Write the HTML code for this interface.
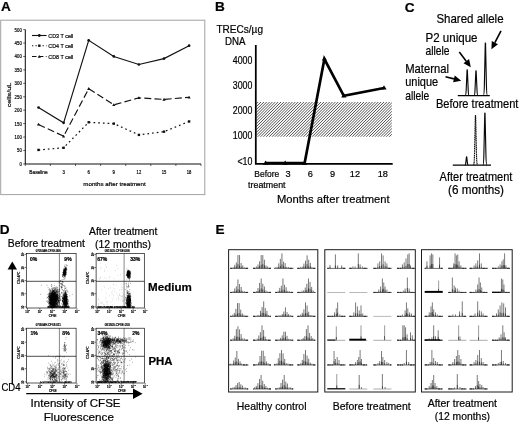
<!DOCTYPE html>
<html><head><meta charset="utf-8"><title>Figure</title>
<style>
html,body{margin:0;padding:0;background:#fff;}
body{width:520px;height:423px;overflow:hidden;font-family:"Liberation Sans",sans-serif;}
svg{display:block;filter:blur(0.3px);}
svg text{font-family:"Liberation Sans",sans-serif;fill:#000;stroke:#000;stroke-width:0.2px;}
</style></head><body>
<svg width="520" height="423" viewBox="0 0 520 423">
<rect width="520" height="423" fill="#fff"/>
<text x="1.0" y="11.4" font-size="13.6" text-anchor="start" font-weight="bold">A</text>
<text x="214.9" y="11.4" font-size="13.6" text-anchor="start" font-weight="bold">B</text>
<text x="404.8" y="11.8" font-size="13.6" text-anchor="start" font-weight="bold">C</text>
<text x="-0.3" y="233.9" font-size="13.6" text-anchor="start" font-weight="bold">D</text>
<text x="215.4" y="233.7" font-size="13.6" text-anchor="start" font-weight="bold">E</text>
<rect x="0.7" y="20.2" width="204.1" height="174.4" fill="#fff" stroke="#a2a2a2" stroke-width="1"/>
<path d="M25.3 29.6V163.9H201" fill="none" stroke="#111" stroke-width="1.05"/>
<path d="M23.2 163.90H25.3" stroke="#222" stroke-width="0.7"/>
<text x="21.8" y="165.8" font-size="5.3" text-anchor="end" font-weight="normal" textLength="2.4" lengthAdjust="spacingAndGlyphs" fill="#222" stroke-width="0.1">0</text>
<path d="M23.2 150.47H25.3" stroke="#222" stroke-width="0.7"/>
<text x="21.8" y="152.37" font-size="5.3" text-anchor="end" font-weight="normal" textLength="4.8" lengthAdjust="spacingAndGlyphs" fill="#222" stroke-width="0.1">50</text>
<path d="M23.2 137.04H25.3" stroke="#222" stroke-width="0.7"/>
<text x="21.8" y="138.94000000000003" font-size="5.3" text-anchor="end" font-weight="normal" textLength="7.2" lengthAdjust="spacingAndGlyphs" fill="#222" stroke-width="0.1">100</text>
<path d="M23.2 123.61H25.3" stroke="#222" stroke-width="0.7"/>
<text x="21.8" y="125.51000000000002" font-size="5.3" text-anchor="end" font-weight="normal" textLength="7.2" lengthAdjust="spacingAndGlyphs" fill="#222" stroke-width="0.1">150</text>
<path d="M23.2 110.18H25.3" stroke="#222" stroke-width="0.7"/>
<text x="21.8" y="112.08000000000001" font-size="5.3" text-anchor="end" font-weight="normal" textLength="7.2" lengthAdjust="spacingAndGlyphs" fill="#222" stroke-width="0.1">200</text>
<path d="M23.2 96.75H25.3" stroke="#222" stroke-width="0.7"/>
<text x="21.8" y="98.65" font-size="5.3" text-anchor="end" font-weight="normal" textLength="7.2" lengthAdjust="spacingAndGlyphs" fill="#222" stroke-width="0.1">250</text>
<path d="M23.2 83.32H25.3" stroke="#222" stroke-width="0.7"/>
<text x="21.8" y="85.22000000000001" font-size="5.3" text-anchor="end" font-weight="normal" textLength="7.2" lengthAdjust="spacingAndGlyphs" fill="#222" stroke-width="0.1">300</text>
<path d="M23.2 69.89H25.3" stroke="#222" stroke-width="0.7"/>
<text x="21.8" y="71.79" font-size="5.3" text-anchor="end" font-weight="normal" textLength="7.2" lengthAdjust="spacingAndGlyphs" fill="#222" stroke-width="0.1">350</text>
<path d="M23.2 56.46H25.3" stroke="#222" stroke-width="0.7"/>
<text x="21.8" y="58.36000000000001" font-size="5.3" text-anchor="end" font-weight="normal" textLength="7.2" lengthAdjust="spacingAndGlyphs" fill="#222" stroke-width="0.1">400</text>
<path d="M23.2 43.03H25.3" stroke="#222" stroke-width="0.7"/>
<text x="21.8" y="44.93" font-size="5.3" text-anchor="end" font-weight="normal" textLength="7.2" lengthAdjust="spacingAndGlyphs" fill="#222" stroke-width="0.1">450</text>
<path d="M23.2 29.60H25.3" stroke="#222" stroke-width="0.7"/>
<text x="21.8" y="31.499999999999993" font-size="5.3" text-anchor="end" font-weight="normal" textLength="7.2" lengthAdjust="spacingAndGlyphs" fill="#222" stroke-width="0.1">500</text>
<path d="M25.30 163.9V166" stroke="#222" stroke-width="0.7"/>
<path d="M50.40 163.9V166" stroke="#222" stroke-width="0.7"/>
<path d="M75.50 163.9V166" stroke="#222" stroke-width="0.7"/>
<path d="M100.60 163.9V166" stroke="#222" stroke-width="0.7"/>
<path d="M125.70 163.9V166" stroke="#222" stroke-width="0.7"/>
<path d="M150.80 163.9V166" stroke="#222" stroke-width="0.7"/>
<path d="M175.90 163.9V166" stroke="#222" stroke-width="0.7"/>
<path d="M201.00 163.9V166" stroke="#222" stroke-width="0.7"/>
<text x="38.5" y="174.2" font-size="5.3" text-anchor="middle" font-weight="normal" textLength="18.4" lengthAdjust="spacingAndGlyphs" fill="#222" stroke-width="0.1">Baseline</text>
<text x="63.6" y="174.2" font-size="5.3" text-anchor="middle" font-weight="normal" textLength="2.4" lengthAdjust="spacingAndGlyphs" fill="#222" stroke-width="0.1">3</text>
<text x="88.7" y="174.2" font-size="5.3" text-anchor="middle" font-weight="normal" textLength="2.4" lengthAdjust="spacingAndGlyphs" fill="#222" stroke-width="0.1">6</text>
<text x="113.80000000000001" y="174.2" font-size="5.3" text-anchor="middle" font-weight="normal" textLength="2.4" lengthAdjust="spacingAndGlyphs" fill="#222" stroke-width="0.1">9</text>
<text x="138.9" y="174.2" font-size="5.3" text-anchor="middle" font-weight="normal" textLength="4.6" lengthAdjust="spacingAndGlyphs" fill="#222" stroke-width="0.1">12</text>
<text x="164.0" y="174.2" font-size="5.3" text-anchor="middle" font-weight="normal" textLength="4.6" lengthAdjust="spacingAndGlyphs" fill="#222" stroke-width="0.1">15</text>
<text x="189.10000000000002" y="174.2" font-size="5.3" text-anchor="middle" font-weight="normal" textLength="4.6" lengthAdjust="spacingAndGlyphs" fill="#222" stroke-width="0.1">18</text>
<text x="114.5" y="185.6" font-size="6.2" text-anchor="middle" font-weight="normal" textLength="62.4" lengthAdjust="spacingAndGlyphs" fill="#222" stroke-width="0.1">months after treatment</text>
<text transform="translate(11.4 95) rotate(-90)" font-size="6" stroke-width="0.1" text-anchor="middle" textLength="24.6" lengthAdjust="spacingAndGlyphs" fill="#222">cells/uL</text>
<polyline points="38.50,107.49 63.60,122.80 88.70,40.34 113.80,56.46 138.90,64.52 164.00,58.61 189.10,45.72" fill="none" stroke="#111" stroke-width="1.15"/>
<polyline points="38.50,149.93 63.60,147.78 88.70,122.27 113.80,123.61 138.90,134.89 164.00,131.67 189.10,121.46" fill="none" stroke="#111" stroke-width="1.2" stroke-dasharray="1.7 3"/>
<polyline points="38.50,124.42 63.60,136.23 88.70,88.69 113.80,104.81 138.90,97.82 164.00,99.44 189.10,97.29" fill="none" stroke="#111" stroke-width="1.15" stroke-dasharray="7 3.2"/>
<circle cx="38.50" cy="107.49" r="1.35" fill="#111"/>
<rect x="37.30" y="148.73" width="2.4" height="2.4" fill="#111"/>
<path d="M36.90 125.62L40.10 125.62L38.50 122.82Z" fill="#111"/>
<circle cx="63.60" cy="122.80" r="1.35" fill="#111"/>
<rect x="62.40" y="146.58" width="2.4" height="2.4" fill="#111"/>
<path d="M62.00 137.43L65.20 137.43L63.60 134.63Z" fill="#111"/>
<circle cx="88.70" cy="40.34" r="1.35" fill="#111"/>
<rect x="87.50" y="121.07" width="2.4" height="2.4" fill="#111"/>
<path d="M87.10 89.89L90.30 89.89L88.70 87.09Z" fill="#111"/>
<circle cx="113.80" cy="56.46" r="1.35" fill="#111"/>
<rect x="112.60" y="122.41" width="2.4" height="2.4" fill="#111"/>
<path d="M112.20 106.01L115.40 106.01L113.80 103.21Z" fill="#111"/>
<circle cx="138.90" cy="64.52" r="1.35" fill="#111"/>
<rect x="137.70" y="133.69" width="2.4" height="2.4" fill="#111"/>
<path d="M137.30 99.02L140.50 99.02L138.90 96.22Z" fill="#111"/>
<circle cx="164.00" cy="58.61" r="1.35" fill="#111"/>
<rect x="162.80" y="130.47" width="2.4" height="2.4" fill="#111"/>
<path d="M162.40 100.64L165.60 100.64L164.00 97.84Z" fill="#111"/>
<circle cx="189.10" cy="45.72" r="1.35" fill="#111"/>
<rect x="187.90" y="120.26" width="2.4" height="2.4" fill="#111"/>
<path d="M187.50 98.49L190.70 98.49L189.10 95.69Z" fill="#111"/>
<path d="M32 35.5H46.6" stroke="#111" stroke-width="1.1"/>
<circle cx="39.3" cy="35.5" r="1.4" fill="#111"/>
<text x="48.3" y="37.6" font-size="6" text-anchor="start" font-weight="normal" textLength="25" lengthAdjust="spacingAndGlyphs" fill="#222" stroke-width="0.1">CD3 T cell</text>
<path d="M32 45.7H46.6" stroke="#111" stroke-width="1.1" stroke-dasharray="1.3 2.2"/>
<rect x="38.1" y="44.5" width="2.4" height="2.4" fill="#111"/>
<text x="48.3" y="47.800000000000004" font-size="6" text-anchor="start" font-weight="normal" textLength="25" lengthAdjust="spacingAndGlyphs" fill="#222" stroke-width="0.1">CD4 T cell</text>
<path d="M32 56.5H46.6" stroke="#111" stroke-width="1.1" stroke-dasharray="4.5 2.4"/>
<path d="M37.7 57.7L40.9 57.7L39.3 54.9Z" fill="#111"/>
<text x="48.3" y="58.6" font-size="6" text-anchor="start" font-weight="normal" textLength="25" lengthAdjust="spacingAndGlyphs" fill="#222" stroke-width="0.1">CD8 T cell</text>
<text x="216.4" y="33.1" font-size="10.2" text-anchor="start" font-weight="normal" textLength="46.6" lengthAdjust="spacingAndGlyphs">TRECs/&#181;g</text>
<text x="225" y="45" font-size="10.2" text-anchor="start" font-weight="normal" textLength="20.5" lengthAdjust="spacingAndGlyphs">DNA</text>
<defs><pattern id="h" width="2.02" height="6" patternUnits="userSpaceOnUse" patternTransform="rotate(45)"><rect x="0" y="0" width="1.0" height="6" fill="#262626"/></pattern></defs>
<clipPath id="hc"><rect x="256.4" y="101.9" width="135.40000000000003" height="34.79999999999998"/></clipPath>
<path d="M219.60 137.70l36.80 -36.80M222.46 137.70l36.80 -36.80M225.32 137.70l36.80 -36.80M228.18 137.70l36.80 -36.80M231.04 137.70l36.80 -36.80M233.90 137.70l36.80 -36.80M236.76 137.70l36.80 -36.80M239.62 137.70l36.80 -36.80M242.48 137.70l36.80 -36.80M245.34 137.70l36.80 -36.80M248.20 137.70l36.80 -36.80M251.06 137.70l36.80 -36.80M253.92 137.70l36.80 -36.80M256.78 137.70l36.80 -36.80M259.64 137.70l36.80 -36.80M262.50 137.70l36.80 -36.80M265.36 137.70l36.80 -36.80M268.22 137.70l36.80 -36.80M271.08 137.70l36.80 -36.80M273.94 137.70l36.80 -36.80M276.80 137.70l36.80 -36.80M279.66 137.70l36.80 -36.80M282.52 137.70l36.80 -36.80M285.38 137.70l36.80 -36.80M288.24 137.70l36.80 -36.80M291.10 137.70l36.80 -36.80M293.96 137.70l36.80 -36.80M296.82 137.70l36.80 -36.80M299.68 137.70l36.80 -36.80M302.54 137.70l36.80 -36.80M305.40 137.70l36.80 -36.80M308.26 137.70l36.80 -36.80M311.12 137.70l36.80 -36.80M313.98 137.70l36.80 -36.80M316.84 137.70l36.80 -36.80M319.70 137.70l36.80 -36.80M322.56 137.70l36.80 -36.80M325.42 137.70l36.80 -36.80M328.28 137.70l36.80 -36.80M331.14 137.70l36.80 -36.80M334.00 137.70l36.80 -36.80M336.86 137.70l36.80 -36.80M339.72 137.70l36.80 -36.80M342.58 137.70l36.80 -36.80M345.44 137.70l36.80 -36.80M348.30 137.70l36.80 -36.80M351.16 137.70l36.80 -36.80M354.02 137.70l36.80 -36.80M356.88 137.70l36.80 -36.80M359.74 137.70l36.80 -36.80M362.60 137.70l36.80 -36.80M365.46 137.70l36.80 -36.80M368.32 137.70l36.80 -36.80M371.18 137.70l36.80 -36.80M374.04 137.70l36.80 -36.80M376.90 137.70l36.80 -36.80M379.76 137.70l36.80 -36.80M382.62 137.70l36.80 -36.80M385.48 137.70l36.80 -36.80M388.34 137.70l36.80 -36.80M391.20 137.70l36.80 -36.80" stroke="#3a3a3a" stroke-width="0.88" fill="none" clip-path="url(#hc)"/>
<path d="M255.8 45V163.8H392.7" fill="none" stroke="#000" stroke-width="1.75"/>
<text x="252.4" y="63.6" font-size="10" text-anchor="end" font-weight="normal" textLength="19.6" lengthAdjust="spacingAndGlyphs">4000</text>
<text x="252.4" y="88.6" font-size="10" text-anchor="end" font-weight="normal" textLength="19.6" lengthAdjust="spacingAndGlyphs">3000</text>
<text x="252.4" y="114.39999999999999" font-size="10" text-anchor="end" font-weight="normal" textLength="19.6" lengthAdjust="spacingAndGlyphs">2000</text>
<text x="252.4" y="139.0" font-size="10" text-anchor="end" font-weight="normal" textLength="19.6" lengthAdjust="spacingAndGlyphs">1000</text>
<text x="252.4" y="165.0" font-size="10" text-anchor="end" font-weight="normal" textLength="15" lengthAdjust="spacingAndGlyphs">&lt;10</text>
<polyline points="265.6,163.2 285.2,163.2 304.6,163.2 324.4,59 343.8,95.8 384,88" fill="none" stroke="#000" stroke-width="2.7" stroke-linejoin="miter"/>
<path d="M263.0 164.79999999999998L268.20000000000005 164.79999999999998L265.6 160.39999999999998Z" fill="#000"/>
<path d="M282.59999999999997 164.79999999999998L287.8 164.79999999999998L285.2 160.39999999999998Z" fill="#000"/>
<path d="M302.0 164.79999999999998L307.20000000000005 164.79999999999998L304.6 160.39999999999998Z" fill="#000"/>
<path d="M321.79999999999995 60.6L327.0 60.6L324.4 56.2Z" fill="#000"/>
<path d="M341.2 97.39999999999999L346.40000000000003 97.39999999999999L343.8 93.0Z" fill="#000"/>
<path d="M381.4 89.6L386.6 89.6L384 85.2Z" fill="#000"/>
<text x="266.8" y="177.3" font-size="8.6" text-anchor="middle" font-weight="normal" textLength="25" lengthAdjust="spacingAndGlyphs">Before</text>
<text x="266.8" y="188.3" font-size="8.6" text-anchor="middle" font-weight="normal" textLength="37.5" lengthAdjust="spacingAndGlyphs">treatment</text>
<text x="288" y="176.7" font-size="9.2" text-anchor="middle" font-weight="normal">3</text>
<text x="310.3" y="176.7" font-size="9.2" text-anchor="middle" font-weight="normal">6</text>
<text x="332.6" y="176.7" font-size="9.2" text-anchor="middle" font-weight="normal">9</text>
<text x="354.9" y="176.7" font-size="9.2" text-anchor="middle" font-weight="normal">12</text>
<text x="382.8" y="176.7" font-size="9.2" text-anchor="middle" font-weight="normal">18</text>
<text x="333.3" y="203" font-size="11.2" text-anchor="middle" font-weight="normal" textLength="112.7" lengthAdjust="spacingAndGlyphs">Months after treatment</text>
<text x="436.4" y="22.9" font-size="11.9" text-anchor="start" font-weight="normal" textLength="67.2" lengthAdjust="spacingAndGlyphs">Shared allele</text>
<text x="425.5" y="41.6" font-size="11.9" text-anchor="start" font-weight="normal" textLength="52" lengthAdjust="spacingAndGlyphs">P2 unique</text>
<text x="425.5" y="54.7" font-size="11.9" text-anchor="start" font-weight="normal" textLength="24" lengthAdjust="spacingAndGlyphs">allele</text>
<text x="405.2" y="73.4" font-size="11.9" text-anchor="start" font-weight="normal" textLength="43.8" lengthAdjust="spacingAndGlyphs">Maternal</text>
<text x="405.2" y="86.3" font-size="11.9" text-anchor="start" font-weight="normal" textLength="33" lengthAdjust="spacingAndGlyphs">unique</text>
<text x="405.2" y="100.2" font-size="11.9" text-anchor="start" font-weight="normal" textLength="24" lengthAdjust="spacingAndGlyphs">allele</text>
<text x="435.9" y="108.2" font-size="11.9" text-anchor="start" font-weight="normal" textLength="82.5" lengthAdjust="spacingAndGlyphs">Before treatment</text>
<text x="439.6" y="180.7" font-size="11.9" text-anchor="start" font-weight="normal" textLength="72.8" lengthAdjust="spacingAndGlyphs">After treatment</text>
<text x="448" y="194" font-size="11.9" text-anchor="start" font-weight="normal" textLength="56" lengthAdjust="spacingAndGlyphs">(6 months)</text>
<path d="M457.8 95.6H489.8" stroke="#000" stroke-width="1.25"/>
<path d="M465.20 95.5Q465.96 95.5 466.20 89.85L467.08 69.8L467.32 69.8L468.20 89.85Q468.44 95.5 469.20 95.5" fill="none" stroke="#0a0a0a" stroke-width="1.15" stroke-linejoin="round"/>
<path d="M474.00 95.5Q474.76 95.5 475.00 90.07L475.88 70.8L476.12 70.8L477.00 90.07Q477.24 95.5 478.00 95.5" fill="none" stroke="#0a0a0a" stroke-width="1.15" stroke-linejoin="round"/>
<path d="M483.40 95.5Q484.16 95.5 484.40 83.95L485.28 43L485.52 43L486.40 83.95Q486.64 95.5 487.40 95.5" fill="none" stroke="#0a0a0a" stroke-width="1.15" stroke-linejoin="round"/>
<path d="M452.8 165.1H491" stroke="#000" stroke-width="1.25"/>
<path d="M464.90 165Q465.55 165 465.75 163.17L466.48 156.7L466.72 156.7L467.45 163.17Q467.65 165 468.30 165" fill="none" stroke="#0a0a0a" stroke-width="1.15" stroke-linejoin="round"/>
<path d="M473.50 165Q474.26 165 474.50 154.13L475.38 115.6L475.62 115.6L476.50 154.13Q476.74 165 477.50 165" fill="none" stroke="#0a0a0a" stroke-width="1.15" stroke-linejoin="round" stroke-dasharray="1.3 0.5"/>
<path d="M482.90 165Q483.66 165 483.90 153.56L484.78 113L485.02 113L485.90 153.56Q486.14 165 486.90 165" fill="none" stroke="#0a0a0a" stroke-width="1.15" stroke-linejoin="round"/>
<path d="M501.00 30.80L494.87 42.55" stroke="#000" stroke-width="1.6"/>
<path d="M491.40 49.20L491.77 40.93L497.97 44.17Z" fill="#000"/>
<path d="M459.30 52.00L466.27 61.22" stroke="#000" stroke-width="1.6"/>
<path d="M470.80 67.20L463.48 63.33L469.07 59.11Z" fill="#000"/>
<path d="M445.50 76.80L453.92 78.89" stroke="#000" stroke-width="1.6"/>
<path d="M461.20 80.70L453.08 82.29L454.76 75.50Z" fill="#000"/>
<text x="7.8" y="246.8" font-size="10.9" text-anchor="start" font-weight="normal" textLength="77" lengthAdjust="spacingAndGlyphs">Before treatment</text>
<text x="89.1" y="234.7" font-size="10.9" text-anchor="start" font-weight="normal" textLength="68.4" lengthAdjust="spacingAndGlyphs">After treatment</text>
<text x="95" y="247.5" font-size="10.9" text-anchor="start" font-weight="normal" textLength="56" lengthAdjust="spacingAndGlyphs">(12 months)</text>
<text x="148.1" y="290.8" font-size="11.2" text-anchor="start" font-weight="bold" textLength="43.7" lengthAdjust="spacingAndGlyphs">Medium</text>
<text x="148.4" y="365.4" font-size="11.2" text-anchor="start" font-weight="bold" textLength="24.1" lengthAdjust="spacingAndGlyphs">PHA</text>
<text x="1.5" y="391.2" font-size="10.6" text-anchor="start" font-weight="normal" textLength="19" lengthAdjust="spacingAndGlyphs">CD4</text>
<text x="30.6" y="406.9" font-size="11.2" text-anchor="start" font-weight="normal" textLength="90" lengthAdjust="spacingAndGlyphs">Intensity of CFSE</text>
<text x="43.7" y="421" font-size="11.2" text-anchor="start" font-weight="normal" textLength="70.3" lengthAdjust="spacingAndGlyphs">Fluorescence</text>
<path d="M12.3 268V384.4" stroke="#000" stroke-width="1.3"/>
<path d="M12.3 261.6L7.6 269.6L17 269.6Z" fill="#000"/>
<path d="M26.2 393.7H134" stroke="#000" stroke-width="1.3"/>
<path d="M142.6 393.7L133 388.6L133 398.9Z" fill="#000"/>
<rect x="26.3" y="253.6" width="49.8" height="54.400000000000006" fill="none" stroke="#000" stroke-width="0.65"/>
<path d="M26.3 281.3H76.1" stroke="#000" stroke-width="0.7" fill="none"/>
<path d="M59.4 253.6V308" stroke="#111" stroke-width="0.5" fill="none"/>
<text x="30.1" y="260.5" font-size="5.0" text-anchor="start" font-weight="bold" fill="#000" font-family="Liberation Serif" stroke-width="0.18">0%</text>
<text x="71.6" y="260.5" font-size="5.0" text-anchor="end" font-weight="bold" fill="#000" font-family="Liberation Serif" stroke-width="0.18">9%</text>
<text x="48.199999999999996" y="251.6" font-size="2.9" text-anchor="middle" font-weight="normal" textLength="25" lengthAdjust="spacingAndGlyphs" fill="#555" stroke="none">070504H.CFSE.006</text>
<path d="M27.50 308v1.8" stroke="#222" stroke-width="0.6"/>
<text x="26.9" y="313.0" font-size="2.8" text-anchor="middle" font-weight="normal" fill="#444" stroke="none">10</text>
<text x="29.3" y="311.4" font-size="2.0" text-anchor="middle" font-weight="normal" fill="#444" stroke="none">0</text>
<path d="M26.3 306.80h-1.8" stroke="#222" stroke-width="0.6"/>
<text transform="translate(23.90 307.20) rotate(-90)" font-size="2.8" stroke="none" text-anchor="middle" fill="#444">10</text>
<path d="M39.85 308v1.8" stroke="#222" stroke-width="0.6"/>
<text x="39.25" y="313.0" font-size="2.8" text-anchor="middle" font-weight="normal" fill="#444" stroke="none">10</text>
<text x="41.65" y="311.4" font-size="2.0" text-anchor="middle" font-weight="normal" fill="#444" stroke="none">1</text>
<path d="M26.3 293.70h-1.8" stroke="#222" stroke-width="0.6"/>
<text transform="translate(23.90 294.10) rotate(-90)" font-size="2.8" stroke="none" text-anchor="middle" fill="#444">10</text>
<path d="M52.20 308v1.8" stroke="#222" stroke-width="0.6"/>
<text x="51.6" y="313.0" font-size="2.8" text-anchor="middle" font-weight="normal" fill="#444" stroke="none">10</text>
<text x="54.0" y="311.4" font-size="2.0" text-anchor="middle" font-weight="normal" fill="#444" stroke="none">2</text>
<path d="M26.3 280.60h-1.8" stroke="#222" stroke-width="0.6"/>
<text transform="translate(23.90 281.00) rotate(-90)" font-size="2.8" stroke="none" text-anchor="middle" fill="#444">10</text>
<path d="M64.55 308v1.8" stroke="#222" stroke-width="0.6"/>
<text x="63.949999999999996" y="313.0" font-size="2.8" text-anchor="middle" font-weight="normal" fill="#444" stroke="none">10</text>
<text x="66.35" y="311.4" font-size="2.0" text-anchor="middle" font-weight="normal" fill="#444" stroke="none">3</text>
<path d="M26.3 267.50h-1.8" stroke="#222" stroke-width="0.6"/>
<text transform="translate(23.90 267.90) rotate(-90)" font-size="2.8" stroke="none" text-anchor="middle" fill="#444">10</text>
<path d="M76.90 308v1.8" stroke="#222" stroke-width="0.6"/>
<text x="76.30000000000001" y="313.0" font-size="2.8" text-anchor="middle" font-weight="normal" fill="#444" stroke="none">10</text>
<text x="78.7" y="311.4" font-size="2.0" text-anchor="middle" font-weight="normal" fill="#444" stroke="none">4</text>
<path d="M26.3 254.40h-1.8" stroke="#222" stroke-width="0.6"/>
<text transform="translate(23.90 254.80) rotate(-90)" font-size="2.8" stroke="none" text-anchor="middle" fill="#444">10</text>
<text x="52.699999999999996" y="317.2" font-size="2.9" text-anchor="middle" font-weight="normal" fill="#555" stroke="none">CFSE</text>
<text transform="translate(19.50 277.80) rotate(-90)" font-size="2.9" stroke="none" text-anchor="middle" fill="#555">CD4 APC</text>
<rect x="22.1" y="252.4" width="1" height="1" fill="#222"/>
<path d="M65.7 273.3h0.55M64.2 271.7h0.55M65.3 268.3h0.55M64.7 272.9h0.55M63.4 274.4h0.55M64.6 271.8h0.55M64.5 272.0h0.55M62.4 275.3h0.55M65.9 269.3h0.55M65.7 268.6h0.55M64.3 270.5h0.55M65.0 269.2h0.55M64.2 275.6h0.55M64.1 272.9h0.55M64.7 270.0h0.55M63.7 270.5h0.55M63.5 279.3h0.55M64.9 270.7h0.55M65.1 270.4h0.55M63.2 272.7h0.55M65.5 274.0h0.55M64.5 272.8h0.55M64.6 269.9h0.55M66.7 269.7h0.55M64.2 273.7h0.55M63.4 271.8h0.55M65.0 268.1h0.55M62.1 274.7h0.55M64.9 274.3h0.55M64.3 271.5h0.55M64.0 271.4h0.55M65.2 272.9h0.55M63.5 270.3h0.55M65.6 269.0h0.55M62.7 272.7h0.55M64.7 268.6h0.55M63.4 273.0h0.55M66.4 268.9h0.55M65.9 272.2h0.55M64.3 271.8h0.55M64.3 276.7h0.55M64.9 269.6h0.55M65.6 268.8h0.55M64.2 270.5h0.55M63.7 269.2h0.55M63.4 270.5h0.55M64.6 273.3h0.55M65.9 274.4h0.55M63.9 276.3h0.55M64.5 270.3h0.55M64.7 279.0h0.55M63.7 277.1h0.55M64.7 271.7h0.55M65.8 266.6h0.55M64.4 272.0h0.55M64.2 272.3h0.55M64.5 266.3h0.55M64.9 272.5h0.55M64.5 271.7h0.55M65.8 270.5h0.55M63.9 273.7h0.55M62.5 274.4h0.55M64.7 271.0h0.55M65.7 273.0h0.55M64.5 270.5h0.55M64.2 270.1h0.55M63.5 272.2h0.55M63.4 273.3h0.55M64.5 270.8h0.55M64.7 266.6h0.55M65.4 273.9h0.55M65.1 268.2h0.55M64.5 272.5h0.55M64.7 276.8h0.55M65.7 272.4h0.55M64.9 269.3h0.55M65.5 268.7h0.55M64.5 275.2h0.55M64.4 272.1h0.55M62.8 273.2h0.55M64.6 274.6h0.55M65.2 272.2h0.55M65.0 271.5h0.55M64.2 269.7h0.55M65.9 264.6h0.55M64.8 268.4h0.55M64.3 272.0h0.55M65.6 272.0h0.55M65.5 273.4h0.55M65.1 272.0h0.55M64.9 272.7h0.55M64.6 274.2h0.55M64.9 270.0h0.55M64.6 271.5h0.55M64.8 268.2h0.55M64.0 274.6h0.55M66.3 272.7h0.55M64.9 273.5h0.55M63.5 275.9h0.55M63.6 274.8h0.55M63.9 271.9h0.55M64.4 274.2h0.55M65.5 268.8h0.55M63.2 273.0h0.55M64.8 272.6h0.55M64.9 268.1h0.55M65.0 275.7h0.55M65.0 270.5h0.55M65.5 274.1h0.55M64.3 271.1h0.55M63.8 274.6h0.55M64.1 275.5h0.55M65.7 270.3h0.55M65.7 268.5h0.55M63.6 271.7h0.55M64.2 274.3h0.55M64.7 271.3h0.55M64.5 270.6h0.55M63.7 273.3h0.55M67.2 265.7h0.55M64.5 270.5h0.55M64.5 268.7h0.55M64.9 273.0h0.55M65.0 270.4h0.55M65.0 269.5h0.55M65.3 271.5h0.55M65.6 268.7h0.55M64.8 272.2h0.55M65.6 270.7h0.55M64.9 271.3h0.55M64.4 270.3h0.55M63.8 274.4h0.55M64.1 271.9h0.55M64.4 273.5h0.55M63.4 273.2h0.55M63.5 269.9h0.55M64.3 273.6h0.55M63.3 272.8h0.55M62.8 272.7h0.55M65.0 271.3h0.55M64.2 271.0h0.55M64.5 274.2h0.55M63.0 277.5h0.55M64.0 270.0h0.55M63.3 273.3h0.55M64.3 271.2h0.55M63.9 274.1h0.55M63.6 273.1h0.55M63.8 274.8h0.55M64.7 265.1h0.55M64.8 270.7h0.55M63.6 269.5h0.55M64.4 271.9h0.55M65.4 270.5h0.55M65.7 270.8h0.55M65.5 274.1h0.55M62.3 276.6h0.55M66.5 265.4h0.55M65.6 271.6h0.55M65.1 273.1h0.55M63.8 272.1h0.55M65.0 271.4h0.55M66.6 269.2h0.55M63.8 269.7h0.55M64.5 274.1h0.55M64.8 275.0h0.55M63.9 272.3h0.55M65.4 270.2h0.55M63.6 272.3h0.55M64.0 271.5h0.55M63.6 273.4h0.55M64.6 272.5h0.55M64.7 270.7h0.55M65.2 272.8h0.55M64.3 269.2h0.55M64.0 274.2h0.55M64.7 275.2h0.55M65.5 269.4h0.55M63.3 273.0h0.55M65.5 269.9h0.55M63.6 274.7h0.55M64.4 274.5h0.55M64.9 271.7h0.55M65.0 274.8h0.55M64.8 271.2h0.55M63.4 270.3h0.55M63.7 270.6h0.55M65.1 272.0h0.55M64.5 271.4h0.55M65.3 272.8h0.55M65.0 270.7h0.55M63.5 274.0h0.55M64.8 274.9h0.55M64.1 270.9h0.55M63.6 268.4h0.55M65.8 274.3h0.55M62.4 274.7h0.55M65.1 271.9h0.55M65.9 269.2h0.55M64.5 272.9h0.55M62.4 275.7h0.55M66.2 267.8h0.55M63.1 273.1h0.55M63.6 271.2h0.55M64.6 270.0h0.55M64.9 273.5h0.55M65.4 269.1h0.55M65.0 273.1h0.55M63.5 275.3h0.55M64.3 272.6h0.55M64.0 269.9h0.55M65.1 267.8h0.55M65.6 269.2h0.55M65.2 267.6h0.55M64.1 276.2h0.55M64.2 271.5h0.55M64.6 269.5h0.55M65.2 269.0h0.55M64.9 269.6h0.55M65.1 271.5h0.55M65.3 269.1h0.55M65.0 276.6h0.55M64.7 270.3h0.55M64.7 270.2h0.55M63.5 272.8h0.55M63.8 275.8h0.55M64.4 275.6h0.55M64.2 270.9h0.55M64.3 272.8h0.55M65.0 272.7h0.55M64.1 273.5h0.55M64.0 272.7h0.55M65.7 270.0h0.55M65.2 269.1h0.55M64.7 272.7h0.55M66.0 269.5h0.55M64.7 275.7h0.55M64.2 272.2h0.55M64.6 269.6h0.55M64.9 271.5h0.55M64.6 270.9h0.55M63.1 271.6h0.55M65.0 274.7h0.55M65.2 268.7h0.55M66.0 267.7h0.55M63.4 272.8h0.55M65.6 272.0h0.55M64.0 272.5h0.55M64.2 273.3h0.55M63.5 271.5h0.55M64.0 274.1h0.55M64.8 270.0h0.55M64.3 272.3h0.55M65.3 270.2h0.55M65.1 269.4h0.55M65.0 273.9h0.55M63.9 273.5h0.55M64.7 267.3h0.55M65.0 269.4h0.55M64.8 273.0h0.55M64.9 275.0h0.55M65.5 270.7h0.55M63.2 271.5h0.55M65.5 268.8h0.55M64.4 278.6h0.55M64.3 273.4h0.55M63.7 274.3h0.55M64.4 273.9h0.55M63.6 274.4h0.55M64.7 273.8h0.55M64.7 271.4h0.55M65.2 274.2h0.55M64.9 272.5h0.55M63.3 275.3h0.55M65.3 270.5h0.55M65.5 271.0h0.55M63.7 273.7h0.55M63.5 275.3h0.55M62.6 272.2h0.55M65.6 270.6h0.55M64.1 271.8h0.55M63.1 270.6h0.55M62.2 276.6h0.55M63.9 274.4h0.55M64.5 275.4h0.55M64.3 272.9h0.55M65.1 270.9h0.55M63.1 274.9h0.55M62.6 276.0h0.55M64.9 273.8h0.55M64.9 272.2h0.55M63.9 274.8h0.55M65.7 271.5h0.55M63.4 273.9h0.55M64.5 270.4h0.55M65.8 270.0h0.55M65.7 273.9h0.55M64.3 273.0h0.55M64.9 277.1h0.55M64.2 271.4h0.55M52.6 305.0h0.55M50.4 299.0h0.55M49.0 300.7h0.55M49.2 302.4h0.55M53.5 302.4h0.55M50.4 303.2h0.55M54.7 305.3h0.55M55.3 301.9h0.55M52.1 297.7h0.55M53.0 299.5h0.55M54.7 301.3h0.55M52.2 296.3h0.55M54.4 290.0h0.55M50.8 296.2h0.55M53.8 299.9h0.55M51.7 302.0h0.55M52.4 299.8h0.55M53.8 303.1h0.55M52.9 304.0h0.55M52.5 304.0h0.55M54.0 299.7h0.55M54.1 300.0h0.55M50.0 298.7h0.55M53.7 295.8h0.55M53.9 305.9h0.55M51.2 294.2h0.55M53.3 299.4h0.55M50.1 300.7h0.55M55.3 290.3h0.55M52.1 302.9h0.55M52.5 298.1h0.55M54.9 300.7h0.55M52.3 298.2h0.55M53.7 292.9h0.55M50.6 300.5h0.55M51.5 300.1h0.55M50.0 304.1h0.55M52.2 301.8h0.55M54.6 292.3h0.55M53.0 304.5h0.55M54.3 303.2h0.55M50.7 303.1h0.55M50.9 301.8h0.55M51.7 296.6h0.55M53.7 302.0h0.55M53.3 298.1h0.55M53.8 298.6h0.55M52.3 294.8h0.55M52.6 298.2h0.55M55.1 306.0h0.55M51.5 297.2h0.55M52.9 288.9h0.55M55.7 306.2h0.55M52.8 301.1h0.55M53.9 297.5h0.55M51.4 302.8h0.55M56.3 295.6h0.55M48.3 294.5h0.55M50.4 303.9h0.55M50.6 297.4h0.55M55.7 302.0h0.55M53.3 299.7h0.55M52.1 303.4h0.55M50.2 300.2h0.55M53.3 290.7h0.55M52.8 302.7h0.55M51.3 297.6h0.55M49.8 303.6h0.55M50.5 300.2h0.55M53.0 306.0h0.55M53.2 298.3h0.55M52.7 290.6h0.55M52.3 298.3h0.55M49.2 302.0h0.55M52.7 298.2h0.55M50.6 297.6h0.55M52.7 306.2h0.55M53.5 299.0h0.55M51.3 304.3h0.55M50.7 300.3h0.55M54.5 293.3h0.55M53.3 295.5h0.55M51.4 298.3h0.55M46.9 301.0h0.55M52.5 296.1h0.55M53.8 293.5h0.55M54.7 295.2h0.55M51.3 297.4h0.55M51.4 295.8h0.55M51.8 297.1h0.55M50.4 300.9h0.55M52.4 296.1h0.55M50.8 299.6h0.55M53.1 306.6h0.55M49.6 302.5h0.55M53.3 299.2h0.55M51.7 293.7h0.55M52.2 292.2h0.55M53.6 298.2h0.55M54.8 299.2h0.55M49.4 292.5h0.55M54.5 293.8h0.55M53.7 299.5h0.55M52.0 289.9h0.55M55.3 292.1h0.55M53.0 299.4h0.55M55.1 302.1h0.55M51.5 301.1h0.55M51.0 304.0h0.55M54.9 306.6h0.55M56.7 303.6h0.55M53.8 298.5h0.55M51.7 307.1h0.55M50.1 303.8h0.55M52.2 296.1h0.55M55.5 301.4h0.55M49.1 290.5h0.55M51.7 298.2h0.55M49.0 288.7h0.55M52.8 297.8h0.55M54.3 304.2h0.55M50.2 299.8h0.55M51.8 306.8h0.55M55.1 299.7h0.55M52.4 300.2h0.55M50.2 298.4h0.55M50.1 302.1h0.55M48.8 299.6h0.55M54.1 305.0h0.55M51.2 306.8h0.55M54.6 301.4h0.55M54.2 294.8h0.55M51.3 302.2h0.55M51.6 305.7h0.55M54.1 302.6h0.55M52.9 301.0h0.55M53.1 303.9h0.55M49.5 305.6h0.55M54.3 288.3h0.55M50.9 306.4h0.55M48.3 303.2h0.55M51.4 301.9h0.55M53.4 297.3h0.55M56.6 300.8h0.55M51.9 302.4h0.55M50.1 293.2h0.55M56.6 303.1h0.55M52.9 300.1h0.55M52.1 306.2h0.55M50.6 302.7h0.55M50.7 299.0h0.55M55.4 300.0h0.55M52.1 302.6h0.55M51.6 300.4h0.55M51.6 302.2h0.55M55.6 296.6h0.55M51.5 294.3h0.55M53.8 297.2h0.55M53.1 293.5h0.55M53.1 296.3h0.55M50.9 301.3h0.55M53.9 292.6h0.55M55.7 294.4h0.55M52.5 303.0h0.55M50.9 297.4h0.55M50.1 299.7h0.55M53.0 294.3h0.55M52.1 295.2h0.55M52.4 298.4h0.55M52.6 306.9h0.55M49.8 301.7h0.55M54.1 292.4h0.55M53.0 301.7h0.55M52.5 303.8h0.55M53.0 302.8h0.55M54.4 294.4h0.55M52.7 299.5h0.55M54.8 295.7h0.55M51.8 301.2h0.55M51.2 296.5h0.55M49.6 294.2h0.55M52.6 297.9h0.55M50.6 304.3h0.55M51.6 304.9h0.55M53.5 295.9h0.55M52.7 297.7h0.55M54.5 295.9h0.55M53.2 290.6h0.55M51.8 302.4h0.55M52.0 306.6h0.55M51.6 306.4h0.55M53.8 297.7h0.55M52.6 305.6h0.55M51.8 304.6h0.55M54.2 298.3h0.55M52.8 299.8h0.55M51.7 298.2h0.55M49.7 300.8h0.55M53.1 295.7h0.55M52.7 294.5h0.55M51.8 303.6h0.55M51.0 300.1h0.55M52.2 291.5h0.55M53.0 295.4h0.55M52.4 296.2h0.55M52.3 297.1h0.55M51.7 301.2h0.55M53.2 304.2h0.55M53.0 299.1h0.55M51.2 300.5h0.55M54.0 296.5h0.55M54.1 304.3h0.55M54.1 305.7h0.55M52.4 298.7h0.55M52.2 296.6h0.55M54.0 303.9h0.55M48.5 295.9h0.55M51.9 292.4h0.55M52.0 298.5h0.55M54.2 305.1h0.55M52.6 297.5h0.55M50.8 298.8h0.55M49.9 297.7h0.55M51.2 302.7h0.55M52.8 306.0h0.55M52.7 294.3h0.55M52.2 298.6h0.55M51.3 299.0h0.55M52.2 297.1h0.55M54.5 294.6h0.55M50.5 303.5h0.55M52.7 300.6h0.55M55.7 303.0h0.55M53.7 306.5h0.55M51.7 298.3h0.55M53.9 302.3h0.55M51.2 298.1h0.55M52.6 299.5h0.55M55.6 301.3h0.55M56.2 299.2h0.55M49.4 293.2h0.55M53.9 306.5h0.55M56.3 300.5h0.55M51.6 294.8h0.55M53.1 290.2h0.55M55.5 299.8h0.55M51.7 302.8h0.55M53.5 304.3h0.55M52.5 304.8h0.55M48.9 298.2h0.55M53.3 302.7h0.55M52.3 293.1h0.55M54.4 300.6h0.55M56.6 303.9h0.55M53.9 297.2h0.55M51.9 299.2h0.55M53.5 300.4h0.55M53.0 300.5h0.55M54.5 306.5h0.55M49.9 295.1h0.55M50.4 305.8h0.55M48.7 294.4h0.55M53.8 297.0h0.55M52.6 296.5h0.55M51.4 299.5h0.55M51.2 297.7h0.55M51.5 302.0h0.55M50.8 299.9h0.55M51.7 301.6h0.55M55.2 298.8h0.55M53.2 301.5h0.55M51.0 302.5h0.55M51.5 299.1h0.55M54.9 295.0h0.55M53.5 296.3h0.55M53.2 300.7h0.55M54.0 303.6h0.55M55.6 302.0h0.55M50.3 299.5h0.55M51.2 302.4h0.55M49.3 297.7h0.55M53.5 301.0h0.55M51.9 306.2h0.55M51.3 304.8h0.55M51.2 305.9h0.55M53.9 298.3h0.55M52.3 300.8h0.55M51.6 295.4h0.55M55.0 303.9h0.55M50.6 298.0h0.55M50.2 294.1h0.55M57.5 297.7h0.55M51.9 301.0h0.55M51.6 290.2h0.55M51.2 293.6h0.55M52.3 304.2h0.55M54.1 300.3h0.55M54.0 299.7h0.55M53.6 292.8h0.55M52.1 306.9h0.55M49.8 304.4h0.55M53.1 303.0h0.55M55.5 295.0h0.55M54.6 302.4h0.55M52.3 304.9h0.55M54.1 298.4h0.55M51.9 298.8h0.55M52.5 297.8h0.55M50.3 302.5h0.55M52.0 298.8h0.55M52.9 298.5h0.55M52.3 293.5h0.55M54.1 292.6h0.55M56.2 304.0h0.55M55.1 306.8h0.55M52.0 303.7h0.55M51.2 306.1h0.55M51.4 297.5h0.55M50.7 299.6h0.55M52.7 301.5h0.55M53.4 299.1h0.55M52.9 307.2h0.55M53.0 294.0h0.55M52.9 297.3h0.55M52.3 298.3h0.55M51.2 296.7h0.55M55.9 303.6h0.55M54.6 291.1h0.55M50.9 304.9h0.55M50.9 303.8h0.55M51.5 301.2h0.55M52.7 306.0h0.55M54.5 300.7h0.55M54.6 303.1h0.55M54.7 301.6h0.55M54.7 302.2h0.55M54.0 297.7h0.55M53.5 296.7h0.55M52.4 302.6h0.55M49.3 297.6h0.55M52.4 304.0h0.55M56.0 303.4h0.55M51.6 297.9h0.55M51.4 301.5h0.55M54.5 300.3h0.55M52.8 299.3h0.55M51.7 304.9h0.55M55.6 300.1h0.55M53.8 301.0h0.55M54.0 291.4h0.55M51.5 302.6h0.55M53.5 293.6h0.55M53.3 298.2h0.55M54.1 307.0h0.55M54.7 298.2h0.55M52.9 294.4h0.55M53.9 301.7h0.55M50.4 298.2h0.55M53.8 301.4h0.55M53.9 294.0h0.55M51.9 304.9h0.55M51.1 306.8h0.55M52.5 293.6h0.55M50.3 296.6h0.55M53.2 296.9h0.55M53.2 303.2h0.55M50.8 291.3h0.55M52.7 300.9h0.55M54.6 299.0h0.55M54.6 296.5h0.55M54.5 303.1h0.55M52.3 291.4h0.55M52.0 293.9h0.55M51.9 296.5h0.55M53.7 303.1h0.55M57.1 298.4h0.55M55.3 296.3h0.55M55.6 302.1h0.55M55.2 297.9h0.55M49.5 297.1h0.55M52.2 298.7h0.55M51.8 301.5h0.55M55.8 295.2h0.55M51.3 301.2h0.55M52.7 299.3h0.55M53.7 298.9h0.55M51.7 306.7h0.55M51.4 303.4h0.55M51.3 303.0h0.55M54.3 298.0h0.55M50.9 296.3h0.55M54.8 301.3h0.55M52.8 298.8h0.55M54.0 297.5h0.55M55.5 303.0h0.55M51.3 294.8h0.55M51.0 296.9h0.55M53.4 303.5h0.55M50.6 299.7h0.55M51.2 303.0h0.55M52.4 296.3h0.55M52.9 303.2h0.55M50.2 297.0h0.55M51.9 306.0h0.55M53.7 303.6h0.55M55.2 302.1h0.55M48.9 306.8h0.55M55.1 301.6h0.55M54.3 297.3h0.55M50.5 306.9h0.55M49.8 301.6h0.55M53.4 305.5h0.55M51.8 300.8h0.55M52.9 305.2h0.55M54.2 296.3h0.55M51.9 294.6h0.55M52.9 294.0h0.55M53.5 303.5h0.55M54.3 291.5h0.55M55.9 292.3h0.55M55.8 293.9h0.55M53.1 301.2h0.55M52.2 302.1h0.55M57.1 296.6h0.55M53.8 303.6h0.55M53.4 301.6h0.55M50.5 305.5h0.55M54.1 304.3h0.55M51.1 297.2h0.55M51.7 301.1h0.55M50.1 299.5h0.55M51.6 302.2h0.55M52.7 301.1h0.55M49.8 300.3h0.55M50.9 303.3h0.55M52.5 300.5h0.55M50.2 303.4h0.55M50.2 300.4h0.55M51.0 299.5h0.55M49.9 304.3h0.55M53.8 304.4h0.55M50.7 305.7h0.55M54.1 303.0h0.55M54.3 299.3h0.55M50.3 301.1h0.55M52.7 300.9h0.55M51.7 292.5h0.55M50.4 295.3h0.55M52.0 306.9h0.55M52.1 300.0h0.55M53.9 287.7h0.55M54.5 299.7h0.55M50.5 300.9h0.55M51.8 294.8h0.55M54.8 305.2h0.55M48.0 303.8h0.55M55.0 299.4h0.55M52.3 302.3h0.55M55.5 303.9h0.55M51.8 302.3h0.55M51.0 297.3h0.55M52.7 301.0h0.55M54.8 300.8h0.55M52.7 301.5h0.55M48.1 295.6h0.55M53.9 301.3h0.55M49.5 300.2h0.55M50.7 301.2h0.55M50.4 301.1h0.55M49.1 293.9h0.55M50.2 303.9h0.55M50.7 303.4h0.55M51.4 294.3h0.55M52.5 299.7h0.55M52.0 296.4h0.55M49.8 298.1h0.55M52.3 304.5h0.55M54.4 302.4h0.55M52.9 300.5h0.55M53.8 295.2h0.55M54.3 300.6h0.55M55.2 289.4h0.55M52.0 301.2h0.55M52.1 302.0h0.55M55.4 300.7h0.55M55.6 296.3h0.55M55.5 299.5h0.55M48.1 296.5h0.55M52.2 297.7h0.55M46.4 301.4h0.55M54.0 294.7h0.55M52.7 307.1h0.55M52.7 295.2h0.55M52.3 303.5h0.55M55.1 297.1h0.55M52.0 294.4h0.55M54.6 301.5h0.55M53.7 300.5h0.55M53.3 298.8h0.55M53.5 299.5h0.55M52.8 297.0h0.55M50.5 301.6h0.55M54.0 297.6h0.55M54.0 299.8h0.55M52.3 304.6h0.55M54.0 293.9h0.55M54.3 297.2h0.55M50.2 296.7h0.55M52.3 296.2h0.55M51.8 293.7h0.55M50.9 298.4h0.55M53.2 300.3h0.55M51.0 299.1h0.55M51.8 292.6h0.55M53.1 302.6h0.55M53.3 302.7h0.55M53.2 299.9h0.55M56.8 295.2h0.55M51.6 295.8h0.55M50.3 307.1h0.55M53.5 301.6h0.55M54.8 295.5h0.55M54.9 305.1h0.55M51.4 300.3h0.55M52.1 306.9h0.55M55.0 297.0h0.55M52.4 301.6h0.55M54.4 298.6h0.55M50.8 302.8h0.55M55.2 296.7h0.55M54.6 303.5h0.55M53.5 297.8h0.55M51.1 295.6h0.55M52.3 302.0h0.55M52.9 300.5h0.55M53.1 290.3h0.55M52.4 299.3h0.55M52.2 300.0h0.55M53.0 300.3h0.55M48.8 296.7h0.55M50.0 299.4h0.55M49.7 292.1h0.55M51.3 293.1h0.55M49.3 297.0h0.55M53.7 298.9h0.55M52.8 298.6h0.55M52.1 302.3h0.55M51.3 302.7h0.55M52.9 303.9h0.55M52.9 298.8h0.55M53.2 301.7h0.55M51.2 296.4h0.55M53.8 301.1h0.55M49.8 301.6h0.55M55.0 297.3h0.55M46.8 285.4h0.55M51.5 296.6h0.55M54.1 299.1h0.55M49.8 296.7h0.55M56.1 300.0h0.55M49.7 304.4h0.55M56.5 301.0h0.55M53.5 298.6h0.55M52.7 293.9h0.55M53.4 298.2h0.55M56.8 294.2h0.55M54.3 301.0h0.55M48.4 306.1h0.55M54.9 304.1h0.55M53.0 296.9h0.55M49.5 295.2h0.55M54.0 293.4h0.55M50.3 301.4h0.55M52.9 302.0h0.55M53.0 302.9h0.55M51.4 301.0h0.55M53.8 294.2h0.55M50.7 291.0h0.55M53.0 304.4h0.55M51.6 295.8h0.55M56.3 290.2h0.55M52.8 294.6h0.55M50.5 295.3h0.55M52.4 300.6h0.55M51.1 302.4h0.55M52.7 297.0h0.55M52.9 302.1h0.55M52.8 293.7h0.55M52.8 297.2h0.55M51.6 294.1h0.55M53.5 297.0h0.55M54.6 296.6h0.55M51.4 300.8h0.55M52.7 293.4h0.55M55.0 298.5h0.55M54.7 302.4h0.55M51.2 299.7h0.55M52.7 305.6h0.55M49.8 294.9h0.55M50.8 302.8h0.55M52.6 296.0h0.55M53.8 303.0h0.55M54.4 300.1h0.55M52.0 300.5h0.55M50.0 296.8h0.55M53.4 291.3h0.55M52.3 294.6h0.55M53.4 302.5h0.55M52.9 298.2h0.55M54.0 302.6h0.55M53.8 293.6h0.55M54.2 302.2h0.55M51.7 303.8h0.55M54.5 289.7h0.55M51.6 300.8h0.55M56.1 296.1h0.55M53.3 303.8h0.55M50.4 299.6h0.55M55.4 303.2h0.55M54.5 297.7h0.55M54.8 296.0h0.55M53.0 297.5h0.55M53.3 297.8h0.55M52.2 296.8h0.55M51.3 295.6h0.55M55.5 304.3h0.55M51.9 296.9h0.55M51.7 294.1h0.55M51.8 295.3h0.55M56.1 301.6h0.55M54.3 289.6h0.55M51.9 301.6h0.55M52.5 302.6h0.55M53.6 305.1h0.55M54.3 297.5h0.55M49.5 295.8h0.55M54.3 300.2h0.55M52.2 300.1h0.55M51.3 305.2h0.55M51.9 299.7h0.55M54.1 297.6h0.55M55.9 293.6h0.55M52.9 298.5h0.55M53.7 299.8h0.55M51.1 304.7h0.55M53.5 299.9h0.55M54.2 305.4h0.55M49.8 304.9h0.55M51.6 296.1h0.55M54.1 294.5h0.55M49.3 296.7h0.55M51.9 298.4h0.55M53.7 295.9h0.55M49.4 302.6h0.55M51.8 302.4h0.55M52.7 304.8h0.55M54.3 300.7h0.55M50.2 297.6h0.55M54.7 301.3h0.55M53.2 295.5h0.55M54.9 300.1h0.55M54.8 296.1h0.55M53.2 304.6h0.55M53.5 287.8h0.55M49.3 303.2h0.55M50.0 303.4h0.55M50.7 299.3h0.55M51.9 301.0h0.55M54.4 300.4h0.55M49.2 305.2h0.55M52.0 306.8h0.55M50.1 299.5h0.55M49.6 306.7h0.55M55.4 296.7h0.55M52.8 301.3h0.55M55.7 301.4h0.55M54.8 294.0h0.55M50.8 300.9h0.55M49.1 296.6h0.55M56.5 303.0h0.55M51.8 295.6h0.55M50.4 291.7h0.55M53.9 293.8h0.55M52.9 299.6h0.55M51.3 300.9h0.55M51.9 301.0h0.55M52.9 296.1h0.55M52.7 303.0h0.55M54.0 297.1h0.55M51.9 298.5h0.55M51.9 303.8h0.55M53.7 298.8h0.55M53.2 291.2h0.55M54.7 302.6h0.55M52.1 299.5h0.55M52.4 297.8h0.55M50.4 305.2h0.55M55.4 296.7h0.55M50.0 302.4h0.55M53.0 300.1h0.55M53.2 291.6h0.55M54.0 300.4h0.55M49.5 301.0h0.55M52.2 304.3h0.55M49.3 297.6h0.55M55.3 296.7h0.55M51.8 305.6h0.55M49.6 297.6h0.55M51.3 300.7h0.55M55.1 299.3h0.55M55.4 301.2h0.55M55.0 293.6h0.55M51.1 297.1h0.55M52.3 299.2h0.55M55.7 300.0h0.55M51.2 304.3h0.55M52.0 301.7h0.55M50.8 302.0h0.55M50.4 299.2h0.55M54.9 305.0h0.55M53.8 296.8h0.55M53.5 299.1h0.55M53.7 292.9h0.55M54.5 294.9h0.55M55.5 303.2h0.55M52.6 299.3h0.55M52.0 291.3h0.55M50.7 299.3h0.55M54.7 298.4h0.55M51.6 294.5h0.55M49.8 300.9h0.55M52.1 298.3h0.55M52.6 299.5h0.55M54.2 303.6h0.55M54.5 296.8h0.55M51.2 304.2h0.55M51.1 298.3h0.55M52.0 298.3h0.55M50.3 305.1h0.55M52.4 301.1h0.55M53.5 297.7h0.55M52.7 298.9h0.55M49.5 300.4h0.55M50.3 293.1h0.55M55.0 302.4h0.55M50.7 299.4h0.55M54.0 293.8h0.55M53.8 295.3h0.55M52.0 303.3h0.55M50.7 293.9h0.55M50.9 294.8h0.55M52.3 300.4h0.55M52.8 288.2h0.55M51.2 299.1h0.55M52.2 297.1h0.55M52.0 301.6h0.55M50.3 300.3h0.55M52.2 298.0h0.55M49.1 302.8h0.55M52.0 296.2h0.55M52.1 300.9h0.55M51.5 286.7h0.55M48.7 296.8h0.55M54.1 304.8h0.55M53.9 296.9h0.55M53.8 300.0h0.55M53.2 294.3h0.55M50.2 302.8h0.55M52.8 299.9h0.55M50.8 299.3h0.55M56.8 303.4h0.55M51.6 306.5h0.55M53.9 302.8h0.55M49.7 291.7h0.55M50.4 301.1h0.55M51.6 300.5h0.55M53.9 294.3h0.55M53.6 292.2h0.55M53.1 297.5h0.55M49.1 298.0h0.55M54.7 299.0h0.55M50.8 296.0h0.55M55.7 299.9h0.55M56.1 300.6h0.55M54.2 298.0h0.55M54.5 300.9h0.55M50.2 296.7h0.55M57.5 292.3h0.55M53.0 299.2h0.55M54.5 303.1h0.55M52.5 289.9h0.55M50.3 297.0h0.55M52.1 295.4h0.55M52.6 300.4h0.55M53.1 295.4h0.55M55.3 299.8h0.55M53.5 303.6h0.55M53.1 295.9h0.55M52.7 298.9h0.55M56.4 306.4h0.55M51.5 303.1h0.55M54.9 292.1h0.55M50.9 296.3h0.55M53.4 300.6h0.55M52.3 297.4h0.55M58.3 297.3h0.55M57.5 296.2h0.55M49.7 302.0h0.55M50.6 295.9h0.55M52.3 293.7h0.55M55.9 296.8h0.55M54.8 299.3h0.55M53.2 290.5h0.55M49.9 302.8h0.55M51.0 296.1h0.55M47.5 302.5h0.55M49.7 305.4h0.55M53.4 300.7h0.55M54.1 301.6h0.55M50.1 297.3h0.55M52.8 296.3h0.55M55.7 291.0h0.55M52.9 298.4h0.55M52.0 296.9h0.55M53.8 288.9h0.55M53.6 300.5h0.55M52.8 306.0h0.55M51.6 301.1h0.55M51.8 304.4h0.55M52.8 298.1h0.55M51.6 294.8h0.55M55.1 299.6h0.55M54.3 297.8h0.55M54.7 294.3h0.55M56.5 303.8h0.55M55.6 300.1h0.55M55.3 296.4h0.55M53.3 300.2h0.55M52.2 298.7h0.55M57.0 302.0h0.55M51.3 306.3h0.55M51.4 296.6h0.55M51.0 294.1h0.55M53.0 305.4h0.55M54.6 296.6h0.55M52.2 295.3h0.55M49.3 294.1h0.55M53.2 299.3h0.55M54.5 299.8h0.55M52.7 298.2h0.55M52.4 303.0h0.55M53.7 295.7h0.55M55.3 296.7h0.55M52.5 293.8h0.55M49.9 305.4h0.55M51.5 304.1h0.55M52.3 305.1h0.55M49.2 295.7h0.55M54.1 305.2h0.55M51.1 300.6h0.55M53.6 302.5h0.55M53.0 301.9h0.55M52.0 298.0h0.55M55.7 298.6h0.55M51.5 292.6h0.55M51.3 297.0h0.55M53.2 298.4h0.55M54.2 294.3h0.55M52.6 299.8h0.55M50.7 305.0h0.55M53.9 297.2h0.55M53.7 295.2h0.55M56.5 295.7h0.55M52.2 300.2h0.55M53.0 307.1h0.55M51.5 300.1h0.55M49.8 299.6h0.55M52.7 294.0h0.55M54.2 300.9h0.55M50.7 302.2h0.55M51.3 297.6h0.55M50.4 299.3h0.55M55.1 296.5h0.55M51.4 302.6h0.55M53.7 305.3h0.55M51.0 301.1h0.55M52.7 301.6h0.55M51.4 299.6h0.55M48.1 296.6h0.55M52.7 296.0h0.55M53.6 297.6h0.55M48.6 299.9h0.55M52.3 299.4h0.55M51.8 303.9h0.55M50.6 302.7h0.55M52.1 305.9h0.55M48.9 302.8h0.55M53.1 298.4h0.55M54.9 299.8h0.55M50.2 292.3h0.55M52.5 306.7h0.55M55.3 296.9h0.55M52.8 297.6h0.55M51.6 307.4h0.55M50.9 294.7h0.55M52.9 296.7h0.55M52.3 299.2h0.55M53.8 296.9h0.55M49.7 299.8h0.55M54.6 300.5h0.55M51.8 302.2h0.55M53.8 299.0h0.55M51.2 302.5h0.55M50.1 298.0h0.55M51.5 302.1h0.55M50.8 304.6h0.55M51.9 291.9h0.55M53.8 298.5h0.55M54.6 300.2h0.55M53.0 291.2h0.55M51.6 286.1h0.55M51.7 300.8h0.55M53.7 296.6h0.55M54.8 302.9h0.55M52.0 299.4h0.55M52.4 299.4h0.55M51.2 297.9h0.55M53.0 299.9h0.55M54.4 295.5h0.55M47.1 297.2h0.55M53.1 302.9h0.55M51.6 298.3h0.55M48.2 301.7h0.55M53.2 299.4h0.55M52.4 298.0h0.55M53.3 295.2h0.55M50.0 303.1h0.55M56.7 295.8h0.55M52.8 301.1h0.55M51.9 292.6h0.55M55.5 300.6h0.55M53.8 301.1h0.55M54.2 296.7h0.55M54.8 292.4h0.55M48.7 298.8h0.55M55.8 299.9h0.55M51.9 297.2h0.55M53.1 296.5h0.55M54.4 303.4h0.55M51.2 299.0h0.55M53.2 297.6h0.55M54.0 303.1h0.55M52.5 299.4h0.55M53.5 296.4h0.55M49.5 303.3h0.55M50.3 297.9h0.55M50.4 303.5h0.55M53.3 296.5h0.55M59.7 300.9h0.55M53.1 304.9h0.55M52.3 301.4h0.55M52.5 301.6h0.55M54.5 301.4h0.55M54.0 303.2h0.55M50.4 299.8h0.55M54.5 301.4h0.55M52.6 298.5h0.55M48.8 295.6h0.55M49.6 303.1h0.55M53.7 295.2h0.55M49.2 301.8h0.55M53.3 305.2h0.55M53.2 294.7h0.55M52.9 307.1h0.55M53.3 295.3h0.55M53.1 295.9h0.55M53.5 300.9h0.55M51.8 294.7h0.55M52.6 303.7h0.55M58.2 301.6h0.55M54.8 287.6h0.55M53.8 293.3h0.55M53.3 296.3h0.55M51.2 301.3h0.55M53.0 294.8h0.55M52.1 296.3h0.55M54.4 302.1h0.55M50.9 295.1h0.55M48.1 300.7h0.55M51.5 293.5h0.55M53.9 303.8h0.55M57.3 305.6h0.55M54.5 294.4h0.55M50.7 289.2h0.55M52.2 292.1h0.55M50.8 303.6h0.55M52.2 296.9h0.55M50.9 304.0h0.55M49.5 293.6h0.55M53.4 295.3h0.55M53.0 298.9h0.55M52.3 304.0h0.55M53.3 298.4h0.55M56.5 294.9h0.55M52.8 300.7h0.55M51.9 299.8h0.55M54.2 301.6h0.55M49.5 298.6h0.55M54.0 296.7h0.55M51.1 299.5h0.55M51.0 288.6h0.55M52.8 300.5h0.55M55.8 304.7h0.55M51.2 301.8h0.55M54.4 295.2h0.55M53.3 292.7h0.55M50.0 305.1h0.55M54.3 297.2h0.55M51.0 298.5h0.55M49.8 300.3h0.55M51.1 296.8h0.55M51.2 299.5h0.55M53.7 305.9h0.55M51.2 297.2h0.55M53.0 301.0h0.55M51.2 300.8h0.55M51.0 303.5h0.55M53.0 303.4h0.55M48.7 304.0h0.55M48.5 301.8h0.55M50.9 296.9h0.55M53.8 306.5h0.55M52.9 298.7h0.55M52.6 295.8h0.55M52.2 303.3h0.55M48.5 302.2h0.55M52.0 299.3h0.55M49.2 299.7h0.55M54.2 301.9h0.55M52.4 299.1h0.55M53.4 293.9h0.55M53.2 296.9h0.55M53.0 301.6h0.55M53.3 298.5h0.55M51.5 296.5h0.55M50.1 302.6h0.55M53.2 302.6h0.55M55.3 298.5h0.55M54.5 300.6h0.55M52.2 296.6h0.55M53.8 296.7h0.55M51.8 297.9h0.55M53.3 293.5h0.55M51.4 300.8h0.55M52.9 299.0h0.55M56.4 297.2h0.55M54.1 299.8h0.55M55.4 299.9h0.55M51.1 296.1h0.55M51.3 296.8h0.55M52.5 295.9h0.55M53.7 305.2h0.55M52.2 292.0h0.55M54.5 298.9h0.55M51.6 302.9h0.55M55.2 294.6h0.55M54.4 295.1h0.55M50.5 295.0h0.55M53.7 291.4h0.55M52.2 304.3h0.55M54.5 298.1h0.55M51.6 294.3h0.55M53.2 296.3h0.55M53.6 299.7h0.55M47.4 297.5h0.55M49.0 295.0h0.55M52.8 301.1h0.55M52.4 295.0h0.55M54.5 297.2h0.55M53.0 299.6h0.55M50.2 295.7h0.55M53.2 299.2h0.55M51.2 296.1h0.55M51.6 297.0h0.55M53.3 301.8h0.55M49.9 295.1h0.55M50.5 293.9h0.55M48.4 298.2h0.55M56.7 297.3h0.55M50.7 297.3h0.55M51.0 298.6h0.55M50.4 302.6h0.55M51.4 307.1h0.55M51.8 307.5h0.55M53.8 299.0h0.55M52.9 306.7h0.55M53.2 306.1h0.55M51.5 296.0h0.55M52.5 296.6h0.55M54.9 298.2h0.55M52.6 307.2h0.55M53.2 298.0h0.55M48.7 297.6h0.55M53.6 304.6h0.55M53.1 297.8h0.55M55.0 297.9h0.55M47.4 301.2h0.55M52.6 299.3h0.55M52.4 288.0h0.55M52.7 293.1h0.55M51.4 301.6h0.55M53.0 292.3h0.55M53.9 303.9h0.55M52.7 298.2h0.55M52.0 299.6h0.55M52.2 299.7h0.55M51.8 290.7h0.55M52.6 295.4h0.55M51.2 293.9h0.55M48.8 299.5h0.55M55.1 305.1h0.55M49.2 297.5h0.55M52.3 298.8h0.55M50.1 290.0h0.55M52.0 296.9h0.55M50.7 297.5h0.55M52.5 297.7h0.55M50.9 301.1h0.55M50.1 304.6h0.55M53.1 298.5h0.55M55.1 300.2h0.55M53.2 291.7h0.55M52.7 301.2h0.55M50.5 298.7h0.55M52.4 290.9h0.55M53.4 300.0h0.55M51.3 295.7h0.55M54.2 302.9h0.55M52.5 300.5h0.55M53.2 298.9h0.55M51.6 306.0h0.55M51.6 297.9h0.55M52.9 297.2h0.55M53.3 298.7h0.55M53.2 299.1h0.55M50.6 294.9h0.55M51.1 301.1h0.55M52.5 300.4h0.55M49.0 296.3h0.55M54.5 291.8h0.55M53.1 303.9h0.55M52.6 304.4h0.55M51.2 302.6h0.55M54.1 303.0h0.55M52.0 306.6h0.55M56.1 300.3h0.55M53.3 306.0h0.55M49.7 298.3h0.55M53.9 295.2h0.55M51.5 299.1h0.55M51.5 297.6h0.55M52.0 301.2h0.55M52.3 307.0h0.55M53.0 300.9h0.55M53.9 303.7h0.55M51.1 307.0h0.55M49.9 299.5h0.55M51.0 296.2h0.55M54.1 294.5h0.55M55.9 291.2h0.55M49.9 290.5h0.55M52.6 304.3h0.55M52.1 292.7h0.55M51.7 298.1h0.55M52.8 298.6h0.55M52.0 304.9h0.55M52.0 293.2h0.55M51.3 299.4h0.55M53.2 300.5h0.55M54.5 305.4h0.55M55.6 298.2h0.55M51.5 300.4h0.55M50.5 298.0h0.55M52.0 304.0h0.55M50.9 303.4h0.55M54.4 297.5h0.55M50.9 301.6h0.55M52.6 292.7h0.55M49.9 299.5h0.55M51.8 295.4h0.55M52.9 297.4h0.55M55.4 303.7h0.55M53.2 300.2h0.55M48.5 298.7h0.55M50.2 297.8h0.55M50.9 302.6h0.55M51.5 298.5h0.55M53.3 303.6h0.55M53.7 306.1h0.55M49.4 302.1h0.55M53.5 297.6h0.55M50.4 302.7h0.55M56.0 296.3h0.55M53.1 291.6h0.55M52.8 304.3h0.55M52.4 305.1h0.55M52.5 297.8h0.55M51.2 284.5h0.55M53.9 296.1h0.55M53.0 302.0h0.55M53.9 297.6h0.55M52.4 305.4h0.55M53.8 295.7h0.55M51.0 301.5h0.55M59.3 300.3h0.55M51.1 300.4h0.55M51.6 293.1h0.55M54.3 298.8h0.55M54.8 300.4h0.55M51.0 297.5h0.55M49.3 293.5h0.55M49.8 297.1h0.55M50.6 295.0h0.55M51.0 300.8h0.55M52.2 303.5h0.55M54.4 300.7h0.55M54.5 300.9h0.55M51.3 298.4h0.55M53.5 300.1h0.55M54.2 290.6h0.55M55.1 299.5h0.55M52.2 303.1h0.55M51.1 296.9h0.55M53.9 302.3h0.55M55.4 292.6h0.55M51.5 299.4h0.55M56.2 298.4h0.55M55.7 301.2h0.55M52.0 299.8h0.55M51.3 285.2h0.55M51.8 292.8h0.55M53.5 296.2h0.55M49.3 299.6h0.55M57.1 296.3h0.55M56.9 296.2h0.55M51.1 292.2h0.55M48.9 293.2h0.55M52.1 295.3h0.55M53.3 305.9h0.55M55.0 295.6h0.55M52.1 303.9h0.55M48.7 297.9h0.55M53.4 302.8h0.55M54.1 303.7h0.55M51.9 293.9h0.55M53.0 292.0h0.55M52.9 305.7h0.55M52.0 294.9h0.55M50.3 303.0h0.55M53.1 302.2h0.55M49.8 291.8h0.55M55.1 302.0h0.55M50.8 301.7h0.55M53.4 304.9h0.55M51.1 299.0h0.55M53.2 301.2h0.55M52.1 300.9h0.55M53.5 298.1h0.55M51.0 306.4h0.55M49.4 303.5h0.55M51.9 306.0h0.55M51.8 300.8h0.55M49.6 304.3h0.55M51.1 295.0h0.55M49.3 296.4h0.55M52.7 303.6h0.55M51.7 298.2h0.55M52.5 297.4h0.55M57.4 299.9h0.55M52.8 292.2h0.55M53.2 299.9h0.55M53.6 301.3h0.55M52.2 297.8h0.55M51.3 294.2h0.55M54.1 306.9h0.55M54.4 301.1h0.55M46.9 294.6h0.55M52.1 296.6h0.55M51.8 292.0h0.55M51.4 291.5h0.55M54.8 290.7h0.55M51.4 295.5h0.55M54.1 301.0h0.55M51.4 302.4h0.55M51.7 298.7h0.55M53.8 303.7h0.55M51.1 301.7h0.55M52.1 294.1h0.55M50.4 295.5h0.55M50.8 300.4h0.55M53.8 302.2h0.55M53.6 304.0h0.55M50.3 293.1h0.55M50.2 290.6h0.55M51.2 298.0h0.55M50.8 303.6h0.55M53.4 299.4h0.55M51.0 293.1h0.55M51.8 305.4h0.55M54.1 301.3h0.55M54.3 305.8h0.55M52.1 301.9h0.55M55.0 294.9h0.55M52.2 299.1h0.55M52.0 303.7h0.55M52.4 296.2h0.55M51.9 300.1h0.55M53.4 304.4h0.55M53.0 293.8h0.55M51.0 297.6h0.55M52.8 300.1h0.55M51.4 303.5h0.55M51.4 298.9h0.55M52.2 296.1h0.55M54.4 301.8h0.55M53.0 296.6h0.55M54.9 301.2h0.55M55.4 300.9h0.55M52.4 298.5h0.55M51.3 303.1h0.55M51.0 304.6h0.55M53.0 293.6h0.55M54.1 301.6h0.55M55.5 298.6h0.55M50.0 298.0h0.55M54.2 299.7h0.55M54.5 304.6h0.55M57.1 298.7h0.55M52.8 297.9h0.55M52.4 293.8h0.55M49.6 298.6h0.55M51.0 299.4h0.55M50.4 295.2h0.55M50.5 298.1h0.55M50.8 301.5h0.55M49.5 305.5h0.55M52.3 298.2h0.55M53.9 303.8h0.55M52.3 303.3h0.55M54.5 302.1h0.55M54.5 299.9h0.55M49.6 296.7h0.55M52.0 299.2h0.55M50.1 299.8h0.55M50.6 300.3h0.55M52.8 306.3h0.55M55.3 302.0h0.55M56.4 304.0h0.55M53.3 296.6h0.55M52.1 290.9h0.55M52.2 299.2h0.55M52.5 300.7h0.55M53.6 305.8h0.55M53.6 300.8h0.55M52.0 305.4h0.55M54.5 304.6h0.55M55.1 300.6h0.55M55.8 303.3h0.55M52.2 301.4h0.55M49.9 306.5h0.55M49.3 295.1h0.55M51.9 289.5h0.55M49.8 300.3h0.55M49.4 303.8h0.55M51.8 304.4h0.55M50.6 297.3h0.55M53.8 302.2h0.55M56.2 296.9h0.55M52.1 302.8h0.55M53.1 296.5h0.55M49.5 295.0h0.55M52.8 303.9h0.55M51.2 294.3h0.55M50.4 293.3h0.55M49.0 303.3h0.55M55.5 300.2h0.55M49.4 289.6h0.55M50.2 305.0h0.55M52.5 294.4h0.55M53.1 297.8h0.55M53.1 299.3h0.55M50.8 299.7h0.55M54.0 303.8h0.55M52.9 299.2h0.55M49.8 302.0h0.55M55.6 293.6h0.55M51.9 299.8h0.55M54.3 297.1h0.55M49.8 295.3h0.55M50.3 301.1h0.55M51.4 304.4h0.55M51.2 301.9h0.55M54.4 298.4h0.55M49.4 303.0h0.55M52.8 294.9h0.55M50.6 301.2h0.55M53.5 302.1h0.55M52.9 299.4h0.55M51.5 298.7h0.55M56.8 300.3h0.55M52.4 297.3h0.55M54.6 298.8h0.55M50.0 303.0h0.55M52.3 291.3h0.55M52.7 305.3h0.55M52.8 301.8h0.55M51.9 300.7h0.55M51.0 295.4h0.55M46.7 298.0h0.55M51.5 297.2h0.55M50.8 302.8h0.55M52.1 302.5h0.55M54.2 304.8h0.55M56.8 300.0h0.55M53.6 290.9h0.55M54.5 295.5h0.55M53.7 298.1h0.55M53.9 301.2h0.55M53.7 293.1h0.55M52.1 298.8h0.55M51.9 300.0h0.55M53.2 297.1h0.55M56.0 298.8h0.55M55.6 299.6h0.55M53.1 300.7h0.55M53.3 296.5h0.55M53.6 302.1h0.55M50.0 297.8h0.55M49.1 299.3h0.55M48.5 289.8h0.55M51.8 301.1h0.55M57.0 297.0h0.55M53.0 304.5h0.55M50.3 300.1h0.55M53.2 297.9h0.55M52.0 295.0h0.55M52.9 299.7h0.55M51.7 297.9h0.55M50.1 296.2h0.55M53.9 298.9h0.55M53.2 303.5h0.55M54.9 306.0h0.55M50.6 301.3h0.55M54.6 302.3h0.55M52.7 301.7h0.55M53.0 303.7h0.55M57.2 307.5h0.55M57.1 304.8h0.55M56.5 302.5h0.55M55.5 294.4h0.55M55.6 299.0h0.55M55.3 305.9h0.55M56.6 289.4h0.55M58.4 291.5h0.55M54.8 295.2h0.55M55.3 303.6h0.55M54.7 300.1h0.55M56.2 301.2h0.55M57.9 299.9h0.55M55.8 299.5h0.55M56.8 304.7h0.55M56.1 301.2h0.55M57.1 305.2h0.55M55.3 297.0h0.55M53.7 306.6h0.55M57.0 299.5h0.55M56.1 299.9h0.55M59.2 296.9h0.55M55.4 295.4h0.55M56.1 296.5h0.55M55.7 294.4h0.55M56.5 292.9h0.55M58.4 301.2h0.55M57.3 303.8h0.55M55.9 301.5h0.55M55.7 292.3h0.55M57.1 299.2h0.55M56.9 294.8h0.55M55.6 295.2h0.55M56.0 298.5h0.55M56.8 299.9h0.55M55.6 299.5h0.55M55.8 299.7h0.55M55.6 297.7h0.55M55.7 299.2h0.55M54.2 305.0h0.55M56.9 304.4h0.55M57.5 298.0h0.55M56.2 300.9h0.55M50.6 303.6h0.55M54.0 303.9h0.55M56.9 304.9h0.55M59.0 305.0h0.55M58.2 301.0h0.55M56.0 297.7h0.55M55.7 291.7h0.55M55.6 304.2h0.55M59.0 302.0h0.55M56.7 295.0h0.55M54.9 299.1h0.55M57.8 297.1h0.55M57.6 296.9h0.55M53.1 307.4h0.55M55.3 297.3h0.55M57.7 298.4h0.55M54.3 295.6h0.55M56.3 299.7h0.55M56.9 298.3h0.55M54.7 301.5h0.55M56.0 288.2h0.55M57.4 301.8h0.55M57.1 292.4h0.55M54.8 298.4h0.55M60.0 305.5h0.55M56.7 297.8h0.55M54.0 302.4h0.55M55.8 297.9h0.55M52.0 297.4h0.55M55.2 300.3h0.55M56.3 304.2h0.55M60.1 299.5h0.55M56.6 298.9h0.55M56.9 294.4h0.55M57.5 290.9h0.55M56.7 299.6h0.55M55.4 298.1h0.55M58.5 300.3h0.55M57.2 304.0h0.55M58.8 302.9h0.55M58.0 294.8h0.55M54.9 300.2h0.55M55.6 300.3h0.55M55.7 297.8h0.55M55.7 288.2h0.55M57.1 295.1h0.55M56.1 298.5h0.55M55.1 302.6h0.55M58.7 297.5h0.55M58.5 292.3h0.55M56.4 305.5h0.55M54.7 298.8h0.55M55.4 296.7h0.55M55.2 301.5h0.55M55.0 302.2h0.55M54.8 298.5h0.55M56.7 296.1h0.55M56.8 296.2h0.55M57.0 302.7h0.55M54.9 298.2h0.55M56.8 301.3h0.55M59.5 289.7h0.55M56.7 296.5h0.55M55.8 297.1h0.55M60.7 296.6h0.55M56.9 289.6h0.55M55.4 296.7h0.55M57.8 306.4h0.55M55.3 300.3h0.55M55.8 296.3h0.55M58.0 295.4h0.55M55.4 292.4h0.55M54.1 300.0h0.55M57.5 295.1h0.55M57.7 297.0h0.55M54.2 303.1h0.55M55.8 303.4h0.55M58.1 301.8h0.55M56.8 290.9h0.55M57.7 296.1h0.55M56.2 304.5h0.55M55.4 293.2h0.55M55.5 304.8h0.55M55.9 298.7h0.55M56.7 303.4h0.55M52.2 296.8h0.55M53.4 293.2h0.55M56.4 294.0h0.55M57.5 305.8h0.55M55.4 297.3h0.55M56.4 292.9h0.55M54.7 302.7h0.55M54.2 291.4h0.55M56.7 298.0h0.55M56.3 300.4h0.55M55.6 300.2h0.55M54.4 300.8h0.55M56.5 298.4h0.55M56.3 287.0h0.55M56.0 300.0h0.55M56.2 298.6h0.55M55.8 297.8h0.55M57.2 301.1h0.55M57.0 302.5h0.55M59.2 299.8h0.55M58.6 306.0h0.55M54.5 300.2h0.55M57.4 297.1h0.55M55.4 292.6h0.55M58.8 301.6h0.55M54.1 290.3h0.55M55.7 306.9h0.55M58.8 303.5h0.55M56.4 296.3h0.55M57.5 302.1h0.55M57.4 294.6h0.55M55.6 293.5h0.55M57.7 302.5h0.55M55.0 293.9h0.55M55.9 300.0h0.55M59.7 298.2h0.55M56.1 306.3h0.55M56.9 300.3h0.55M54.7 306.4h0.55M58.4 302.9h0.55M54.9 295.1h0.55M55.2 293.2h0.55M55.4 288.6h0.55M54.9 298.9h0.55M54.1 285.4h0.55M55.9 294.8h0.55M55.6 287.2h0.55M56.2 295.8h0.55M54.8 302.1h0.55M54.9 294.5h0.55M55.8 296.1h0.55M56.3 296.6h0.55M54.9 300.0h0.55M56.3 291.6h0.55M56.0 299.3h0.55M58.0 298.2h0.55M57.3 293.8h0.55M57.1 294.0h0.55M57.9 304.5h0.55M55.3 302.2h0.55M58.4 300.8h0.55M56.6 294.7h0.55M55.6 297.1h0.55M56.9 292.5h0.55M54.7 290.2h0.55M59.1 296.4h0.55M56.7 295.8h0.55M54.0 292.7h0.55M54.6 292.8h0.55M55.5 300.4h0.55M55.5 296.4h0.55M57.0 291.1h0.55M57.9 290.3h0.55M57.2 299.7h0.55M54.9 293.8h0.55M58.1 301.9h0.55M58.2 299.0h0.55M53.3 303.5h0.55M55.4 298.3h0.55M55.8 295.0h0.55M55.1 305.6h0.55M57.9 298.4h0.55M57.0 297.6h0.55M56.4 297.9h0.55M54.4 295.2h0.55M53.1 300.3h0.55M54.9 306.7h0.55M55.0 305.8h0.55M54.9 300.1h0.55M53.0 301.7h0.55M53.9 302.2h0.55M55.6 295.6h0.55M56.8 305.8h0.55M55.5 299.9h0.55M55.9 289.9h0.55M56.2 301.6h0.55M56.2 294.3h0.55M58.2 300.1h0.55M55.0 301.9h0.55M56.6 297.1h0.55M54.2 300.0h0.55M58.1 305.1h0.55M57.4 292.0h0.55M57.8 289.6h0.55M56.5 298.0h0.55M56.1 297.5h0.55M56.8 303.4h0.55M58.4 301.1h0.55M52.0 298.1h0.55M59.0 289.3h0.55M55.0 292.3h0.55M57.0 297.0h0.55M55.0 299.5h0.55M56.1 296.5h0.55M57.6 299.1h0.55M56.0 301.9h0.55M59.1 295.2h0.55M56.4 296.5h0.55M57.3 293.9h0.55M55.3 304.4h0.55M55.5 288.8h0.55M55.7 301.4h0.55M57.1 302.2h0.55M58.9 288.8h0.55M56.3 296.2h0.55M54.3 303.7h0.55M55.3 294.2h0.55M54.2 295.8h0.55M57.1 298.3h0.55M56.3 304.8h0.55M54.6 301.5h0.55M55.7 295.2h0.55M57.8 291.9h0.55M57.0 291.3h0.55M55.4 300.1h0.55M57.5 288.1h0.55M56.9 295.7h0.55M55.4 301.3h0.55M56.6 292.7h0.55M59.2 296.9h0.55M54.6 297.9h0.55M57.9 302.1h0.55M56.1 292.0h0.55M57.3 298.8h0.55M56.9 298.2h0.55M56.7 298.9h0.55M56.1 290.9h0.55M56.3 300.9h0.55M57.4 294.4h0.55M57.0 297.9h0.55M54.0 294.4h0.55M58.3 298.7h0.55M56.6 295.5h0.55M53.5 297.1h0.55M57.2 305.5h0.55M57.3 296.7h0.55M58.6 300.6h0.55M54.8 304.0h0.55M55.9 296.7h0.55M55.5 295.2h0.55M55.9 297.3h0.55M53.6 303.3h0.55M55.6 300.5h0.55M55.6 304.7h0.55M55.7 297.2h0.55M58.8 296.2h0.55M55.3 293.1h0.55M55.6 297.1h0.55M58.0 295.7h0.55M55.4 297.9h0.55M58.2 294.0h0.55M57.0 295.1h0.55M55.3 297.0h0.55M55.2 303.1h0.55M56.5 296.9h0.55M56.0 295.7h0.55M56.4 303.4h0.55M55.4 304.9h0.55M57.2 297.1h0.55M55.2 297.3h0.55M55.5 289.8h0.55M56.0 291.0h0.55M54.3 298.3h0.55M55.8 305.1h0.55M56.0 307.3h0.55M54.0 302.5h0.55M53.5 296.2h0.55M58.2 301.0h0.55M55.9 291.5h0.55M56.0 298.1h0.55M55.3 292.8h0.55M58.7 298.5h0.55M55.9 305.4h0.55M57.0 299.5h0.55M54.7 300.4h0.55M56.9 290.6h0.55M56.1 295.4h0.55M58.3 305.8h0.55M57.0 304.1h0.55M55.7 302.5h0.55M58.5 300.7h0.55M60.6 306.4h0.55M55.4 297.3h0.55M58.0 297.6h0.55M57.0 294.4h0.55M54.3 300.7h0.55M54.8 296.7h0.55M58.5 305.7h0.55M56.5 297.3h0.55M55.5 296.9h0.55M64.5 301.0h0.55M65.8 296.9h0.55M63.2 297.0h0.55M64.8 296.1h0.55M64.5 294.1h0.55M65.5 306.9h0.55M64.5 301.4h0.55M64.2 301.9h0.55M65.2 304.9h0.55M65.4 301.1h0.55M66.1 303.5h0.55M65.0 307.2h0.55M62.8 301.6h0.55M64.8 303.8h0.55M64.9 301.5h0.55M64.8 301.2h0.55M65.5 306.2h0.55M64.6 303.0h0.55M66.2 301.8h0.55M64.6 293.4h0.55M66.5 297.2h0.55M63.6 298.0h0.55M62.2 300.6h0.55M63.8 302.2h0.55M68.2 301.3h0.55M64.6 300.1h0.55M64.8 302.0h0.55M65.2 302.1h0.55M64.4 304.2h0.55M65.2 293.8h0.55M65.0 304.7h0.55M66.3 305.1h0.55M65.2 299.0h0.55M65.7 297.2h0.55M65.6 300.5h0.55M63.7 305.9h0.55M66.2 301.8h0.55M64.2 292.9h0.55M65.8 287.9h0.55M65.1 301.5h0.55M66.6 294.5h0.55M65.6 298.2h0.55M64.4 300.7h0.55M64.6 301.8h0.55M65.6 304.0h0.55M64.4 294.4h0.55M64.5 301.0h0.55M64.8 298.0h0.55M64.5 303.8h0.55M65.5 302.0h0.55M64.4 304.9h0.55M65.0 295.8h0.55M64.1 296.2h0.55M62.9 297.7h0.55M65.8 298.7h0.55M66.1 297.7h0.55M64.3 295.6h0.55M65.9 298.2h0.55M65.3 294.1h0.55M63.6 304.3h0.55M66.3 298.6h0.55M62.6 295.5h0.55M64.9 301.1h0.55M65.8 294.2h0.55M63.7 301.9h0.55M66.8 299.1h0.55M64.3 307.2h0.55M66.4 302.5h0.55M64.7 297.4h0.55M65.7 303.9h0.55M64.9 300.9h0.55M67.7 303.0h0.55M65.4 288.4h0.55M66.1 298.6h0.55M65.8 298.7h0.55M65.2 305.4h0.55M64.7 296.2h0.55M65.4 301.8h0.55M66.1 299.7h0.55M66.0 295.0h0.55M65.6 298.2h0.55M64.8 302.5h0.55M65.8 299.6h0.55M63.8 299.7h0.55M65.0 300.1h0.55M62.6 300.7h0.55M64.2 301.6h0.55M64.8 300.1h0.55M63.4 294.6h0.55M63.7 299.5h0.55M66.1 300.7h0.55M65.6 306.7h0.55M66.3 296.4h0.55M66.4 306.4h0.55M65.7 298.2h0.55M65.9 306.5h0.55M65.4 292.3h0.55M66.5 299.2h0.55M63.3 291.2h0.55M64.8 294.7h0.55M66.2 298.6h0.55M66.0 302.2h0.55M65.1 297.3h0.55M64.6 301.2h0.55M66.0 297.1h0.55M64.8 306.6h0.55M63.7 298.0h0.55M64.6 307.3h0.55M65.2 296.8h0.55M63.2 302.3h0.55M62.1 298.5h0.55M65.5 306.0h0.55M66.9 301.6h0.55M62.4 307.4h0.55M64.4 299.6h0.55M65.7 299.1h0.55M65.2 297.3h0.55M65.1 300.8h0.55M65.0 301.9h0.55M63.9 300.6h0.55M66.3 301.5h0.55M66.1 303.2h0.55M65.4 300.0h0.55M62.4 297.8h0.55M67.0 296.4h0.55M65.0 298.1h0.55M65.6 299.0h0.55M67.2 304.3h0.55M66.5 303.9h0.55M64.9 297.5h0.55M66.3 302.6h0.55M65.7 296.8h0.55M64.4 303.6h0.55M65.2 294.0h0.55M63.0 304.2h0.55M63.2 299.6h0.55M65.2 301.3h0.55M66.7 299.9h0.55M63.9 296.3h0.55M66.4 300.8h0.55M65.2 300.4h0.55M67.1 303.3h0.55M64.6 302.8h0.55M68.4 305.2h0.55M65.6 302.5h0.55M64.8 295.9h0.55M65.3 303.4h0.55M62.9 295.7h0.55M65.4 297.6h0.55M64.7 300.7h0.55M65.6 297.1h0.55M64.7 298.9h0.55M61.9 304.3h0.55M62.0 298.0h0.55M64.3 296.9h0.55M63.6 295.4h0.55M63.8 298.7h0.55M65.5 300.5h0.55M64.8 300.6h0.55M66.8 304.8h0.55M65.1 298.2h0.55M65.2 296.9h0.55M63.8 298.9h0.55M65.4 297.4h0.55M65.8 294.8h0.55M64.9 293.1h0.55M65.8 300.6h0.55M63.8 298.8h0.55M64.8 305.8h0.55M65.5 298.4h0.55M64.6 299.0h0.55M66.4 305.1h0.55M65.7 293.9h0.55M64.3 303.5h0.55M63.9 297.2h0.55M65.0 296.0h0.55M64.2 301.9h0.55M64.5 300.9h0.55M63.7 296.0h0.55M65.9 301.4h0.55M65.2 306.5h0.55M65.4 303.6h0.55M66.0 300.9h0.55M62.4 298.3h0.55M65.1 300.1h0.55M64.7 302.3h0.55M65.8 299.6h0.55M65.6 302.2h0.55M65.6 304.2h0.55M66.5 294.7h0.55M62.9 301.1h0.55M63.8 302.4h0.55M66.4 299.4h0.55M66.7 297.9h0.55M64.1 306.3h0.55M66.3 300.1h0.55M66.0 300.1h0.55M63.4 298.3h0.55M64.3 299.3h0.55M65.4 299.3h0.55M64.9 300.0h0.55M67.1 294.6h0.55M65.7 294.2h0.55M66.0 298.0h0.55M64.3 299.1h0.55M63.6 298.2h0.55M64.3 303.2h0.55M66.6 300.3h0.55M67.1 303.2h0.55M64.1 301.3h0.55M64.8 291.7h0.55M62.1 302.3h0.55M66.5 306.0h0.55M63.6 301.0h0.55M66.0 300.2h0.55M66.5 295.9h0.55M63.5 301.3h0.55M64.0 296.4h0.55M65.8 293.6h0.55M66.6 301.3h0.55M64.4 303.6h0.55M63.8 299.3h0.55M65.4 299.7h0.55M66.5 297.8h0.55M63.7 306.6h0.55M64.1 301.9h0.55M66.3 299.1h0.55M65.2 299.2h0.55M64.1 300.9h0.55M65.0 304.7h0.55M65.6 298.3h0.55M66.2 297.0h0.55M65.3 301.6h0.55M65.0 299.9h0.55M63.1 294.7h0.55M65.6 299.9h0.55M65.6 299.2h0.55M65.2 298.8h0.55M65.0 300.9h0.55M65.1 301.3h0.55M66.1 306.9h0.55M64.6 302.8h0.55M63.6 303.6h0.55M66.0 298.6h0.55M64.6 300.4h0.55M64.7 297.8h0.55M65.5 297.7h0.55M64.7 303.6h0.55M63.7 303.1h0.55M66.5 301.9h0.55M63.5 302.4h0.55M66.5 303.5h0.55M63.5 300.1h0.55M64.2 300.1h0.55M64.5 302.8h0.55M66.0 306.6h0.55M65.2 300.7h0.55M64.5 294.0h0.55M63.6 303.4h0.55M66.1 301.2h0.55M65.0 297.3h0.55M65.5 297.2h0.55M64.8 288.1h0.55M64.4 297.4h0.55M65.8 299.5h0.55M65.3 302.3h0.55M66.3 300.2h0.55M65.2 296.6h0.55M63.4 298.8h0.55M65.9 300.6h0.55M65.1 302.7h0.55M64.7 301.5h0.55M61.4 303.7h0.55M64.0 293.0h0.55M65.2 301.2h0.55M64.3 301.5h0.55M65.3 296.7h0.55M65.7 301.2h0.55M65.0 298.4h0.55M63.9 295.7h0.55M65.5 295.4h0.55M65.4 302.5h0.55M64.7 302.6h0.55M62.8 304.6h0.55M63.6 303.3h0.55M65.9 302.3h0.55M64.7 296.3h0.55M62.9 299.7h0.55M64.8 299.4h0.55M65.7 297.1h0.55M65.5 295.5h0.55M65.4 296.6h0.55M64.1 304.3h0.55M63.1 298.0h0.55M64.3 303.3h0.55M66.6 298.5h0.55M63.2 304.5h0.55M66.0 294.5h0.55M63.2 298.7h0.55M63.5 302.8h0.55M65.1 299.6h0.55M64.0 297.0h0.55M64.7 306.0h0.55M63.6 295.0h0.55M65.1 297.2h0.55M66.0 304.9h0.55M63.3 307.1h0.55M65.6 300.4h0.55M65.4 295.6h0.55M65.9 295.5h0.55M62.3 297.1h0.55M66.0 300.1h0.55M63.6 305.6h0.55M64.7 304.0h0.55M64.4 304.2h0.55M63.8 298.6h0.55M64.0 303.3h0.55M64.1 303.6h0.55M65.2 303.7h0.55M65.8 300.4h0.55M64.6 298.9h0.55M65.9 304.8h0.55M65.1 306.5h0.55M66.3 299.6h0.55M63.4 301.9h0.55M65.1 304.7h0.55M64.9 306.4h0.55M65.1 307.3h0.55M65.4 300.6h0.55M65.9 305.4h0.55M65.1 295.9h0.55M65.5 292.0h0.55M64.6 298.9h0.55M64.8 301.9h0.55M64.2 294.7h0.55M66.2 300.0h0.55M65.8 301.2h0.55M66.4 300.4h0.55M64.4 301.6h0.55M64.7 304.8h0.55M67.8 299.5h0.55M66.2 298.7h0.55M63.3 302.6h0.55M65.8 304.6h0.55M65.3 298.8h0.55M64.6 305.8h0.55M64.6 303.4h0.55M64.0 299.0h0.55M64.3 300.4h0.55M64.1 297.5h0.55M63.6 303.1h0.55M64.5 300.9h0.55M65.8 290.6h0.55M66.1 295.8h0.55M64.8 298.5h0.55M64.6 302.5h0.55M65.7 299.1h0.55M64.8 297.8h0.55M67.3 302.1h0.55M61.9 298.9h0.55M62.3 301.4h0.55M63.7 304.0h0.55M65.5 304.3h0.55M65.8 294.5h0.55M64.4 297.7h0.55M65.0 302.2h0.55M64.6 299.8h0.55M65.5 297.6h0.55M67.3 302.8h0.55M62.3 300.9h0.55M67.5 302.3h0.55M66.2 304.0h0.55M64.6 299.1h0.55M65.5 304.5h0.55M64.9 301.2h0.55M65.5 301.6h0.55M65.5 304.5h0.55M65.9 294.4h0.55M63.8 294.2h0.55M65.7 296.1h0.55M64.2 303.8h0.55M64.6 301.0h0.55M65.9 298.4h0.55M64.5 296.6h0.55M65.3 294.0h0.55M65.3 301.7h0.55M65.1 300.4h0.55M63.6 302.0h0.55M65.5 304.0h0.55M65.2 301.6h0.55M67.5 305.7h0.55M63.8 299.0h0.55M66.2 306.3h0.55M64.5 302.2h0.55M64.6 298.5h0.55M66.9 301.2h0.55M65.9 295.7h0.55M65.1 298.2h0.55M63.9 298.9h0.55M64.7 301.2h0.55M64.5 300.8h0.55M64.7 307.6h0.55M67.1 299.7h0.55M65.5 303.0h0.55M63.0 298.6h0.55M67.2 296.3h0.55M65.4 299.9h0.55M66.0 299.6h0.55M66.8 303.1h0.55M64.0 305.5h0.55M65.4 298.8h0.55M64.8 304.6h0.55M64.6 296.6h0.55M64.6 307.1h0.55M65.1 294.9h0.55M66.3 298.5h0.55M65.9 301.4h0.55M65.3 299.0h0.55M66.4 296.2h0.55M62.3 303.1h0.55M65.0 296.7h0.55M65.4 304.1h0.55M65.4 294.9h0.55M66.6 304.4h0.55M65.2 303.6h0.55M66.6 302.4h0.55M64.8 304.4h0.55M65.8 299.7h0.55M65.1 300.2h0.55M64.7 304.8h0.55M65.6 296.5h0.55M65.7 299.4h0.55M64.0 299.6h0.55M66.1 299.6h0.55M64.7 299.4h0.55M65.1 291.1h0.55M61.9 300.3h0.55M65.0 301.4h0.55M62.8 305.1h0.55M66.0 303.4h0.55M64.1 298.1h0.55M64.5 299.3h0.55M64.8 296.8h0.55M63.5 299.0h0.55M65.0 298.0h0.55M63.6 304.5h0.55M64.8 301.8h0.55M66.0 302.6h0.55M66.5 298.9h0.55M66.7 299.8h0.55M64.8 302.3h0.55M63.9 297.3h0.55M65.6 302.3h0.55M66.8 303.7h0.55M64.0 298.2h0.55M66.6 300.4h0.55M64.9 297.1h0.55M62.0 306.7h0.55M65.1 302.1h0.55M67.2 304.5h0.55M65.8 299.6h0.55M66.2 297.1h0.55M65.5 300.1h0.55M63.1 305.7h0.55M62.3 306.6h0.55M63.8 303.4h0.55M64.6 300.4h0.55M63.8 302.0h0.55M64.1 304.6h0.55M65.9 296.6h0.55M66.7 303.9h0.55M63.1 297.4h0.55M63.8 301.5h0.55M64.9 303.3h0.55M64.8 301.6h0.55M62.3 300.9h0.55M68.4 305.4h0.55M65.8 299.0h0.55M65.4 299.2h0.55M62.8 297.0h0.55M65.3 301.3h0.55M63.7 303.4h0.55M65.6 300.1h0.55M65.3 293.3h0.55M65.1 302.2h0.55M65.5 302.9h0.55M64.3 297.3h0.55M65.2 299.7h0.55M62.2 300.7h0.55M65.8 297.6h0.55M64.8 301.6h0.55M67.9 300.9h0.55M65.1 296.2h0.55M62.3 290.1h0.55M66.8 297.0h0.55M64.2 305.9h0.55M63.7 305.1h0.55M65.0 299.3h0.55M66.5 296.5h0.55M67.3 306.0h0.55M64.6 303.2h0.55M65.3 305.2h0.55M65.3 307.5h0.55M64.2 302.2h0.55M64.4 300.8h0.55M64.8 297.6h0.55M64.9 301.1h0.55M66.2 296.8h0.55M62.8 304.6h0.55M65.6 299.7h0.55M65.4 306.5h0.55M66.6 299.2h0.55M64.6 302.2h0.55M64.6 297.6h0.55M65.1 303.8h0.55M64.3 297.4h0.55M64.3 305.4h0.55M64.2 302.6h0.55M64.2 293.5h0.55M63.8 295.3h0.55M64.3 301.4h0.55M64.1 300.3h0.55M63.4 297.2h0.55M66.1 299.7h0.55M65.3 300.5h0.55M64.9 301.4h0.55M63.7 307.1h0.55M65.7 300.2h0.55M64.7 294.5h0.55M64.9 306.5h0.55M65.1 302.1h0.55M64.9 294.9h0.55M66.1 298.0h0.55M64.1 299.4h0.55M64.2 301.0h0.55M65.2 303.6h0.55M64.8 299.6h0.55M65.6 298.5h0.55M66.0 296.8h0.55M66.6 299.9h0.55M66.1 300.8h0.55M64.7 302.3h0.55M64.8 292.3h0.55M64.6 297.2h0.55M66.3 302.3h0.55M64.7 307.0h0.55M64.0 304.0h0.55M63.8 291.8h0.55M65.9 293.1h0.55M64.0 302.7h0.55M61.9 300.7h0.55M65.8 300.8h0.55M65.9 296.5h0.55M66.1 305.1h0.55M65.6 300.9h0.55M65.4 298.3h0.55M65.1 292.6h0.55M64.1 296.0h0.55M62.6 306.3h0.55M62.7 300.9h0.55M65.4 303.6h0.55M65.9 302.7h0.55M65.0 299.9h0.55M64.1 303.7h0.55M65.7 301.7h0.55M65.0 299.8h0.55M65.0 299.3h0.55M64.6 297.7h0.55M63.7 301.6h0.55M63.8 299.8h0.55M65.4 304.8h0.55M66.9 299.3h0.55M67.0 297.0h0.55M64.8 293.4h0.55M65.5 303.4h0.55M65.2 300.4h0.55M65.5 292.1h0.55M66.1 304.1h0.55M63.7 298.0h0.55M67.0 303.2h0.55M64.9 301.9h0.55M63.9 303.2h0.55M67.7 301.0h0.55M64.0 299.5h0.55M65.0 304.6h0.55M64.2 299.4h0.55M66.4 305.0h0.55M61.9 298.2h0.55M65.4 301.1h0.55M63.2 297.7h0.55M66.8 304.1h0.55M67.4 297.9h0.55M66.0 297.4h0.55M64.1 304.1h0.55M66.4 301.8h0.55M67.5 300.2h0.55M65.3 296.7h0.55M64.6 300.3h0.55M66.7 302.0h0.55M63.5 303.0h0.55M64.7 297.8h0.55M65.0 302.4h0.55M65.2 293.3h0.55M66.3 300.7h0.55M64.8 297.0h0.55M63.7 303.2h0.55M63.4 298.8h0.55M65.5 301.1h0.55M66.1 301.7h0.55M65.7 291.8h0.55M63.4 295.2h0.55M65.7 304.3h0.55M64.3 297.9h0.55M66.5 304.7h0.55M64.7 297.7h0.55M64.7 302.8h0.55M64.4 297.4h0.55M66.1 302.1h0.55M64.9 303.0h0.55M68.2 303.9h0.55M66.4 297.6h0.55M63.7 295.5h0.55M65.0 302.6h0.55M66.2 301.3h0.55M65.9 303.0h0.55M65.7 295.8h0.55M65.3 303.3h0.55M63.2 299.8h0.55M63.3 296.3h0.55M66.0 298.7h0.55M64.3 304.0h0.55M65.0 301.1h0.55M65.8 301.0h0.55M62.9 300.8h0.55M62.8 299.0h0.55M65.6 305.1h0.55M64.3 300.6h0.55M64.6 294.9h0.55M66.3 295.0h0.55M64.7 298.4h0.55M65.0 299.0h0.55M65.4 303.3h0.55M63.0 290.5h0.55M67.0 303.4h0.55M65.5 305.0h0.55M64.4 298.7h0.55M66.3 305.3h0.55M63.9 297.9h0.55M64.2 299.9h0.55M63.6 298.6h0.55M64.7 306.6h0.55M64.2 304.9h0.55M65.3 304.7h0.55M64.2 296.1h0.55M65.3 300.9h0.55M65.5 296.1h0.55M65.5 301.1h0.55M65.4 302.7h0.55M65.1 305.8h0.55M64.1 300.0h0.55M62.7 301.4h0.55M65.4 300.0h0.55M63.4 296.4h0.55M65.4 306.9h0.55M64.9 302.0h0.55M64.9 306.1h0.55M65.0 303.8h0.55M65.7 295.6h0.55M63.9 298.1h0.55M65.4 303.2h0.55M66.2 303.8h0.55M65.9 303.2h0.55M66.3 300.5h0.55M64.7 303.9h0.55M64.9 296.7h0.55M67.2 299.6h0.55M65.6 296.0h0.55M65.3 304.4h0.55M66.2 302.0h0.55M64.0 303.3h0.55M64.8 299.5h0.55M65.5 290.7h0.55M64.9 297.4h0.55M66.7 301.1h0.55M65.5 300.7h0.55M66.0 304.1h0.55M64.1 304.9h0.55M65.0 298.3h0.55M65.0 303.6h0.55M65.6 293.8h0.55M65.6 303.1h0.55M65.0 292.3h0.55M65.7 302.5h0.55M67.4 291.6h0.55M65.0 302.4h0.55M64.3 306.7h0.55M66.4 299.8h0.55M66.7 303.2h0.55M65.2 304.8h0.55M66.1 290.0h0.55M62.7 293.0h0.55M65.6 300.6h0.55M64.8 296.2h0.55M67.5 298.9h0.55M64.8 303.1h0.55M64.7 297.9h0.55M64.4 302.7h0.55M63.7 301.9h0.55M64.4 299.9h0.55M66.3 307.1h0.55M63.3 293.1h0.55M65.1 306.8h0.55M66.3 298.9h0.55M65.3 305.7h0.55M65.6 300.1h0.55M65.4 298.3h0.55M65.6 298.0h0.55M62.8 301.6h0.55M66.7 302.0h0.55M64.4 306.9h0.55M64.7 300.4h0.55M64.9 295.8h0.55M65.8 301.0h0.55M63.7 302.9h0.55M63.6 293.9h0.55M63.5 300.7h0.55M66.1 305.7h0.55M64.0 298.8h0.55M65.2 294.3h0.55M63.7 303.6h0.55M65.0 307.0h0.55M64.5 299.8h0.55M64.2 301.3h0.55M66.3 305.3h0.55M61.3 296.5h0.55M54.4 303.1h0.55M56.3 302.5h0.55M57.8 299.6h0.55M58.3 297.2h0.55M64.8 288.5h0.55M52.5 300.4h0.55M57.4 300.3h0.55M62.4 301.4h0.55M59.1 302.5h0.55M51.0 294.6h0.55M48.3 296.5h0.55M63.6 300.0h0.55M67.7 303.7h0.55M58.8 291.5h0.55M57.0 289.2h0.55M62.3 296.7h0.55M54.6 296.7h0.55M55.3 299.9h0.55M63.6 307.0h0.55M51.8 294.1h0.55M59.9 300.5h0.55M65.6 297.4h0.55M47.8 287.7h0.55M65.6 305.8h0.55M57.7 307.4h0.55M61.8 300.0h0.55M53.7 300.2h0.55M52.5 294.9h0.55M64.7 286.3h0.55M61.0 292.7h0.55M61.4 289.0h0.55M62.1 289.4h0.55M61.7 292.4h0.55M49.4 293.9h0.55M56.5 300.1h0.55M56.3 304.6h0.55M69.6 295.9h0.55M65.8 301.7h0.55M53.3 295.1h0.55M49.9 295.4h0.55M62.3 299.0h0.55M61.5 293.5h0.55M66.1 298.5h0.55M51.8 294.3h0.55M67.7 292.1h0.55M59.4 293.3h0.55M65.6 305.6h0.55M59.9 298.4h0.55M56.0 294.5h0.55M53.9 298.0h0.55M66.1 292.7h0.55M40.2 294.3h0.55M64.5 295.0h0.55M62.2 287.5h0.55M54.4 296.0h0.55M62.7 299.4h0.55M57.6 298.5h0.55M51.0 296.1h0.55M56.7 302.9h0.55M61.6 292.3h0.55M58.5 303.2h0.55M54.0 302.4h0.55M62.1 298.1h0.55M62.4 305.5h0.55M65.2 292.5h0.55M59.5 298.3h0.55M66.7 296.1h0.55M54.2 292.6h0.55M55.7 295.2h0.55M50.1 299.2h0.55M57.8 299.2h0.55M58.5 300.5h0.55M58.0 293.2h0.55M50.9 296.4h0.55M63.9 296.3h0.55M48.5 293.3h0.55M52.8 296.9h0.55M41.3 285.1h0.55M64.0 290.5h0.55M62.6 294.2h0.55M56.9 294.8h0.55M59.9 300.5h0.55M51.0 293.8h0.55M51.9 306.3h0.55M52.5 288.8h0.55M59.8 307.1h0.55M55.8 291.6h0.55M59.0 290.6h0.55M51.9 292.8h0.55M50.3 293.4h0.55M60.4 295.3h0.55M59.6 294.3h0.55M60.5 299.4h0.55M54.4 301.2h0.55M59.5 291.0h0.55M49.2 303.7h0.55M51.8 298.3h0.55M59.9 296.9h0.55M52.6 301.6h0.55M51.1 296.4h0.55M52.7 304.9h0.55M67.4 290.2h0.55M55.6 303.6h0.55M59.8 294.3h0.55M57.1 300.9h0.55M71.9 294.4h0.55M64.0 286.8h0.55M62.1 282.0h0.55M62.6 281.9h0.55M59.9 283.3h0.55M59.2 282.9h0.55M61.8 281.8h0.55M63.8 285.4h0.55M61.7 283.7h0.55M59.3 281.9h0.55M64.0 289.3h0.55M60.7 283.7h0.55M62.6 285.6h0.55M60.2 280.7h0.55M60.4 281.4h0.55M61.9 281.7h0.55M57.5 287.4h0.55M60.0 286.8h0.55M60.8 284.0h0.55M60.8 283.8h0.55M59.0 285.6h0.55M63.1 282.1h0.55M61.1 283.9h0.55M61.2 287.5h0.55M58.6 282.0h0.55M61.3 286.6h0.55M62.4 284.3h0.55M62.7 285.2h0.55M62.3 284.2h0.55M61.3 287.2h0.55M61.0 287.2h0.55M61.7 286.3h0.55M62.4 279.8h0.55M61.0 285.0h0.55M61.1 288.1h0.55M62.0 281.6h0.55M61.0 280.1h0.55M61.8 284.0h0.55M61.6 287.0h0.55M60.0 280.9h0.55M63.6 285.6h0.55M54.1 306.4h0.55M48.3 306.6h0.55M67.8 307.0h0.55M50.9 307.2h0.55M50.4 307.3h0.55M47.5 307.1h0.55M50.3 306.9h0.55M65.2 306.4h0.55M58.6 306.7h0.55M48.2 306.5h0.55M60.0 307.5h0.55M64.0 307.5h0.55M51.2 307.1h0.55M61.7 307.5h0.55M52.5 307.1h0.55M55.6 307.0h0.55M67.4 307.3h0.55M67.5 306.8h0.55M68.4 307.5h0.55M53.4 307.0h0.55M63.7 307.4h0.55M63.2 307.3h0.55M66.7 307.2h0.55M62.1 307.1h0.55M66.6 306.7h0.55M67.5 306.8h0.55M51.5 306.9h0.55M50.8 306.9h0.55M54.8 306.7h0.55M65.0 307.1h0.55M62.3 307.0h0.55M60.5 306.7h0.55M54.3 306.6h0.55M53.3 307.5h0.55M60.4 307.1h0.55M62.2 306.4h0.55M67.7 307.0h0.55M48.6 306.9h0.55M60.6 307.0h0.55M60.4 306.7h0.55M62.2 307.5h0.55M57.2 306.6h0.55M61.4 307.5h0.55M62.7 306.6h0.55M49.1 306.4h0.55M63.2 306.5h0.55M47.8 307.6h0.55M65.9 306.8h0.55M53.3 307.0h0.55M55.4 307.0h0.55M52.9 307.4h0.55M52.5 306.7h0.55M48.6 306.9h0.55M59.4 307.5h0.55M58.3 307.2h0.55M53.2 306.7h0.55M68.8 307.2h0.55M48.2 307.4h0.55M57.3 306.9h0.55M54.6 307.0h0.55M53.0 307.2h0.55M59.9 306.8h0.55M57.2 306.8h0.55M50.7 307.2h0.55M56.8 307.4h0.55M65.3 307.1h0.55M61.4 306.8h0.55M48.4 307.3h0.55M68.7 306.7h0.55M50.2 306.5h0.55M56.3 307.1h0.55M56.1 306.4h0.55M64.8 307.2h0.55M63.7 306.9h0.55M59.1 307.1h0.55M68.2 306.7h0.55M53.5 307.2h0.55M58.9 307.4h0.55M55.2 306.9h0.55M51.1 307.0h0.55M62.1 307.6h0.55M68.9 307.0h0.55M47.9 306.6h0.55M65.7 307.1h0.55M59.2 306.7h0.55M66.9 306.4h0.55M50.3 306.7h0.55M57.7 306.4h0.55M68.6 306.5h0.55M59.7 306.9h0.55M47.1 306.9h0.55M66.8 307.3h0.55M54.2 306.4h0.55M67.5 306.7h0.55M56.5 306.5h0.55M60.5 306.6h0.55M53.0 307.3h0.55M61.1 307.0h0.55M60.8 307.1h0.55M52.3 307.3h0.55M50.2 306.6h0.55M53.6 306.7h0.55M60.3 307.0h0.55M58.0 306.7h0.55M67.6 306.7h0.55M66.2 307.5h0.55M53.2 306.7h0.55M49.7 307.5h0.55M54.8 307.3h0.55M64.3 306.8h0.55M57.1 306.4h0.55M59.6 306.6h0.55M66.4 307.1h0.55M55.9 307.5h0.55M48.9 307.1h0.55M53.5 307.3h0.55M57.3 307.0h0.55M51.5 307.3h0.55M55.0 306.5h0.55M66.5 307.1h0.55M68.6 306.8h0.55M63.3 307.4h0.55M62.4 306.4h0.55M54.6 306.6h0.55M62.8 307.5h0.55M65.2 306.6h0.55M49.5 307.2h0.55M55.6 307.5h0.55M58.2 307.1h0.55M66.1 307.0h0.55M53.1 306.9h0.55M48.8 307.4h0.55M66.3 306.4h0.55M61.6 307.5h0.55M47.6 307.2h0.55M56.5 307.4h0.55M56.0 307.2h0.55M50.6 306.9h0.55M65.8 307.3h0.55M50.8 307.4h0.55M48.0 306.4h0.55M56.9 306.8h0.55M53.8 307.4h0.55M68.6 307.3h0.55M67.7 307.2h0.55M55.3 307.5h0.55M49.0 306.5h0.55M52.1 307.6h0.55M62.8 307.3h0.55M68.5 307.5h0.55M49.8 307.6h0.55M51.6 306.5h0.55M68.2 307.0h0.55M53.8 306.7h0.55M66.8 307.2h0.55M62.6 307.1h0.55M51.9 306.6h0.55M49.4 307.6h0.55M66.5 306.5h0.55M62.1 307.1h0.55M68.9 306.8h0.55M49.5 307.3h0.55M54.8 306.8h0.55M61.1 306.8h0.55M53.2 307.1h0.55M65.3 306.9h0.55M65.0 306.9h0.55M62.6 307.0h0.55M47.7 306.6h0.55M67.0 307.5h0.55M56.7 306.8h0.55M62.4 306.9h0.55M56.2 306.7h0.55M58.7 307.4h0.55M54.8 307.3h0.55M58.0 306.6h0.55M52.2 306.9h0.55M54.3 307.2h0.55M57.7 306.5h0.55M51.6 306.6h0.55M66.8 306.5h0.55M49.7 307.0h0.55M53.9 307.1h0.55M54.1 307.5h0.55M50.9 307.5h0.55M67.9 307.5h0.55M53.2 306.5h0.55M50.9 307.1h0.55M50.8 306.9h0.55M64.7 307.3h0.55M54.4 307.6h0.55M56.0 307.4h0.55M62.1 307.2h0.55M67.3 307.2h0.55M48.7 306.9h0.55M51.3 306.6h0.55M50.9 307.6h0.55M63.5 306.5h0.55M61.0 306.9h0.55M64.9 307.6h0.55" stroke="#000" stroke-width="0.55" fill="none" opacity="1"/>
<rect x="96.1" y="253.6" width="48.20000000000002" height="54.400000000000006" fill="none" stroke="#000" stroke-width="0.65"/>
<path d="M96.1 281.3H144.3" stroke="#000" stroke-width="0.7" fill="none"/>
<path d="M124.1 253.6V308" stroke="#111" stroke-width="0.5" fill="none"/>
<text x="97.2" y="260.5" font-size="5.0" text-anchor="start" font-weight="bold" fill="#000" font-family="Liberation Serif" stroke-width="0.18">67%</text>
<text x="140.3" y="260.5" font-size="5.0" text-anchor="end" font-weight="bold" fill="#000" font-family="Liberation Serif" stroke-width="0.18">33%</text>
<text x="117.2" y="251.6" font-size="2.9" text-anchor="middle" font-weight="normal" textLength="25" lengthAdjust="spacingAndGlyphs" fill="#555" stroke="none">061505.CFSE.006</text>
<path d="M97.30 308v1.8" stroke="#222" stroke-width="0.6"/>
<text x="96.7" y="313.0" font-size="2.8" text-anchor="middle" font-weight="normal" fill="#444" stroke="none">10</text>
<text x="99.1" y="311.4" font-size="2.0" text-anchor="middle" font-weight="normal" fill="#444" stroke="none">0</text>
<path d="M96.1 306.80h-1.8" stroke="#222" stroke-width="0.6"/>
<text transform="translate(93.70 307.20) rotate(-90)" font-size="2.8" stroke="none" text-anchor="middle" fill="#444">10</text>
<path d="M109.25 308v1.8" stroke="#222" stroke-width="0.6"/>
<text x="108.65" y="313.0" font-size="2.8" text-anchor="middle" font-weight="normal" fill="#444" stroke="none">10</text>
<text x="111.05" y="311.4" font-size="2.0" text-anchor="middle" font-weight="normal" fill="#444" stroke="none">1</text>
<path d="M96.1 293.70h-1.8" stroke="#222" stroke-width="0.6"/>
<text transform="translate(93.70 294.10) rotate(-90)" font-size="2.8" stroke="none" text-anchor="middle" fill="#444">10</text>
<path d="M121.20 308v1.8" stroke="#222" stroke-width="0.6"/>
<text x="120.60000000000001" y="313.0" font-size="2.8" text-anchor="middle" font-weight="normal" fill="#444" stroke="none">10</text>
<text x="123.0" y="311.4" font-size="2.0" text-anchor="middle" font-weight="normal" fill="#444" stroke="none">2</text>
<path d="M96.1 280.60h-1.8" stroke="#222" stroke-width="0.6"/>
<text transform="translate(93.70 281.00) rotate(-90)" font-size="2.8" stroke="none" text-anchor="middle" fill="#444">10</text>
<path d="M133.15 308v1.8" stroke="#222" stroke-width="0.6"/>
<text x="132.55" y="313.0" font-size="2.8" text-anchor="middle" font-weight="normal" fill="#444" stroke="none">10</text>
<text x="134.95000000000002" y="311.4" font-size="2.0" text-anchor="middle" font-weight="normal" fill="#444" stroke="none">3</text>
<path d="M96.1 267.50h-1.8" stroke="#222" stroke-width="0.6"/>
<text transform="translate(93.70 267.90) rotate(-90)" font-size="2.8" stroke="none" text-anchor="middle" fill="#444">10</text>
<path d="M145.10 308v1.8" stroke="#222" stroke-width="0.6"/>
<text x="144.50000000000003" y="313.0" font-size="2.8" text-anchor="middle" font-weight="normal" fill="#444" stroke="none">10</text>
<text x="146.90000000000003" y="311.4" font-size="2.0" text-anchor="middle" font-weight="normal" fill="#444" stroke="none">4</text>
<path d="M96.1 254.40h-1.8" stroke="#222" stroke-width="0.6"/>
<text transform="translate(93.70 254.80) rotate(-90)" font-size="2.8" stroke="none" text-anchor="middle" fill="#444">10</text>
<text x="121.7" y="317.2" font-size="2.9" text-anchor="middle" font-weight="normal" fill="#555" stroke="none">CFSE</text>
<text transform="translate(89.30 277.80) rotate(-90)" font-size="2.9" stroke="none" text-anchor="middle" fill="#555">CD4 APC</text>
<rect x="91.89999999999999" y="252.4" width="1" height="1" fill="#222"/>
<path d="M128.5 274.5h0.55M127.4 274.2h0.55M128.2 272.5h0.55M128.6 276.2h0.55M126.9 276.1h0.55M128.0 272.3h0.55M128.6 273.9h0.55M127.9 276.1h0.55M127.8 274.8h0.55M127.1 275.0h0.55M128.3 273.4h0.55M128.5 276.7h0.55M128.2 272.2h0.55M129.4 275.8h0.55M128.3 277.4h0.55M127.9 272.8h0.55M129.8 276.6h0.55M128.9 275.7h0.55M129.2 273.0h0.55M129.4 274.5h0.55M127.9 276.7h0.55M127.5 273.4h0.55M129.7 273.4h0.55M126.7 269.0h0.55M127.8 271.2h0.55M129.6 273.5h0.55M127.7 273.9h0.55M128.9 275.3h0.55M127.6 275.8h0.55M130.3 277.7h0.55M128.2 275.5h0.55M129.0 279.5h0.55M127.2 275.6h0.55M128.9 276.7h0.55M128.9 272.7h0.55M127.9 275.0h0.55M128.9 276.0h0.55M128.1 275.9h0.55M128.6 273.4h0.55M127.9 274.1h0.55M127.9 271.9h0.55M127.3 274.8h0.55M128.7 272.3h0.55M128.1 276.0h0.55M127.7 274.7h0.55M129.7 275.5h0.55M128.3 275.3h0.55M128.2 275.0h0.55M127.7 275.7h0.55M129.1 274.4h0.55M128.4 271.3h0.55M127.6 276.5h0.55M128.1 272.9h0.55M128.8 275.9h0.55M128.4 275.2h0.55M129.3 274.9h0.55M129.2 274.5h0.55M130.2 274.7h0.55M127.8 274.6h0.55M128.3 274.3h0.55M128.1 274.0h0.55M128.1 274.8h0.55M128.4 275.3h0.55M128.0 273.4h0.55M129.1 274.7h0.55M127.3 271.8h0.55M128.4 272.7h0.55M128.8 271.1h0.55M129.2 273.7h0.55M128.3 274.9h0.55M128.6 275.5h0.55M128.4 271.8h0.55M128.7 275.7h0.55M128.2 272.3h0.55M128.9 273.5h0.55M129.5 273.3h0.55M130.1 277.0h0.55M128.0 274.5h0.55M129.0 278.0h0.55M128.6 276.0h0.55M128.7 273.7h0.55M127.9 274.9h0.55M128.4 276.7h0.55M128.8 272.7h0.55M128.3 273.3h0.55M128.0 274.2h0.55M129.4 273.6h0.55M128.4 273.7h0.55M128.1 277.3h0.55M128.3 274.5h0.55M128.1 273.6h0.55M127.7 273.5h0.55M128.8 271.8h0.55M128.1 275.7h0.55M127.3 273.1h0.55M129.2 280.6h0.55M128.0 275.0h0.55M127.1 273.2h0.55M128.3 272.0h0.55M127.7 273.4h0.55M128.5 274.9h0.55M127.3 273.2h0.55M128.0 275.4h0.55M126.9 275.5h0.55M127.1 275.2h0.55M128.4 275.1h0.55M127.8 274.2h0.55M129.6 273.0h0.55M127.7 272.0h0.55M128.4 271.3h0.55M127.2 273.4h0.55M129.5 275.4h0.55M128.3 274.2h0.55M127.0 272.3h0.55M128.5 275.8h0.55M127.9 272.5h0.55M130.1 272.1h0.55M129.2 272.4h0.55M127.6 273.0h0.55M128.9 274.0h0.55M128.7 272.0h0.55M128.0 271.3h0.55M128.0 275.0h0.55M128.1 274.7h0.55M127.5 275.0h0.55M128.5 275.5h0.55M127.9 274.3h0.55M128.2 277.4h0.55M128.0 273.8h0.55M127.7 274.1h0.55M129.9 276.5h0.55M128.5 274.9h0.55M128.9 273.9h0.55M130.6 274.2h0.55M128.3 272.1h0.55M127.7 275.4h0.55M126.9 273.8h0.55M127.1 275.0h0.55M128.8 276.6h0.55M127.1 275.6h0.55M126.6 274.7h0.55M128.3 274.9h0.55M128.2 274.4h0.55M129.7 277.2h0.55M127.1 270.8h0.55M129.2 273.4h0.55M126.3 272.7h0.55M129.4 274.9h0.55M128.5 273.9h0.55M127.5 274.4h0.55M129.3 277.7h0.55M128.4 274.7h0.55M128.8 275.7h0.55M128.3 273.5h0.55M129.3 273.0h0.55M128.9 272.4h0.55M127.5 276.8h0.55M127.6 272.2h0.55M127.6 273.4h0.55M129.0 278.3h0.55M128.8 274.9h0.55M128.5 274.3h0.55M128.1 273.8h0.55M127.8 272.2h0.55M128.6 274.9h0.55M129.0 276.0h0.55M129.0 272.6h0.55M129.7 273.3h0.55M129.8 277.2h0.55M128.0 273.6h0.55M130.4 275.6h0.55M129.6 278.3h0.55M128.6 272.7h0.55M128.6 274.1h0.55M128.8 272.6h0.55M127.9 270.2h0.55M127.8 276.6h0.55M128.4 275.3h0.55M128.0 273.7h0.55M125.9 275.0h0.55M128.8 273.2h0.55M126.7 271.6h0.55M128.6 273.1h0.55M128.0 272.9h0.55M127.8 272.4h0.55M129.0 276.1h0.55M127.6 272.7h0.55M127.5 272.2h0.55M128.6 274.5h0.55M128.5 275.0h0.55M127.7 277.2h0.55M127.7 274.7h0.55M127.7 271.7h0.55M128.6 272.6h0.55M128.7 275.9h0.55M129.0 273.0h0.55M128.2 275.1h0.55M127.5 277.6h0.55M128.9 271.5h0.55M130.5 271.5h0.55M129.7 273.8h0.55M127.4 274.1h0.55M128.9 275.8h0.55M128.2 271.3h0.55M128.2 275.3h0.55M128.1 273.7h0.55M127.6 271.1h0.55M127.0 273.7h0.55M128.7 275.1h0.55M127.5 277.4h0.55M127.9 273.0h0.55M128.0 275.5h0.55M128.4 271.8h0.55M127.9 276.1h0.55M128.2 274.4h0.55M128.0 277.0h0.55M128.5 271.7h0.55M128.6 272.1h0.55M129.5 271.1h0.55M128.8 277.4h0.55M127.8 273.3h0.55M128.8 270.9h0.55M129.1 272.8h0.55M127.8 275.7h0.55M127.9 275.3h0.55M126.4 275.0h0.55M129.6 271.8h0.55M128.4 273.9h0.55M129.5 270.6h0.55M127.0 271.4h0.55M126.3 275.3h0.55M128.6 275.8h0.55M127.6 273.8h0.55M128.5 270.9h0.55M127.7 272.4h0.55M129.0 273.5h0.55M128.0 277.1h0.55M128.2 273.0h0.55M128.7 271.5h0.55M127.9 272.0h0.55M128.0 272.6h0.55M129.4 273.2h0.55M128.2 273.7h0.55M128.5 277.8h0.55M128.7 273.1h0.55M128.4 270.3h0.55M128.8 276.0h0.55M129.9 272.7h0.55M129.2 272.8h0.55M127.2 273.1h0.55M126.5 274.7h0.55M127.6 274.4h0.55M126.3 275.0h0.55M126.1 273.5h0.55M127.4 274.3h0.55M127.5 272.2h0.55M128.5 272.2h0.55M128.7 273.0h0.55M130.2 273.3h0.55M127.7 271.0h0.55M127.8 271.9h0.55M128.5 276.4h0.55M129.2 276.3h0.55M128.1 277.1h0.55M127.6 276.3h0.55M126.1 275.8h0.55M129.0 277.3h0.55M128.1 275.3h0.55M129.6 273.6h0.55M129.8 273.6h0.55M129.9 274.8h0.55M128.7 274.9h0.55M129.1 273.9h0.55M127.2 273.5h0.55M128.7 274.1h0.55M128.0 272.7h0.55M129.2 278.3h0.55M127.9 275.1h0.55M128.1 270.5h0.55M127.6 275.8h0.55M129.9 272.7h0.55M128.4 273.8h0.55M127.5 274.2h0.55M128.0 275.8h0.55M127.2 274.1h0.55M129.3 274.7h0.55M129.3 274.0h0.55M128.4 278.5h0.55M128.6 274.1h0.55M127.1 272.6h0.55M129.6 271.8h0.55M128.3 274.2h0.55M130.0 273.4h0.55M127.8 274.5h0.55M128.7 275.0h0.55M129.0 272.1h0.55M129.0 274.3h0.55M128.2 272.9h0.55M129.2 272.9h0.55M128.6 272.5h0.55M128.3 273.8h0.55M127.4 272.9h0.55M129.4 272.9h0.55M128.3 273.5h0.55M128.7 271.8h0.55M128.3 276.6h0.55M128.6 275.4h0.55M128.0 273.5h0.55M130.5 274.8h0.55M129.8 272.5h0.55M128.9 274.4h0.55M128.5 271.4h0.55M128.9 274.1h0.55M127.6 274.4h0.55M128.8 273.5h0.55M128.2 275.5h0.55M128.0 272.7h0.55M127.7 274.4h0.55M127.7 275.2h0.55M128.7 275.2h0.55M128.3 274.2h0.55M127.6 277.2h0.55M128.7 275.6h0.55M128.4 275.4h0.55M128.2 272.9h0.55M129.5 274.3h0.55M128.1 273.2h0.55M127.2 277.9h0.55M128.4 274.9h0.55M127.5 272.8h0.55M129.0 275.8h0.55M128.8 276.2h0.55M128.0 273.1h0.55M128.7 274.5h0.55M128.0 278.8h0.55M127.9 274.3h0.55M126.8 274.8h0.55M126.6 279.9h0.55M128.0 274.2h0.55M129.8 272.0h0.55M127.3 272.5h0.55M128.2 274.5h0.55M127.7 275.6h0.55M128.7 272.6h0.55M127.6 270.5h0.55M128.2 275.2h0.55M128.6 273.8h0.55M127.9 273.3h0.55M128.2 272.6h0.55M128.1 276.2h0.55M128.7 273.9h0.55M128.8 271.8h0.55M128.9 272.4h0.55M128.7 273.4h0.55M127.5 271.5h0.55M128.0 273.2h0.55M128.7 276.3h0.55M128.3 275.7h0.55M129.0 276.0h0.55M127.2 276.0h0.55M127.6 274.5h0.55M127.6 274.9h0.55M128.5 271.0h0.55M127.8 275.6h0.55M127.6 275.3h0.55M128.6 274.6h0.55M128.0 274.6h0.55M127.4 272.2h0.55M128.6 273.3h0.55M128.2 271.3h0.55M128.7 273.3h0.55M128.8 273.7h0.55M127.8 273.0h0.55M128.0 276.3h0.55M128.2 272.7h0.55M128.8 274.8h0.55M128.3 274.6h0.55M129.1 273.9h0.55M127.8 275.2h0.55M128.3 274.9h0.55M129.4 273.5h0.55M127.1 276.6h0.55M127.3 273.9h0.55M128.9 275.3h0.55M128.9 272.3h0.55M129.1 272.5h0.55M129.0 274.5h0.55M129.1 278.4h0.55M127.9 271.9h0.55M128.3 272.0h0.55M128.7 272.8h0.55M127.3 273.4h0.55M127.3 274.3h0.55M127.8 276.1h0.55M129.1 273.9h0.55M128.9 275.3h0.55M127.2 274.2h0.55M127.8 273.2h0.55M127.8 273.3h0.55M128.3 275.1h0.55M128.6 299.2h0.55M129.6 293.9h0.55M128.6 299.7h0.55M128.3 305.3h0.55M127.4 298.8h0.55M127.7 303.3h0.55M128.7 303.6h0.55M128.7 301.8h0.55M129.9 299.5h0.55M127.8 299.5h0.55M129.0 301.2h0.55M128.4 295.7h0.55M126.5 305.8h0.55M127.4 298.0h0.55M128.7 299.3h0.55M128.1 299.3h0.55M127.8 300.4h0.55M129.4 302.5h0.55M128.2 305.2h0.55M128.7 302.0h0.55M129.1 306.3h0.55M128.0 300.1h0.55M129.0 303.5h0.55M127.5 303.9h0.55M127.2 301.8h0.55M129.4 303.5h0.55M129.6 298.1h0.55M129.1 305.6h0.55M127.7 303.9h0.55M128.1 301.9h0.55M127.6 300.2h0.55M127.6 304.0h0.55M128.5 297.9h0.55M128.0 303.7h0.55M129.5 304.3h0.55M127.9 301.1h0.55M127.3 305.7h0.55M127.2 303.3h0.55M130.1 296.2h0.55M129.9 297.2h0.55M128.8 299.7h0.55M128.9 305.1h0.55M129.0 306.0h0.55M128.4 300.6h0.55M125.5 302.7h0.55M126.3 302.1h0.55M128.9 293.4h0.55M126.0 304.9h0.55M129.7 305.9h0.55M129.2 294.2h0.55M128.7 298.4h0.55M128.7 301.1h0.55M129.0 301.1h0.55M127.8 304.7h0.55M130.1 305.1h0.55M128.2 299.6h0.55M127.5 303.5h0.55M130.1 299.3h0.55M128.5 300.4h0.55M128.7 302.1h0.55M129.5 303.1h0.55M130.4 299.3h0.55M128.4 307.4h0.55M128.5 302.0h0.55M127.1 301.4h0.55M128.4 303.8h0.55M129.9 299.3h0.55M127.7 302.4h0.55M127.5 293.5h0.55M126.8 295.9h0.55M127.2 300.2h0.55M127.2 299.8h0.55M128.4 300.2h0.55M128.7 299.3h0.55M126.5 303.2h0.55M128.8 305.2h0.55M129.6 299.7h0.55M129.2 304.7h0.55M127.7 302.6h0.55M129.2 297.5h0.55M127.9 297.0h0.55M127.4 301.5h0.55M127.1 304.8h0.55M127.0 298.4h0.55M128.1 294.7h0.55M128.9 304.5h0.55M126.7 305.0h0.55M126.5 300.6h0.55M129.5 304.8h0.55M130.5 298.6h0.55M128.8 300.1h0.55M127.1 300.2h0.55M129.3 304.8h0.55M129.3 298.6h0.55M126.8 300.4h0.55M128.1 305.4h0.55M129.7 304.6h0.55M127.0 304.8h0.55M128.8 298.4h0.55M128.7 302.8h0.55M130.2 299.5h0.55M129.6 304.3h0.55M128.0 303.0h0.55M127.1 303.7h0.55M128.1 300.9h0.55M128.5 301.9h0.55M128.4 302.6h0.55M128.0 300.7h0.55M127.5 302.4h0.55M129.6 298.3h0.55M128.0 297.7h0.55M127.7 296.0h0.55M128.6 301.0h0.55M128.5 304.1h0.55M128.4 302.8h0.55M129.5 295.1h0.55M127.4 302.7h0.55M128.6 301.6h0.55M129.3 300.9h0.55M128.0 302.2h0.55M128.5 303.3h0.55M129.0 305.8h0.55M128.9 305.4h0.55M128.4 307.5h0.55M127.2 303.3h0.55M127.6 299.6h0.55M128.4 305.7h0.55M128.1 297.6h0.55M128.1 304.1h0.55M127.9 298.2h0.55M126.8 299.6h0.55M129.0 305.3h0.55M127.4 299.5h0.55M129.9 304.8h0.55M131.0 303.5h0.55M129.1 301.0h0.55M128.8 303.8h0.55M127.8 303.4h0.55M127.5 301.9h0.55M128.0 299.5h0.55M129.3 304.1h0.55M128.4 300.5h0.55M126.9 301.3h0.55M129.1 302.9h0.55M127.9 301.2h0.55M129.2 302.3h0.55M128.4 302.4h0.55M127.7 302.4h0.55M128.0 301.9h0.55M129.1 305.8h0.55M127.9 300.0h0.55M129.7 300.1h0.55M127.7 297.5h0.55M129.7 294.1h0.55M127.2 303.6h0.55M127.4 303.0h0.55M129.0 306.0h0.55M129.8 296.9h0.55M128.1 299.1h0.55M129.1 299.7h0.55M127.5 307.6h0.55M127.5 304.4h0.55M128.4 300.9h0.55M130.4 301.4h0.55M128.1 302.4h0.55M126.9 297.9h0.55M126.1 302.5h0.55M128.3 298.1h0.55M129.0 301.8h0.55M128.0 303.6h0.55M128.5 302.3h0.55M127.7 299.2h0.55M129.6 300.5h0.55M128.8 303.9h0.55M127.1 299.8h0.55M127.8 297.2h0.55M129.5 300.5h0.55M128.3 299.8h0.55M126.2 300.8h0.55M128.0 301.4h0.55M127.9 300.3h0.55M125.8 300.3h0.55M128.8 304.2h0.55M129.7 303.2h0.55M127.8 304.4h0.55M127.5 301.6h0.55M128.1 300.2h0.55M127.9 302.3h0.55M128.3 296.8h0.55M128.8 297.8h0.55M126.8 304.0h0.55M128.0 299.8h0.55M130.1 299.2h0.55M128.2 297.9h0.55M128.4 302.7h0.55M128.6 297.6h0.55M127.5 305.1h0.55M127.0 301.9h0.55M130.5 295.8h0.55M128.3 299.7h0.55M127.4 298.1h0.55M129.1 303.0h0.55M127.9 302.9h0.55M127.4 299.8h0.55M127.8 299.3h0.55M127.0 302.6h0.55M127.4 299.3h0.55M129.2 305.4h0.55M128.4 299.2h0.55M128.1 302.3h0.55M129.5 295.1h0.55M129.0 302.4h0.55M127.9 299.3h0.55M126.9 302.1h0.55M127.8 304.7h0.55M129.5 300.7h0.55M127.4 293.4h0.55M130.3 294.8h0.55M128.1 301.5h0.55M127.0 298.4h0.55M127.9 297.6h0.55M129.7 304.4h0.55M127.7 300.5h0.55M128.7 304.1h0.55M129.0 304.0h0.55M127.8 299.9h0.55M129.3 301.6h0.55M129.6 297.5h0.55M129.1 302.4h0.55M126.7 301.0h0.55M128.6 306.1h0.55M129.0 303.8h0.55M129.2 300.6h0.55M130.0 299.0h0.55M128.6 300.4h0.55M128.4 301.1h0.55M126.4 303.5h0.55M127.2 304.3h0.55M129.4 297.3h0.55M127.2 297.8h0.55M128.1 302.1h0.55M126.7 297.3h0.55M128.0 300.8h0.55M127.2 295.5h0.55M128.8 300.1h0.55M128.2 299.7h0.55M128.6 300.1h0.55M126.9 299.0h0.55M128.1 302.6h0.55M129.1 303.8h0.55M125.3 303.3h0.55M127.7 300.2h0.55M128.2 300.1h0.55M129.1 299.0h0.55M128.9 298.8h0.55M128.9 300.5h0.55M128.6 300.5h0.55M129.0 300.4h0.55M128.2 301.8h0.55M128.2 303.7h0.55M127.2 299.1h0.55M128.1 300.3h0.55M128.1 302.8h0.55M129.8 301.7h0.55M127.3 298.6h0.55M128.6 297.4h0.55M128.0 303.1h0.55M128.4 297.8h0.55M129.3 302.4h0.55M128.3 298.0h0.55M127.5 306.6h0.55M128.4 297.8h0.55M129.2 306.8h0.55M128.6 303.5h0.55M129.0 305.5h0.55M127.1 305.0h0.55M129.2 302.8h0.55M127.9 300.3h0.55M128.6 299.9h0.55M127.0 301.8h0.55M128.6 297.1h0.55M129.8 301.2h0.55M127.8 303.1h0.55M127.5 299.1h0.55M129.4 301.7h0.55M129.0 300.4h0.55M129.2 300.2h0.55M126.5 303.2h0.55M127.6 304.0h0.55M130.1 299.0h0.55M127.6 295.9h0.55M127.9 302.7h0.55M128.5 297.9h0.55M128.6 299.8h0.55M128.2 298.7h0.55M125.9 304.3h0.55M127.3 299.4h0.55M129.5 301.7h0.55M127.3 300.2h0.55M128.5 304.7h0.55M129.9 307.2h0.55M130.0 300.5h0.55M129.3 300.2h0.55M127.9 307.0h0.55M128.8 304.0h0.55M127.5 292.5h0.55M129.8 300.7h0.55M128.7 298.7h0.55M129.7 299.4h0.55M126.0 301.6h0.55M127.8 299.7h0.55M127.9 300.0h0.55M128.0 307.7h0.55M127.2 296.2h0.55M128.8 301.7h0.55M127.5 303.1h0.55M130.1 296.7h0.55M128.0 297.7h0.55M127.9 297.7h0.55M127.7 303.9h0.55M128.9 297.8h0.55M128.7 302.8h0.55M127.5 297.5h0.55M125.5 297.3h0.55M128.0 302.6h0.55M127.6 303.8h0.55M128.4 297.0h0.55M127.5 298.0h0.55M128.6 302.0h0.55M127.3 298.1h0.55M128.6 297.5h0.55M128.1 297.8h0.55M129.3 302.1h0.55M128.2 293.0h0.55M129.0 306.6h0.55M128.1 306.1h0.55M128.2 305.1h0.55M127.7 300.5h0.55M127.1 299.0h0.55M128.5 302.8h0.55M128.3 297.7h0.55M128.8 299.2h0.55M130.1 304.9h0.55M130.2 303.7h0.55M128.6 299.7h0.55M127.4 300.4h0.55M128.2 298.5h0.55M129.3 301.4h0.55M128.3 303.0h0.55M129.4 301.2h0.55M128.0 300.1h0.55M128.5 301.2h0.55M129.3 305.0h0.55M129.0 304.0h0.55M128.7 302.7h0.55M128.6 299.2h0.55M128.9 299.7h0.55M128.3 302.7h0.55M129.3 299.9h0.55M127.8 299.0h0.55M131.3 305.4h0.55M128.6 301.5h0.55M127.6 301.9h0.55M126.9 299.3h0.55M127.5 302.0h0.55M128.8 303.7h0.55M127.9 302.0h0.55M129.5 296.5h0.55M128.1 299.6h0.55M127.4 302.8h0.55M128.1 301.8h0.55M127.9 304.3h0.55M128.2 300.2h0.55M127.3 300.9h0.55M128.3 304.0h0.55M126.6 300.9h0.55M128.5 303.8h0.55M128.3 295.6h0.55M128.2 298.1h0.55M127.6 304.0h0.55M128.3 303.6h0.55M128.6 303.5h0.55M126.7 304.0h0.55M129.3 304.0h0.55M128.2 297.6h0.55M128.9 306.1h0.55M129.8 303.8h0.55M127.2 297.4h0.55M127.4 296.9h0.55M127.5 302.3h0.55M128.4 298.9h0.55M127.4 302.7h0.55M127.6 300.1h0.55M130.1 296.3h0.55M128.2 298.4h0.55M128.8 299.8h0.55M129.4 301.0h0.55M129.8 303.5h0.55M127.0 299.0h0.55M128.8 302.5h0.55M129.1 300.3h0.55M129.5 300.6h0.55M127.8 293.8h0.55M128.0 299.4h0.55M128.6 296.5h0.55M128.5 303.1h0.55M128.1 304.4h0.55M127.8 302.4h0.55M128.3 307.5h0.55M128.1 301.8h0.55M128.6 303.6h0.55M127.8 299.9h0.55M127.4 302.2h0.55M128.0 297.8h0.55M128.2 300.1h0.55M129.4 304.3h0.55M128.0 301.0h0.55M126.4 300.0h0.55M130.5 300.6h0.55M129.6 302.6h0.55M129.0 305.3h0.55M128.9 296.3h0.55M128.5 301.0h0.55M130.1 300.6h0.55M127.3 300.3h0.55M129.1 300.9h0.55M129.1 302.6h0.55M130.7 304.7h0.55M128.3 295.6h0.55M129.9 297.3h0.55M128.8 301.4h0.55M127.5 296.4h0.55M127.4 302.4h0.55M129.6 298.3h0.55M127.3 300.5h0.55M128.1 297.3h0.55M130.0 298.1h0.55M129.0 299.9h0.55M130.3 305.5h0.55M129.9 300.8h0.55M129.2 303.0h0.55M127.7 298.4h0.55M130.2 302.5h0.55M128.9 299.3h0.55M128.5 291.9h0.55M127.4 292.6h0.55M126.4 300.5h0.55M128.8 303.0h0.55M128.0 298.4h0.55M126.8 297.5h0.55M129.3 299.1h0.55M128.7 306.1h0.55M127.9 295.1h0.55M128.0 303.0h0.55M129.0 304.5h0.55M128.9 296.6h0.55M127.6 297.9h0.55M129.3 299.6h0.55M128.3 298.7h0.55M127.5 303.9h0.55M128.3 301.1h0.55M128.5 299.2h0.55M129.6 302.0h0.55M129.1 304.7h0.55M126.3 299.7h0.55M127.3 298.3h0.55M129.2 303.8h0.55M128.7 306.4h0.55M127.5 305.9h0.55M127.9 303.5h0.55M130.0 300.4h0.55M126.2 303.6h0.55M129.6 302.8h0.55M129.5 303.0h0.55M127.9 301.0h0.55M128.2 304.4h0.55M128.8 303.9h0.55M128.5 297.1h0.55M128.8 303.4h0.55M129.6 298.0h0.55M127.8 301.5h0.55M128.4 300.7h0.55M128.9 302.7h0.55M128.0 299.6h0.55M128.4 300.0h0.55M129.8 299.5h0.55M126.5 299.6h0.55M128.7 296.7h0.55M127.9 302.8h0.55M127.3 299.4h0.55M128.2 302.3h0.55M128.8 301.2h0.55M129.2 302.5h0.55M127.7 303.0h0.55M129.1 297.1h0.55M129.8 300.8h0.55M128.6 301.8h0.55M129.1 299.0h0.55M128.9 299.1h0.55M129.1 302.4h0.55M127.5 305.3h0.55M129.6 303.0h0.55M128.9 303.4h0.55M130.2 302.2h0.55M129.2 307.3h0.55M127.6 301.4h0.55M129.6 304.1h0.55M129.5 302.4h0.55M128.2 301.2h0.55M128.1 296.3h0.55M129.7 296.1h0.55M129.3 301.5h0.55M128.6 298.4h0.55M127.8 299.7h0.55M128.1 297.7h0.55M127.9 301.2h0.55M128.9 299.2h0.55M127.8 303.1h0.55M128.4 306.0h0.55M128.2 302.8h0.55M128.8 301.4h0.55M129.4 301.4h0.55M127.0 305.6h0.55M128.8 297.1h0.55M127.8 298.2h0.55M128.3 299.5h0.55M128.3 297.5h0.55M129.9 302.9h0.55M129.9 300.1h0.55M128.2 298.2h0.55M128.2 303.0h0.55M129.8 301.0h0.55M128.9 302.6h0.55M130.2 301.3h0.55M127.8 299.6h0.55M129.5 297.9h0.55M128.0 302.7h0.55M125.7 298.4h0.55M129.2 304.5h0.55M127.6 302.1h0.55M129.1 301.2h0.55M128.2 298.7h0.55M129.6 306.5h0.55M127.2 300.5h0.55M127.0 303.0h0.55M129.9 299.3h0.55M129.5 305.0h0.55M128.6 302.7h0.55M126.9 304.6h0.55M129.3 303.9h0.55M130.8 300.9h0.55M128.1 298.6h0.55M128.1 301.5h0.55M127.6 299.3h0.55M128.9 300.2h0.55M128.4 306.7h0.55M127.0 304.3h0.55M127.7 302.4h0.55M129.3 303.5h0.55M127.4 304.3h0.55M128.7 302.2h0.55M129.4 301.3h0.55M129.1 301.9h0.55M126.7 303.0h0.55M127.4 297.9h0.55M126.5 301.7h0.55M128.7 299.9h0.55M128.2 299.9h0.55M129.6 305.5h0.55M128.9 303.5h0.55M128.3 303.1h0.55M129.3 305.0h0.55M128.5 302.9h0.55M129.2 300.7h0.55M129.5 307.6h0.55M127.4 298.0h0.55M130.0 295.8h0.55M128.3 299.2h0.55M128.5 303.8h0.55M128.6 299.5h0.55M128.1 301.9h0.55M128.0 304.6h0.55M128.9 303.8h0.55M127.8 302.9h0.55M128.8 305.2h0.55M129.1 301.8h0.55M127.8 305.1h0.55M128.1 302.3h0.55M128.9 306.5h0.55M128.4 305.2h0.55M129.0 302.0h0.55M128.3 305.4h0.55M128.1 304.7h0.55M128.2 304.5h0.55M128.7 302.9h0.55M129.5 298.2h0.55M126.8 300.3h0.55M127.9 304.7h0.55M128.0 305.9h0.55M127.6 297.0h0.55M127.9 299.0h0.55M129.5 295.4h0.55M129.3 297.6h0.55M127.8 303.7h0.55M127.0 299.9h0.55M128.8 303.4h0.55M128.8 306.3h0.55M127.3 296.4h0.55M128.6 302.2h0.55M128.8 302.9h0.55M129.0 303.3h0.55M127.9 305.1h0.55M128.9 305.5h0.55M128.2 303.7h0.55M129.2 298.9h0.55M128.6 305.6h0.55M128.4 298.5h0.55M128.1 301.6h0.55M128.6 303.1h0.55M129.2 300.8h0.55M128.0 302.7h0.55M128.7 302.9h0.55M130.7 305.5h0.55M127.8 300.9h0.55M127.1 301.5h0.55M128.1 305.4h0.55M128.4 300.6h0.55M126.3 298.2h0.55M126.5 301.8h0.55M129.1 303.7h0.55M127.1 301.2h0.55M129.0 297.6h0.55M129.5 298.0h0.55M125.5 299.7h0.55M128.9 301.9h0.55M128.4 302.7h0.55M128.1 305.4h0.55M128.8 299.5h0.55M128.3 299.1h0.55M128.9 296.2h0.55M130.1 298.4h0.55M128.7 300.9h0.55M127.2 300.7h0.55M129.7 301.0h0.55M129.4 302.2h0.55M129.8 300.4h0.55M128.8 297.0h0.55M129.2 302.2h0.55M130.3 302.7h0.55M128.3 299.0h0.55M129.8 293.6h0.55M128.1 296.7h0.55M129.5 299.7h0.55M127.9 299.7h0.55M128.0 298.6h0.55M128.7 302.3h0.55M128.7 305.1h0.55M127.7 303.2h0.55M129.9 302.2h0.55M128.0 306.5h0.55M129.1 296.7h0.55M127.6 300.9h0.55M127.8 301.7h0.55M127.9 300.5h0.55M128.6 301.1h0.55M128.6 300.8h0.55M128.6 299.4h0.55M128.4 297.7h0.55M129.3 298.0h0.55M129.3 300.4h0.55M128.0 302.7h0.55M128.6 303.1h0.55M128.8 303.8h0.55M129.1 293.7h0.55M128.9 298.5h0.55M128.1 297.6h0.55M128.1 301.3h0.55M128.5 301.4h0.55M128.9 300.0h0.55M127.4 304.5h0.55M127.5 299.8h0.55M128.0 301.7h0.55M128.5 303.0h0.55M127.8 302.8h0.55M128.0 300.3h0.55M127.7 305.7h0.55M128.9 303.6h0.55M126.6 304.4h0.55M128.4 302.1h0.55M127.8 302.0h0.55M128.4 298.9h0.55M128.6 295.2h0.55M125.6 297.7h0.55M129.5 296.3h0.55M129.1 301.2h0.55M129.9 296.7h0.55M129.1 299.7h0.55M129.3 298.3h0.55M128.9 301.3h0.55M129.9 300.7h0.55M127.2 305.7h0.55M128.3 304.2h0.55M127.6 306.3h0.55M129.2 301.6h0.55M128.7 295.6h0.55M129.9 304.5h0.55M128.6 307.5h0.55M128.3 300.1h0.55M128.3 305.9h0.55M127.7 300.8h0.55M126.5 301.7h0.55M128.4 301.0h0.55M128.0 299.4h0.55M128.0 299.9h0.55M127.3 295.8h0.55M128.5 301.9h0.55M127.4 301.8h0.55M128.7 303.6h0.55M128.2 301.2h0.55M128.1 302.7h0.55M128.7 304.5h0.55M129.2 300.9h0.55M128.3 302.2h0.55M127.9 301.4h0.55M129.0 305.5h0.55M129.1 299.7h0.55M128.0 304.7h0.55M131.0 302.7h0.55M129.6 292.9h0.55M129.8 302.8h0.55M128.8 299.5h0.55M128.8 298.4h0.55M127.5 301.3h0.55M128.2 302.3h0.55M129.1 301.6h0.55M127.9 298.6h0.55M127.6 301.0h0.55M129.5 302.8h0.55M128.5 298.4h0.55M129.3 300.6h0.55M128.5 296.2h0.55M127.8 297.4h0.55M128.4 300.0h0.55M126.1 303.7h0.55M129.3 298.4h0.55M128.9 298.6h0.55M129.5 301.0h0.55M128.2 298.1h0.55M130.3 299.6h0.55M129.6 298.4h0.55M126.8 306.8h0.55M126.7 299.8h0.55M128.7 305.7h0.55M127.1 301.7h0.55M128.3 307.0h0.55M128.2 298.2h0.55M128.1 301.9h0.55M129.8 293.7h0.55M128.9 305.5h0.55M129.0 303.3h0.55M128.6 300.2h0.55M127.8 306.2h0.55M128.9 306.4h0.55M127.7 301.5h0.55M128.2 298.7h0.55M128.3 296.5h0.55M127.1 304.7h0.55M126.7 295.3h0.55M127.3 300.7h0.55M128.9 306.8h0.55M125.8 302.5h0.55M129.0 297.3h0.55M126.4 298.6h0.55M127.7 305.4h0.55M127.9 298.0h0.55M129.1 299.9h0.55M128.4 296.8h0.55M127.4 301.1h0.55M127.8 299.3h0.55M128.6 304.6h0.55M129.4 298.2h0.55M128.7 299.9h0.55M128.3 293.7h0.55M128.2 305.5h0.55M129.9 305.2h0.55M127.6 300.4h0.55M128.0 301.8h0.55M128.7 302.8h0.55M129.6 304.7h0.55M126.8 296.0h0.55M129.3 298.4h0.55M128.6 305.1h0.55M126.6 303.2h0.55M127.7 301.4h0.55M128.3 304.0h0.55M128.7 304.2h0.55M127.2 304.2h0.55M128.2 297.9h0.55M129.1 301.4h0.55M127.9 302.6h0.55M128.1 302.3h0.55M128.0 298.0h0.55M127.1 300.6h0.55M128.1 298.2h0.55M128.2 300.0h0.55M129.1 302.1h0.55M127.6 303.2h0.55M127.2 303.3h0.55M127.9 304.6h0.55M127.6 301.9h0.55M128.9 297.3h0.55M127.9 301.6h0.55M126.9 299.9h0.55M129.0 295.9h0.55M128.3 299.3h0.55M128.6 302.7h0.55M128.8 304.7h0.55M129.4 301.0h0.55M127.5 296.9h0.55M129.0 301.2h0.55M128.5 299.0h0.55M128.4 305.4h0.55M128.3 297.3h0.55M128.0 304.1h0.55M128.6 300.6h0.55M128.4 302.6h0.55M129.0 299.1h0.55M129.8 303.0h0.55M127.5 301.3h0.55M130.2 300.8h0.55M129.4 297.9h0.55M127.3 299.5h0.55M128.3 295.3h0.55M128.4 303.0h0.55M129.5 300.4h0.55M127.5 306.1h0.55M130.0 296.5h0.55M127.4 306.4h0.55M128.1 302.8h0.55M127.8 299.9h0.55M127.2 302.9h0.55M127.3 297.3h0.55M127.8 296.9h0.55M128.1 305.3h0.55M127.8 294.9h0.55M127.5 301.4h0.55M126.0 305.7h0.55M128.1 301.7h0.55M130.2 305.7h0.55M130.0 300.6h0.55M129.5 299.2h0.55M128.0 305.1h0.55M128.9 304.2h0.55M127.9 301.1h0.55M127.9 305.8h0.55M128.5 297.7h0.55M129.4 304.7h0.55M127.9 300.1h0.55M127.8 302.1h0.55M128.4 301.7h0.55M127.0 302.0h0.55M129.2 303.1h0.55M129.4 306.0h0.55M129.5 305.9h0.55M129.1 301.7h0.55M127.8 301.6h0.55M128.2 298.2h0.55M127.5 306.8h0.55M128.7 304.4h0.55M130.5 299.4h0.55M127.5 302.0h0.55M129.0 306.3h0.55M129.7 299.2h0.55M127.4 302.3h0.55M130.4 301.4h0.55M127.8 300.5h0.55M128.3 301.7h0.55M128.8 295.0h0.55M129.3 304.6h0.55M129.2 300.0h0.55M128.2 301.8h0.55M126.2 285.0h0.55M130.0 283.4h0.55M128.2 283.0h0.55M125.7 283.6h0.55M127.0 290.9h0.55M127.3 291.9h0.55M126.7 293.4h0.55M126.3 283.3h0.55M126.3 288.0h0.55M126.8 292.3h0.55M127.8 294.3h0.55M127.9 286.9h0.55M128.9 286.7h0.55M127.4 286.7h0.55M125.4 289.6h0.55M127.5 290.9h0.55M128.7 291.5h0.55M126.4 286.5h0.55M127.8 293.2h0.55M127.9 284.5h0.55M126.6 290.3h0.55M127.4 292.8h0.55M126.6 292.0h0.55M129.1 289.6h0.55M128.3 286.7h0.55M127.7 287.8h0.55M128.3 285.5h0.55M128.3 285.7h0.55" stroke="#000" stroke-width="0.55" fill="none" opacity="1"/>
<path d="M116.6 293.3h0.5M106.2 301.9h0.5M119.6 295.2h0.5M120.9 284.3h0.5M106.8 302.0h0.5M103.8 285.7h0.5M104.2 287.6h0.5M123.7 284.2h0.5M113.3 284.6h0.5M118.4 297.8h0.5M113.1 288.2h0.5M113.3 295.0h0.5M98.3 304.2h0.5M102.0 302.5h0.5M119.2 295.3h0.5M114.3 289.3h0.5M113.5 284.4h0.5M101.8 303.6h0.5M112.5 291.0h0.5M116.1 299.0h0.5M98.4 303.8h0.5M100.2 303.2h0.5M112.8 297.8h0.5M111.2 292.5h0.5M105.4 299.0h0.5M114.6 291.7h0.5M122.7 301.5h0.5M118.4 298.1h0.5M121.1 286.3h0.5M101.5 289.6h0.5M109.2 295.9h0.5M111.9 294.0h0.5M118.1 300.0h0.5M119.8 299.7h0.5M101.3 302.6h0.5M105.7 297.4h0.5M103.0 304.4h0.5M98.3 299.1h0.5M112.7 304.6h0.5M110.8 302.3h0.5M105.9 293.5h0.5M103.9 304.8h0.5M99.1 301.1h0.5M106.9 304.0h0.5M112.2 300.0h0.5M116.3 285.4h0.5M121.9 305.7h0.5M110.1 287.7h0.5M108.2 288.6h0.5M123.1 288.1h0.5M122.6 296.4h0.5M119.3 293.9h0.5M107.8 300.9h0.5M98.6 299.3h0.5M98.5 305.7h0.5M100.1 267.4h0.5M104.5 269.8h0.5M120.2 274.7h0.5M113.7 278.7h0.5M104.5 271.5h0.5M117.6 275.2h0.5M109.6 277.7h0.5M100.8 268.7h0.5M100.2 277.8h0.5M117.6 268.7h0.5M99.2 279.9h0.5M109.3 276.5h0.5M106.3 267.4h0.5M115.1 270.5h0.5M116.2 265.4h0.5M105.1 264.7h0.5M105.9 266.7h0.5M99.1 278.4h0.5M103.9 277.8h0.5M105.9 278.1h0.5M100.5 263.0h0.5M100.1 277.6h0.5M121.6 289.7h0.5M120.8 288.0h0.5M121.9 299.3h0.5M119.3 290.0h0.5M124.4 299.2h0.5M126.0 302.3h0.5M123.2 294.0h0.5M122.2 295.6h0.5M120.6 295.9h0.5M126.0 294.6h0.5M127.2 296.1h0.5M117.7 295.9h0.5M130.1 297.0h0.5M128.6 298.3h0.5M122.5 300.5h0.5M124.1 300.3h0.5M124.6 298.3h0.5M125.2 294.3h0.5M123.0 300.4h0.5M125.3 301.9h0.5M126.0 298.7h0.5M131.3 296.3h0.5M122.2 287.3h0.5M127.0 301.1h0.5M124.0 299.1h0.5M124.5 305.3h0.5M124.4 307.0h0.5M123.0 301.2h0.5M122.8 295.9h0.5M122.7 300.8h0.5M121.9 292.6h0.5M122.8 298.5h0.5M129.5 294.4h0.5M123.9 300.5h0.5M121.8 289.7h0.5M121.2 296.5h0.5M127.6 299.1h0.5M122.3 297.0h0.5M124.6 296.5h0.5" stroke="#888" stroke-width="0.5" fill="none" opacity="1"/>
<path d="M110.8 307.5h0.55M100.0 307.0h0.55M111.8 307.0h0.55M125.2 307.0h0.55M109.2 307.0h0.55M107.6 307.3h0.55M129.0 307.4h0.55M98.5 307.0h0.55M129.2 307.2h0.55M107.6 307.5h0.55M130.6 307.5h0.55M110.9 306.5h0.55M110.3 307.5h0.55M124.0 307.2h0.55M102.3 307.5h0.55M127.6 307.5h0.55M124.0 306.5h0.55M125.1 307.4h0.55M102.8 307.1h0.55M120.2 306.6h0.55M111.7 307.1h0.55M97.9 307.2h0.55M98.6 307.2h0.55M113.7 307.1h0.55M130.5 307.3h0.55M124.3 307.1h0.55M101.0 306.9h0.55M121.8 307.5h0.55M125.9 307.4h0.55M97.9 307.4h0.55M103.0 307.2h0.55M111.4 307.0h0.55M125.3 307.2h0.55M104.1 307.1h0.55M107.2 306.8h0.55M98.5 306.6h0.55M104.0 307.0h0.55M101.4 306.7h0.55M109.4 307.2h0.55M127.2 307.1h0.55M104.1 306.8h0.55M115.6 306.6h0.55M131.8 307.2h0.55M99.1 307.4h0.55M112.7 306.8h0.55M130.4 306.6h0.55M125.2 307.4h0.55M125.5 306.9h0.55M132.7 306.8h0.55M114.5 306.6h0.55M111.8 306.9h0.55M105.3 307.4h0.55M118.5 306.6h0.55M109.7 307.3h0.55M125.3 306.8h0.55M119.7 307.2h0.55M133.9 307.3h0.55M123.2 306.9h0.55M120.7 306.7h0.55M120.0 307.3h0.55M104.4 306.8h0.55M114.2 307.6h0.55M121.9 306.9h0.55M114.3 306.9h0.55M126.6 306.8h0.55M120.8 307.5h0.55M133.8 307.0h0.55M127.0 307.6h0.55M124.4 307.1h0.55M127.2 307.1h0.55M102.3 307.1h0.55M111.9 306.7h0.55M106.6 307.1h0.55M124.6 306.7h0.55M118.4 307.5h0.55M123.9 306.7h0.55M116.6 306.9h0.55M132.0 307.0h0.55M111.8 306.8h0.55M108.3 307.1h0.55M107.3 306.8h0.55M122.0 306.7h0.55M121.7 306.7h0.55M110.7 307.1h0.55M115.3 307.5h0.55M108.7 307.5h0.55M122.5 307.4h0.55M116.8 306.6h0.55M120.8 306.6h0.55M127.7 307.3h0.55M114.2 307.0h0.55M106.5 307.2h0.55M117.1 307.5h0.55M106.3 307.2h0.55M121.1 306.7h0.55M108.0 306.5h0.55M105.8 307.5h0.55M127.8 306.8h0.55M123.9 306.8h0.55M130.8 307.4h0.55M120.3 307.0h0.55M133.3 307.0h0.55M117.6 307.5h0.55M131.5 307.3h0.55M128.6 306.6h0.55M104.2 306.5h0.55M125.7 307.4h0.55M110.1 307.2h0.55M110.0 306.6h0.55M117.8 307.2h0.55M109.1 306.6h0.55M98.5 306.7h0.55M99.4 306.8h0.55M104.3 306.9h0.55M132.8 306.9h0.55M114.1 307.4h0.55M106.8 307.3h0.55M132.0 306.9h0.55M120.8 307.2h0.55M120.2 306.8h0.55M118.3 307.5h0.55M109.7 306.7h0.55M118.7 306.9h0.55M110.0 306.7h0.55M128.5 307.4h0.55M100.1 306.7h0.55M98.5 307.5h0.55M99.5 306.9h0.55M102.4 307.3h0.55M123.4 307.5h0.55M103.7 306.9h0.55M103.7 306.5h0.55M98.5 307.4h0.55M133.9 307.5h0.55M110.7 307.2h0.55M126.5 307.0h0.55M128.1 306.8h0.55M104.0 307.0h0.55M112.7 306.8h0.55M124.0 306.8h0.55M100.6 307.3h0.55M121.7 307.6h0.55M107.7 306.7h0.55M122.6 307.1h0.55M127.8 306.9h0.55M127.3 307.3h0.55M127.9 306.7h0.55M111.6 307.5h0.55M115.6 307.4h0.55M123.5 306.9h0.55M124.8 307.6h0.55M130.7 307.4h0.55M121.9 307.1h0.55M124.7 307.0h0.55M108.4 306.9h0.55M132.5 307.0h0.55M110.4 307.0h0.55M100.3 307.4h0.55M125.9 307.1h0.55M97.7 306.8h0.55M124.9 306.6h0.55M115.7 306.7h0.55M110.6 307.2h0.55M117.6 307.2h0.55M132.4 306.7h0.55M127.3 307.3h0.55M126.7 307.4h0.55M111.0 306.8h0.55M110.0 306.8h0.55M119.1 307.5h0.55M125.6 306.9h0.55M114.9 307.2h0.55M107.7 306.9h0.55M101.6 307.2h0.55M101.1 307.0h0.55M117.1 306.5h0.55M118.1 307.3h0.55M129.2 307.2h0.55M99.8 306.9h0.55M120.6 306.8h0.55M132.1 307.0h0.55M101.6 306.6h0.55M111.4 306.8h0.55M128.7 306.8h0.55M112.4 307.2h0.55M99.9 307.3h0.55M111.0 307.5h0.55M105.0 307.1h0.55M134.0 306.8h0.55M118.9 307.0h0.55M114.0 307.1h0.55M119.8 306.9h0.55M115.8 306.6h0.55M100.2 306.7h0.55M134.0 307.1h0.55M121.9 306.6h0.55M130.7 306.5h0.55M99.1 307.0h0.55M129.2 307.4h0.55M126.1 307.1h0.55M106.1 306.9h0.55M116.9 307.3h0.55M110.1 307.1h0.55M114.4 307.2h0.55M133.0 307.0h0.55M106.0 307.3h0.55M123.5 307.5h0.55M129.1 307.6h0.55M107.6 306.9h0.55M119.8 307.2h0.55M133.6 306.9h0.55M125.2 307.3h0.55M125.0 307.5h0.55M98.2 306.8h0.55M115.7 306.7h0.55M108.5 307.3h0.55M107.5 307.4h0.55M108.8 307.6h0.55M107.7 306.6h0.55M111.3 306.7h0.55M117.0 307.6h0.55M107.7 307.3h0.55M100.5 307.1h0.55M129.8 306.7h0.55M130.3 307.5h0.55M121.2 307.4h0.55M120.1 307.1h0.55M133.0 307.5h0.55M105.1 307.1h0.55M129.3 307.1h0.55M103.1 307.4h0.55M99.3 307.1h0.55M99.3 307.2h0.55M124.1 306.5h0.55M123.3 306.7h0.55M98.6 307.1h0.55M116.3 306.8h0.55M110.4 307.2h0.55M119.1 307.2h0.55M119.5 307.1h0.55M130.0 306.5h0.55M105.2 306.8h0.55M124.4 306.7h0.55M116.5 306.9h0.55M112.0 307.5h0.55M123.0 306.8h0.55M107.7 306.8h0.55M102.5 307.4h0.55M124.5 307.5h0.55M112.0 306.5h0.55M112.7 307.4h0.55M110.6 306.7h0.55M111.1 307.5h0.55M106.3 307.0h0.55M104.4 306.8h0.55M121.7 306.5h0.55M123.0 306.5h0.55M119.1 306.7h0.55M99.3 307.3h0.55M132.9 306.9h0.55M128.4 307.0h0.55M117.3 307.6h0.55M130.3 307.0h0.55M105.8 306.8h0.55M128.6 307.4h0.55M112.2 307.0h0.55M124.9 306.6h0.55M133.7 307.1h0.55M130.0 307.2h0.55M122.8 306.8h0.55M124.4 306.6h0.55M123.2 307.5h0.55M119.5 307.2h0.55M101.5 307.0h0.55M108.0 306.6h0.55M101.7 307.3h0.55M132.3 307.3h0.55M125.3 306.9h0.55M132.5 307.5h0.55M115.4 306.8h0.55M97.3 307.1h0.55M113.9 306.9h0.55M119.4 306.6h0.55M126.5 307.5h0.55M116.6 306.9h0.55M109.5 307.0h0.55M128.6 306.8h0.55M106.6 306.6h0.55M122.9 307.1h0.55M118.9 307.0h0.55M129.4 306.9h0.55M110.0 306.8h0.55M99.4 307.4h0.55M111.6 307.6h0.55M126.9 307.4h0.55M133.7 307.4h0.55M117.4 306.7h0.55M105.4 307.5h0.55M114.0 306.9h0.55M126.4 307.3h0.55M116.7 307.0h0.55M129.5 306.9h0.55M112.7 307.5h0.55M130.9 306.7h0.55M103.7 306.7h0.55M122.2 306.6h0.55M121.9 307.4h0.55M118.0 306.6h0.55M97.5 307.0h0.55M107.4 307.2h0.55M109.9 306.7h0.55M127.2 306.7h0.55M116.4 307.3h0.55M107.5 306.8h0.55M103.1 306.5h0.55M100.3 306.7h0.55M114.2 307.2h0.55M101.9 306.9h0.55M111.5 306.8h0.55M117.3 306.7h0.55M106.2 306.8h0.55M99.9 307.1h0.55M123.2 307.0h0.55M129.0 307.6h0.55M117.8 307.2h0.55M123.9 307.3h0.55M109.6 307.1h0.55M117.6 306.9h0.55M97.4 306.8h0.55M116.4 306.8h0.55" stroke="#000" stroke-width="0.55" fill="none" opacity="1"/>
<rect x="26.5" y="328.2" width="49.599999999999994" height="54.80000000000001" fill="none" stroke="#000" stroke-width="0.65"/>
<path d="M26.5 356.3H76.1" stroke="#000" stroke-width="0.7" fill="none"/>
<path d="M59.4 328.2V383" stroke="#111" stroke-width="0.5" fill="none"/>
<text x="30.6" y="335.09999999999997" font-size="5.0" text-anchor="start" font-weight="bold" fill="#000" font-family="Liberation Serif" stroke-width="0.18">1%</text>
<text x="69.6" y="335.09999999999997" font-size="5.0" text-anchor="end" font-weight="bold" fill="#000" font-family="Liberation Serif" stroke-width="0.18">8%</text>
<text x="48.3" y="326.2" font-size="2.9" text-anchor="middle" font-weight="normal" textLength="25" lengthAdjust="spacingAndGlyphs" fill="#555" stroke="none">070504H.CFSE.011</text>
<path d="M27.70 383v1.8" stroke="#222" stroke-width="0.6"/>
<text x="27.099999999999998" y="388.0" font-size="2.8" text-anchor="middle" font-weight="normal" fill="#444" stroke="none">10</text>
<text x="29.5" y="386.4" font-size="2.0" text-anchor="middle" font-weight="normal" fill="#444" stroke="none">0</text>
<path d="M26.5 381.80h-1.8" stroke="#222" stroke-width="0.6"/>
<text transform="translate(24.10 382.20) rotate(-90)" font-size="2.8" stroke="none" text-anchor="middle" fill="#444">10</text>
<path d="M40.00 383v1.8" stroke="#222" stroke-width="0.6"/>
<text x="39.4" y="388.0" font-size="2.8" text-anchor="middle" font-weight="normal" fill="#444" stroke="none">10</text>
<text x="41.8" y="386.4" font-size="2.0" text-anchor="middle" font-weight="normal" fill="#444" stroke="none">1</text>
<path d="M26.5 368.60h-1.8" stroke="#222" stroke-width="0.6"/>
<text transform="translate(24.10 369.00) rotate(-90)" font-size="2.8" stroke="none" text-anchor="middle" fill="#444">10</text>
<path d="M52.30 383v1.8" stroke="#222" stroke-width="0.6"/>
<text x="51.699999999999996" y="388.0" font-size="2.8" text-anchor="middle" font-weight="normal" fill="#444" stroke="none">10</text>
<text x="54.099999999999994" y="386.4" font-size="2.0" text-anchor="middle" font-weight="normal" fill="#444" stroke="none">2</text>
<path d="M26.5 355.40h-1.8" stroke="#222" stroke-width="0.6"/>
<text transform="translate(24.10 355.80) rotate(-90)" font-size="2.8" stroke="none" text-anchor="middle" fill="#444">10</text>
<path d="M64.60 383v1.8" stroke="#222" stroke-width="0.6"/>
<text x="63.99999999999999" y="388.0" font-size="2.8" text-anchor="middle" font-weight="normal" fill="#444" stroke="none">10</text>
<text x="66.39999999999999" y="386.4" font-size="2.0" text-anchor="middle" font-weight="normal" fill="#444" stroke="none">3</text>
<path d="M26.5 342.20h-1.8" stroke="#222" stroke-width="0.6"/>
<text transform="translate(24.10 342.60) rotate(-90)" font-size="2.8" stroke="none" text-anchor="middle" fill="#444">10</text>
<path d="M76.90 383v1.8" stroke="#222" stroke-width="0.6"/>
<text x="76.3" y="388.0" font-size="2.8" text-anchor="middle" font-weight="normal" fill="#444" stroke="none">10</text>
<text x="78.69999999999999" y="386.4" font-size="2.0" text-anchor="middle" font-weight="normal" fill="#444" stroke="none">4</text>
<path d="M26.5 329.00h-1.8" stroke="#222" stroke-width="0.6"/>
<text transform="translate(24.10 329.40) rotate(-90)" font-size="2.8" stroke="none" text-anchor="middle" fill="#444">10</text>
<text x="52.8" y="392.2" font-size="2.9" text-anchor="middle" font-weight="normal" fill="#555" stroke="none">CFSE</text>
<text transform="translate(19.70 352.60) rotate(-90)" font-size="2.9" stroke="none" text-anchor="middle" fill="#555">CD4 APC</text>
<rect x="22.3" y="327.0" width="1" height="1" fill="#222"/>
<path d="M50.4 378.1h0.5M59.3 373.3h0.5M51.7 376.0h0.5M53.1 372.8h0.5M55.8 380.3h0.5M58.7 376.6h0.5M51.8 363.0h0.5M53.5 370.4h0.5M53.8 369.0h0.5M53.3 373.3h0.5M52.4 377.5h0.5M49.5 374.8h0.5M51.4 366.9h0.5M50.5 365.2h0.5M49.9 374.5h0.5M51.3 373.2h0.5M52.8 378.1h0.5M50.9 376.9h0.5M51.8 375.6h0.5M55.8 380.6h0.5M55.3 376.0h0.5M50.0 377.6h0.5M47.4 372.5h0.5M60.8 376.2h0.5M52.4 381.9h0.5M58.5 369.6h0.5M52.8 369.0h0.5M58.5 372.4h0.5M54.4 379.4h0.5M52.8 374.7h0.5M51.3 371.3h0.5M52.5 377.1h0.5M50.2 374.2h0.5M53.9 374.4h0.5M52.9 368.7h0.5M54.7 366.4h0.5M54.7 376.4h0.5M49.6 372.1h0.5M54.0 377.6h0.5M56.3 378.2h0.5M58.1 369.2h0.5M51.8 375.7h0.5M46.5 371.9h0.5M52.9 375.9h0.5M52.8 378.4h0.5M49.9 373.1h0.5M54.3 377.0h0.5M52.3 375.2h0.5M55.0 376.7h0.5M49.1 378.2h0.5M53.8 374.3h0.5M52.4 379.5h0.5M52.3 380.2h0.5M56.0 370.7h0.5M51.1 373.9h0.5M51.7 374.4h0.5M55.3 366.1h0.5M48.3 370.6h0.5M55.1 380.1h0.5M50.7 377.1h0.5M45.9 374.9h0.5M57.3 375.5h0.5M58.0 378.8h0.5M53.2 369.4h0.5M49.8 381.1h0.5M47.4 372.1h0.5M53.9 372.9h0.5M57.6 370.0h0.5M48.2 375.9h0.5M52.7 370.8h0.5M57.7 374.1h0.5M55.3 370.6h0.5M52.3 379.5h0.5M59.2 380.2h0.5M48.9 371.2h0.5M54.5 368.6h0.5M56.1 368.8h0.5M48.7 377.9h0.5M51.3 368.7h0.5M51.6 370.6h0.5M61.4 374.0h0.5M52.7 380.9h0.5M52.5 374.7h0.5M51.1 373.2h0.5M60.8 377.4h0.5M59.1 367.0h0.5M50.2 369.7h0.5M50.6 378.7h0.5M54.7 379.2h0.5M53.5 376.9h0.5M54.1 376.2h0.5M50.7 373.2h0.5M47.3 373.4h0.5M53.4 382.2h0.5M50.0 370.1h0.5M61.0 380.0h0.5M53.5 374.3h0.5M53.8 367.7h0.5M54.3 376.9h0.5M51.1 371.0h0.5M53.6 376.2h0.5M49.6 376.1h0.5M54.5 371.9h0.5M53.1 365.9h0.5M44.4 376.3h0.5M54.8 377.3h0.5M50.6 373.4h0.5M56.0 371.3h0.5M53.3 376.7h0.5M52.9 377.5h0.5M54.5 372.7h0.5M51.0 378.2h0.5M53.2 374.8h0.5M51.9 374.2h0.5M54.7 369.3h0.5M55.8 371.6h0.5M50.5 377.4h0.5M51.7 380.0h0.5M50.5 379.5h0.5M58.6 374.1h0.5M50.6 373.8h0.5M52.8 370.8h0.5M52.3 371.1h0.5M50.2 372.9h0.5M54.7 378.7h0.5M52.2 379.7h0.5M56.3 376.1h0.5M50.2 377.0h0.5M54.1 370.4h0.5M59.9 373.7h0.5M55.8 377.6h0.5M53.0 374.8h0.5M55.9 377.0h0.5M49.3 368.8h0.5M54.6 381.1h0.5M54.2 373.1h0.5M54.7 371.8h0.5M54.7 375.0h0.5M55.3 358.3h0.5M51.2 373.0h0.5M49.9 372.0h0.5M54.6 378.6h0.5M47.5 367.2h0.5M52.7 368.3h0.5M50.5 367.5h0.5M53.6 380.5h0.5M59.9 366.2h0.5M51.4 375.7h0.5M56.3 370.9h0.5M57.3 377.3h0.5M49.6 369.8h0.5M52.5 371.5h0.5M53.8 376.1h0.5M50.5 366.9h0.5M51.7 365.6h0.5M53.5 374.8h0.5M51.4 376.7h0.5M56.5 374.5h0.5M54.7 376.1h0.5M52.8 374.5h0.5M53.9 376.3h0.5M47.8 369.1h0.5M48.5 363.1h0.5M48.9 371.6h0.5M53.6 381.3h0.5M57.5 371.7h0.5M51.5 366.5h0.5M49.5 381.2h0.5M50.2 379.1h0.5M53.6 371.9h0.5M49.1 377.8h0.5M50.3 376.9h0.5M55.0 369.0h0.5M56.7 379.9h0.5M53.3 377.4h0.5M52.9 376.5h0.5M52.0 379.4h0.5M54.7 366.1h0.5M44.2 374.1h0.5M53.6 381.4h0.5M53.6 380.2h0.5M52.0 368.1h0.5M51.9 377.4h0.5M54.2 371.7h0.5M51.5 376.3h0.5M54.9 371.2h0.5M50.6 380.6h0.5M55.7 379.3h0.5M49.9 379.5h0.5M56.0 375.6h0.5M54.2 374.0h0.5M53.8 381.4h0.5M56.9 378.6h0.5M54.3 376.2h0.5M50.3 372.1h0.5M54.9 370.0h0.5M56.4 378.7h0.5M51.9 378.7h0.5M52.2 374.9h0.5M52.2 375.3h0.5M51.6 368.6h0.5M50.6 371.7h0.5M55.3 370.6h0.5M56.3 377.3h0.5M49.1 374.0h0.5M52.6 374.9h0.5M52.1 371.6h0.5M55.2 375.2h0.5M56.2 367.6h0.5M54.3 382.5h0.5M56.5 375.0h0.5M55.8 377.0h0.5M55.0 376.8h0.5M54.6 371.2h0.5M56.3 380.9h0.5M51.5 375.6h0.5M49.7 374.2h0.5M55.6 379.4h0.5M55.9 370.9h0.5M58.0 377.8h0.5M52.8 382.7h0.5M49.6 372.8h0.5M54.2 376.9h0.5M57.4 369.1h0.5M51.3 376.0h0.5M52.7 376.2h0.5M51.4 367.8h0.5M48.5 382.1h0.5M51.8 366.7h0.5M57.9 376.8h0.5M51.8 373.1h0.5M47.8 373.8h0.5M50.3 376.7h0.5M50.1 375.2h0.5M50.9 374.0h0.5M52.3 376.2h0.5M51.9 373.2h0.5M57.9 375.9h0.5M46.3 371.9h0.5M50.0 378.8h0.5M55.2 375.0h0.5M53.3 373.6h0.5M52.9 380.8h0.5M54.6 366.2h0.5M52.4 374.1h0.5M52.1 369.9h0.5M54.1 372.4h0.5M48.7 370.2h0.5M53.0 373.6h0.5M50.6 380.2h0.5M53.8 371.1h0.5M52.4 373.9h0.5M56.7 379.8h0.5M54.6 377.1h0.5M53.9 378.0h0.5M50.6 374.2h0.5M54.6 372.5h0.5M46.6 372.8h0.5M55.6 373.1h0.5M55.5 369.0h0.5M53.6 364.4h0.5M55.0 372.4h0.5M48.8 375.7h0.5M51.5 372.2h0.5M50.3 379.5h0.5M54.7 379.8h0.5M54.7 375.0h0.5M57.7 373.2h0.5M49.9 376.6h0.5M50.3 372.4h0.5M54.3 373.7h0.5M51.2 371.0h0.5M51.0 371.8h0.5M54.8 377.2h0.5M53.0 372.8h0.5M51.3 376.8h0.5M56.2 374.7h0.5M52.7 375.0h0.5M48.8 376.1h0.5M52.4 365.0h0.5M53.0 372.8h0.5M50.9 376.0h0.5M56.0 381.0h0.5M53.8 377.0h0.5M55.6 380.4h0.5M52.2 375.3h0.5M52.4 369.1h0.5M53.4 373.4h0.5M52.0 373.8h0.5M57.3 375.1h0.5M50.5 376.4h0.5M49.1 368.9h0.5M54.8 376.9h0.5M52.5 373.5h0.5M48.9 371.8h0.5M55.3 369.1h0.5M55.4 375.6h0.5M50.6 372.4h0.5M49.7 364.8h0.5M55.5 374.9h0.5M55.3 373.8h0.5M55.5 367.4h0.5M52.3 377.4h0.5M55.7 373.4h0.5M58.1 376.3h0.5M55.4 369.2h0.5M55.3 372.2h0.5M56.6 376.2h0.5M54.7 377.5h0.5M53.3 371.5h0.5M54.4 363.0h0.5M56.2 375.5h0.5M54.2 373.6h0.5M55.3 380.6h0.5M52.2 370.1h0.5M53.0 376.6h0.5M49.0 368.1h0.5M55.9 375.8h0.5M54.3 373.0h0.5M50.3 375.5h0.5M54.6 374.2h0.5M51.0 373.8h0.5M54.8 381.4h0.5M59.0 379.7h0.5M53.7 374.6h0.5M51.1 370.5h0.5M51.9 370.9h0.5M54.0 379.2h0.5M52.0 374.7h0.5M55.2 371.4h0.5M47.7 371.6h0.5M57.3 380.5h0.5M52.8 375.1h0.5M53.1 370.7h0.5M57.0 381.2h0.5M56.0 376.2h0.5M47.9 368.4h0.5M49.1 369.0h0.5M55.7 375.9h0.5M52.0 371.3h0.5M50.4 372.6h0.5M55.4 382.5h0.5M54.3 382.5h0.5M50.6 376.7h0.5M51.7 375.8h0.5M52.5 369.6h0.5M53.8 369.4h0.5M56.0 375.1h0.5M48.3 375.3h0.5M50.7 378.8h0.5M50.8 378.2h0.5M53.3 376.7h0.5M50.8 377.4h0.5M53.2 375.8h0.5M56.2 380.4h0.5M53.4 369.8h0.5M52.9 377.3h0.5M47.7 368.8h0.5M52.9 375.9h0.5M53.9 382.3h0.5M51.1 372.0h0.5M52.6 377.0h0.5M56.7 374.4h0.5M54.4 381.1h0.5M49.8 375.7h0.5M49.3 372.0h0.5M54.9 376.7h0.5M54.7 376.8h0.5M49.5 375.2h0.5M52.4 372.3h0.5M53.2 368.5h0.5M55.9 374.5h0.5M55.4 367.6h0.5M59.9 370.9h0.5M51.0 375.0h0.5M47.7 379.4h0.5M52.7 378.6h0.5M56.0 367.0h0.5M49.7 379.0h0.5M49.9 365.6h0.5M53.7 375.6h0.5M53.1 375.1h0.5M56.8 378.6h0.5M51.6 375.4h0.5M60.8 379.3h0.5M55.6 372.0h0.5M55.7 374.2h0.5M49.1 378.5h0.5M54.4 372.4h0.5M58.4 372.3h0.5M52.3 375.0h0.5M58.3 367.9h0.5M55.4 373.7h0.5M56.7 370.2h0.5M54.3 381.1h0.5M56.1 380.2h0.5M47.8 377.8h0.5M51.7 375.6h0.5M53.3 373.1h0.5M51.8 376.2h0.5M49.3 376.1h0.5M54.2 373.5h0.5M53.9 376.3h0.5M53.0 369.4h0.5M55.8 370.4h0.5M51.9 375.9h0.5M55.8 369.3h0.5M55.3 379.6h0.5M50.4 376.6h0.5M62.8 364.7h0.5M66.5 378.2h0.5M64.6 375.2h0.5M67.7 374.1h0.5M63.6 375.6h0.5M62.9 376.4h0.5M65.1 374.7h0.5M61.8 379.1h0.5M66.4 373.9h0.5M64.9 379.7h0.5M57.0 372.5h0.5M64.0 372.2h0.5M64.5 368.8h0.5M61.4 370.0h0.5M63.4 361.8h0.5M63.3 367.9h0.5M59.7 372.8h0.5M64.6 378.6h0.5M63.9 369.7h0.5M62.6 372.3h0.5M63.1 373.1h0.5M64.1 373.8h0.5M66.4 364.4h0.5M65.0 371.4h0.5M63.2 378.7h0.5M62.9 370.8h0.5M66.1 375.0h0.5M64.8 378.8h0.5M62.9 373.0h0.5M67.0 377.0h0.5M65.8 374.8h0.5M62.2 370.0h0.5M65.2 374.4h0.5M64.5 368.3h0.5M64.9 373.7h0.5M65.6 375.7h0.5M63.3 371.4h0.5M62.9 376.4h0.5M61.7 375.2h0.5M64.7 374.3h0.5M63.9 371.8h0.5M60.3 370.1h0.5M64.1 374.8h0.5M64.9 374.7h0.5M64.4 378.9h0.5M63.4 365.2h0.5M65.7 375.4h0.5M62.8 372.6h0.5M60.8 371.9h0.5M67.4 368.0h0.5M64.7 377.4h0.5M68.0 374.3h0.5M63.0 376.4h0.5M66.7 366.2h0.5M63.6 373.5h0.5M63.5 375.1h0.5M60.2 373.9h0.5M65.5 367.4h0.5M62.7 372.3h0.5M65.8 382.3h0.5M62.2 378.8h0.5M64.4 376.0h0.5M64.4 377.1h0.5M65.9 376.7h0.5M61.6 371.3h0.5M66.2 365.9h0.5M63.8 374.7h0.5M62.6 374.0h0.5M63.1 364.7h0.5M66.2 371.8h0.5M60.6 373.6h0.5M63.0 372.2h0.5M61.7 363.0h0.5M64.1 368.0h0.5M63.5 367.8h0.5M61.5 379.9h0.5M63.5 372.9h0.5M63.6 368.5h0.5M63.3 377.0h0.5M64.3 365.1h0.5M66.6 371.5h0.5M64.0 376.3h0.5M64.1 369.0h0.5M65.4 368.8h0.5M63.5 365.3h0.5M63.5 369.6h0.5M62.7 377.5h0.5M62.6 375.4h0.5M62.4 378.5h0.5M64.4 370.7h0.5M62.9 365.3h0.5M64.4 368.7h0.5M66.2 362.6h0.5M67.1 375.8h0.5M60.6 374.8h0.5M63.7 371.2h0.5M60.1 371.5h0.5M62.4 356.9h0.5M64.2 362.1h0.5M63.4 373.7h0.5M59.9 369.9h0.5M65.5 376.1h0.5M61.9 368.4h0.5M64.0 375.0h0.5M60.2 374.4h0.5M63.7 365.1h0.5M65.8 376.6h0.5M65.9 379.1h0.5M65.8 374.0h0.5M65.0 377.4h0.5M62.0 376.7h0.5M60.9 372.3h0.5M67.0 376.9h0.5M61.2 382.7h0.5M61.9 368.3h0.5M65.5 375.5h0.5M64.1 371.6h0.5M66.8 373.5h0.5M63.0 371.8h0.5M66.2 371.7h0.5M70.2 374.2h0.5M62.6 370.9h0.5M63.8 375.2h0.5M62.7 363.3h0.5M63.6 377.8h0.5M62.9 370.7h0.5M65.5 370.4h0.5M66.0 379.1h0.5M64.5 377.5h0.5M65.8 376.9h0.5M61.9 376.7h0.5M64.9 374.9h0.5M62.7 368.9h0.5M66.3 376.7h0.5M64.8 375.8h0.5M59.8 376.8h0.5M64.0 372.8h0.5M61.2 372.7h0.5M63.3 370.2h0.5M66.2 380.6h0.5M68.4 370.2h0.5M65.0 376.4h0.5M65.1 371.5h0.5M65.2 368.1h0.5M63.5 372.5h0.5M63.6 346.3h0.5M64.5 343.0h0.5M64.7 345.1h0.5M64.1 346.8h0.5M64.5 344.5h0.5M64.9 349.4h0.5M64.7 350.7h0.5M63.8 351.0h0.5M64.9 346.6h0.5M64.2 345.3h0.5M64.0 349.4h0.5M64.6 350.4h0.5M64.4 345.2h0.5M65.4 346.8h0.5M64.9 346.1h0.5M64.4 349.5h0.5M66.4 345.2h0.5M65.7 339.1h0.5M63.1 348.9h0.5M63.6 350.1h0.5M63.9 347.6h0.5M65.7 349.8h0.5M63.8 346.8h0.5M64.7 342.7h0.5M64.5 348.2h0.5M65.7 345.3h0.5M64.4 342.7h0.5M65.1 350.6h0.5M64.6 346.7h0.5M65.8 337.3h0.5M65.2 348.8h0.5M65.4 347.1h0.5M64.5 345.2h0.5M64.7 345.4h0.5M65.6 348.6h0.5M66.3 349.1h0.5M64.7 349.3h0.5M65.2 350.8h0.5M64.0 344.8h0.5M66.0 352.4h0.5M63.9 356.1h0.5M65.1 347.5h0.5M65.2 348.6h0.5M64.2 348.8h0.5M63.9 351.3h0.5M64.7 342.7h0.5M65.6 350.7h0.5M63.7 345.2h0.5M64.5 347.2h0.5M62.7 348.5h0.5M61.3 359.9h0.5M57.2 361.2h0.5M60.4 367.8h0.5M63.8 357.3h0.5M59.4 366.4h0.5M64.5 365.1h0.5M56.9 355.8h0.5M48.3 355.5h0.5M57.4 359.7h0.5M57.7 363.4h0.5M57.7 360.3h0.5M50.1 364.8h0.5M51.2 361.1h0.5M55.6 356.5h0.5M57.9 363.9h0.5M56.7 365.0h0.5M63.8 360.9h0.5M60.4 360.9h0.5M59.2 356.4h0.5M56.6 365.1h0.5M50.3 368.5h0.5M59.7 362.3h0.5M56.4 356.4h0.5M59.7 356.5h0.5M67.1 361.6h0.5M57.9 356.7h0.5M68.0 359.6h0.5M55.1 357.2h0.5M55.0 362.4h0.5M52.9 357.2h0.5M58.6 365.6h0.5M47.6 368.0h0.5M59.1 367.8h0.5M60.1 355.8h0.5M61.6 366.9h0.5M59.6 363.6h0.5M61.7 364.4h0.5M61.4 364.0h0.5M58.2 364.8h0.5M59.4 363.8h0.5M51.6 381.8h0.5M71.2 382.0h0.5M65.4 382.3h0.5M50.6 382.0h0.5M41.2 382.4h0.5M51.7 381.9h0.5M62.0 382.2h0.5M67.0 381.9h0.5M53.8 382.0h0.5M40.2 382.4h0.5M53.5 382.2h0.5M51.9 382.4h0.5M64.3 382.1h0.5M43.3 382.2h0.5M45.9 381.7h0.5M58.9 382.0h0.5M61.1 382.5h0.5M42.0 382.1h0.5M48.1 382.3h0.5M64.5 382.0h0.5M48.9 382.3h0.5M51.2 381.7h0.5M70.6 381.7h0.5M50.3 381.7h0.5M52.5 382.0h0.5M68.1 382.4h0.5M56.7 381.6h0.5M69.1 382.6h0.5M45.4 381.8h0.5M57.7 382.5h0.5M55.0 381.8h0.5M63.8 382.5h0.5M60.9 382.4h0.5M65.0 381.8h0.5M42.5 382.0h0.5M69.8 382.0h0.5M43.5 382.6h0.5M49.3 382.0h0.5M47.7 381.9h0.5M65.8 381.9h0.5M47.9 382.2h0.5M47.9 382.3h0.5M65.3 382.2h0.5M41.5 382.5h0.5M48.3 382.2h0.5M47.0 382.4h0.5M68.2 382.1h0.5M68.9 381.8h0.5M56.3 381.9h0.5M65.8 382.2h0.5M60.0 382.2h0.5M66.8 381.6h0.5M41.9 381.6h0.5M50.1 382.1h0.5M58.8 382.5h0.5M44.5 382.3h0.5M40.1 382.0h0.5M57.8 382.3h0.5M70.3 381.7h0.5M51.7 382.1h0.5M47.1 382.2h0.5M52.1 382.4h0.5M49.9 382.4h0.5M53.8 382.4h0.5M64.9 382.1h0.5M57.1 382.3h0.5M66.7 382.5h0.5M50.2 382.3h0.5M71.5 381.9h0.5M50.3 382.0h0.5M55.1 382.2h0.5M62.1 382.5h0.5M66.9 382.1h0.5M63.8 382.5h0.5M57.9 381.7h0.5M64.2 381.8h0.5M47.8 381.7h0.5M46.0 382.4h0.5M53.3 382.4h0.5M43.8 382.0h0.5M65.0 382.1h0.5M65.9 382.5h0.5M65.8 381.7h0.5M46.2 381.7h0.5M68.4 382.0h0.5M41.3 382.3h0.5M55.6 382.3h0.5M48.3 382.3h0.5M69.7 382.3h0.5M46.5 382.1h0.5M54.9 382.1h0.5M66.6 381.7h0.5M66.0 382.4h0.5M52.5 382.0h0.5M68.9 381.7h0.5M65.8 382.3h0.5M56.4 381.7h0.5M66.4 382.0h0.5M68.0 381.9h0.5M71.3 382.4h0.5M57.6 381.7h0.5M51.3 382.5h0.5M53.6 382.3h0.5M61.2 381.7h0.5M43.0 382.4h0.5M44.4 381.7h0.5M54.8 381.7h0.5M59.3 382.3h0.5M67.3 382.0h0.5M43.9 382.0h0.5M62.3 381.7h0.5M62.9 382.3h0.5M48.1 382.3h0.5M64.8 382.5h0.5M40.4 381.6h0.5M64.8 382.0h0.5M48.8 382.1h0.5M60.3 382.1h0.5M45.4 382.2h0.5M68.0 381.9h0.5M44.3 381.7h0.5M56.9 382.0h0.5M50.0 382.4h0.5M53.5 381.9h0.5M57.0 382.3h0.5M63.0 382.6h0.5M61.8 382.2h0.5M43.1 381.9h0.5M64.5 382.4h0.5M56.0 381.8h0.5M70.3 382.6h0.5M41.4 382.4h0.5M65.6 381.9h0.5M51.5 382.2h0.5M55.3 381.6h0.5M46.3 381.6h0.5M40.6 382.0h0.5M40.3 382.0h0.5M50.2 382.3h0.5M69.7 381.8h0.5M58.3 382.2h0.5M68.1 382.5h0.5M47.0 381.7h0.5M45.2 382.0h0.5M56.1 382.1h0.5M66.2 382.4h0.5M47.6 381.8h0.5M54.3 382.5h0.5M51.7 382.1h0.5M49.4 381.7h0.5M65.1 381.8h0.5M60.9 382.4h0.5M60.8 381.8h0.5M54.5 382.0h0.5M65.4 381.8h0.5M68.6 382.3h0.5M43.2 382.2h0.5M60.1 382.5h0.5M69.9 381.7h0.5M64.7 382.2h0.5M43.7 381.8h0.5M69.5 382.2h0.5M58.2 382.4h0.5M68.1 382.1h0.5M42.9 382.4h0.5M45.6 381.6h0.5M49.0 382.5h0.5M59.0 381.7h0.5M60.6 382.1h0.5M48.6 382.2h0.5M68.4 381.7h0.5M67.3 382.6h0.5M62.9 382.1h0.5M41.2 382.6h0.5M54.8 382.5h0.5M65.2 381.9h0.5M69.2 382.2h0.5M69.4 381.8h0.5M53.6 382.3h0.5M40.4 382.0h0.5" stroke="#000" stroke-width="0.5" fill="none" opacity="1"/>
<rect x="96.1" y="328.2" width="48.30000000000001" height="54.80000000000001" fill="none" stroke="#000" stroke-width="0.65"/>
<path d="M96.1 356.3H144.4" stroke="#000" stroke-width="0.7" fill="none"/>
<path d="M124.1 328.2V383" stroke="#111" stroke-width="0.5" fill="none"/>
<text x="97.4" y="335.09999999999997" font-size="5.0" text-anchor="start" font-weight="bold" fill="#000" font-family="Liberation Serif" stroke-width="0.18">34%</text>
<text x="139.4" y="335.09999999999997" font-size="5.0" text-anchor="end" font-weight="bold" fill="#000" font-family="Liberation Serif" stroke-width="0.18">2%</text>
<text x="117.25" y="326.2" font-size="2.9" text-anchor="middle" font-weight="normal" textLength="25" lengthAdjust="spacingAndGlyphs" fill="#555" stroke="none">061505.CFSE.010</text>
<path d="M97.30 383v1.8" stroke="#222" stroke-width="0.6"/>
<text x="96.7" y="388.0" font-size="2.8" text-anchor="middle" font-weight="normal" fill="#444" stroke="none">10</text>
<text x="99.1" y="386.4" font-size="2.0" text-anchor="middle" font-weight="normal" fill="#444" stroke="none">0</text>
<path d="M96.1 381.80h-1.8" stroke="#222" stroke-width="0.6"/>
<text transform="translate(93.70 382.20) rotate(-90)" font-size="2.8" stroke="none" text-anchor="middle" fill="#444">10</text>
<path d="M109.28 383v1.8" stroke="#222" stroke-width="0.6"/>
<text x="108.67500000000001" y="388.0" font-size="2.8" text-anchor="middle" font-weight="normal" fill="#444" stroke="none">10</text>
<text x="111.075" y="386.4" font-size="2.0" text-anchor="middle" font-weight="normal" fill="#444" stroke="none">1</text>
<path d="M96.1 368.60h-1.8" stroke="#222" stroke-width="0.6"/>
<text transform="translate(93.70 369.00) rotate(-90)" font-size="2.8" stroke="none" text-anchor="middle" fill="#444">10</text>
<path d="M121.25 383v1.8" stroke="#222" stroke-width="0.6"/>
<text x="120.65" y="388.0" font-size="2.8" text-anchor="middle" font-weight="normal" fill="#444" stroke="none">10</text>
<text x="123.05" y="386.4" font-size="2.0" text-anchor="middle" font-weight="normal" fill="#444" stroke="none">2</text>
<path d="M96.1 355.40h-1.8" stroke="#222" stroke-width="0.6"/>
<text transform="translate(93.70 355.80) rotate(-90)" font-size="2.8" stroke="none" text-anchor="middle" fill="#444">10</text>
<path d="M133.23 383v1.8" stroke="#222" stroke-width="0.6"/>
<text x="132.62500000000003" y="388.0" font-size="2.8" text-anchor="middle" font-weight="normal" fill="#444" stroke="none">10</text>
<text x="135.02500000000003" y="386.4" font-size="2.0" text-anchor="middle" font-weight="normal" fill="#444" stroke="none">3</text>
<path d="M96.1 342.20h-1.8" stroke="#222" stroke-width="0.6"/>
<text transform="translate(93.70 342.60) rotate(-90)" font-size="2.8" stroke="none" text-anchor="middle" fill="#444">10</text>
<path d="M145.20 383v1.8" stroke="#222" stroke-width="0.6"/>
<text x="144.60000000000002" y="388.0" font-size="2.8" text-anchor="middle" font-weight="normal" fill="#444" stroke="none">10</text>
<text x="147.00000000000003" y="386.4" font-size="2.0" text-anchor="middle" font-weight="normal" fill="#444" stroke="none">4</text>
<path d="M96.1 329.00h-1.8" stroke="#222" stroke-width="0.6"/>
<text transform="translate(93.70 329.40) rotate(-90)" font-size="2.8" stroke="none" text-anchor="middle" fill="#444">10</text>
<text x="121.75" y="392.2" font-size="2.9" text-anchor="middle" font-weight="normal" fill="#555" stroke="none">CFSE</text>
<text transform="translate(89.30 352.60) rotate(-90)" font-size="2.9" stroke="none" text-anchor="middle" fill="#555">CD4 APC</text>
<rect x="91.89999999999999" y="327.0" width="1" height="1" fill="#222"/>
<path d="M106.9 343.7h0.55M112.3 340.4h0.55M109.3 343.3h0.55M106.7 345.0h0.55M103.0 339.6h0.55M100.2 340.7h0.55M106.7 344.3h0.55M105.4 345.0h0.55M108.6 342.3h0.55M104.1 342.3h0.55M106.4 343.3h0.55M104.5 341.6h0.55M107.2 341.5h0.55M107.1 337.5h0.55M102.6 342.3h0.55M106.2 348.1h0.55M108.9 340.9h0.55M107.2 341.2h0.55M109.3 344.5h0.55M104.2 345.3h0.55M102.0 349.9h0.55M104.3 341.6h0.55M103.3 344.5h0.55M110.3 339.8h0.55M106.5 340.4h0.55M108.4 340.9h0.55M110.0 342.7h0.55M106.8 344.5h0.55M101.1 343.8h0.55M100.6 340.4h0.55M108.0 343.0h0.55M108.3 339.5h0.55M103.5 341.2h0.55M107.3 339.4h0.55M107.6 342.2h0.55M106.5 344.0h0.55M103.0 349.6h0.55M109.1 340.8h0.55M103.7 344.7h0.55M107.4 343.8h0.55M102.6 342.0h0.55M104.0 341.0h0.55M108.2 339.5h0.55M103.6 343.4h0.55M102.3 340.9h0.55M105.9 342.8h0.55M105.7 345.8h0.55M103.3 338.2h0.55M107.0 347.4h0.55M107.6 340.8h0.55M106.7 344.8h0.55M110.3 344.2h0.55M104.7 342.5h0.55M109.4 344.4h0.55M105.8 347.0h0.55M102.7 343.1h0.55M102.9 346.3h0.55M102.2 348.9h0.55M101.2 343.4h0.55M106.9 340.5h0.55M101.9 341.8h0.55M105.2 344.1h0.55M106.3 346.0h0.55M105.4 337.2h0.55M108.2 342.4h0.55M103.1 341.1h0.55M103.7 348.2h0.55M108.7 340.1h0.55M108.6 344.8h0.55M105.8 343.2h0.55M103.5 345.7h0.55M104.1 348.3h0.55M107.8 342.2h0.55M110.4 339.0h0.55M104.4 347.2h0.55M105.6 340.9h0.55M103.6 343.5h0.55M108.6 345.1h0.55M106.2 338.4h0.55M107.1 341.2h0.55M104.4 343.7h0.55M109.0 341.1h0.55M107.3 348.6h0.55M108.4 338.9h0.55M105.3 345.5h0.55M104.5 341.2h0.55M106.9 343.2h0.55M106.7 340.7h0.55M109.0 344.5h0.55M109.0 346.4h0.55M102.9 344.6h0.55M101.4 342.7h0.55M109.0 336.0h0.55M105.0 343.7h0.55M104.9 336.8h0.55M107.7 346.0h0.55M106.4 339.6h0.55M106.1 337.3h0.55M107.2 338.0h0.55M105.3 343.0h0.55M105.8 340.3h0.55M105.0 343.1h0.55M106.8 339.0h0.55M104.7 345.2h0.55M109.7 347.6h0.55M107.2 343.1h0.55M105.9 339.8h0.55M108.5 338.8h0.55M106.9 340.4h0.55M108.2 346.2h0.55M107.6 340.9h0.55M102.9 338.0h0.55M109.0 350.9h0.55M108.6 347.8h0.55M105.2 347.4h0.55M112.4 340.8h0.55M103.0 345.3h0.55M108.7 340.0h0.55M105.5 341.4h0.55M106.0 344.8h0.55M108.4 339.3h0.55M108.7 342.8h0.55M108.2 338.8h0.55M102.8 345.6h0.55M108.9 341.6h0.55M104.6 343.3h0.55M105.8 343.5h0.55M106.7 340.2h0.55M102.8 340.9h0.55M109.0 340.3h0.55M105.7 335.1h0.55M103.5 343.3h0.55M104.6 345.6h0.55M103.1 346.2h0.55M103.3 342.6h0.55M107.1 345.4h0.55M107.4 340.0h0.55M109.4 342.0h0.55M111.9 336.8h0.55M108.3 340.9h0.55M100.3 344.2h0.55M108.0 338.1h0.55M106.9 342.6h0.55M107.9 350.1h0.55M108.5 345.5h0.55M106.7 343.2h0.55M108.6 346.9h0.55M108.1 345.2h0.55M111.6 341.3h0.55M104.7 352.0h0.55M103.8 346.0h0.55M105.8 346.0h0.55M112.5 346.3h0.55M101.2 340.4h0.55M105.7 342.5h0.55M103.4 345.4h0.55M106.0 342.0h0.55M107.2 343.1h0.55M103.9 341.5h0.55M109.3 341.4h0.55M111.3 346.7h0.55M105.1 341.7h0.55M108.4 347.4h0.55M104.0 345.0h0.55M103.6 338.3h0.55M108.1 340.5h0.55M108.1 340.8h0.55M103.5 347.3h0.55M107.8 342.2h0.55M109.8 345.6h0.55M104.8 346.9h0.55M102.4 343.9h0.55M107.0 340.6h0.55M108.9 343.4h0.55M106.2 345.6h0.55M107.7 342.8h0.55M104.9 345.4h0.55M106.9 340.9h0.55M105.6 338.8h0.55M106.7 341.5h0.55M108.0 343.8h0.55M106.1 338.2h0.55M105.9 343.7h0.55M102.4 341.1h0.55M101.5 338.3h0.55M104.8 343.8h0.55M106.1 347.4h0.55M105.2 338.5h0.55M106.2 350.5h0.55M105.4 343.2h0.55M105.1 340.3h0.55M104.6 343.9h0.55M105.9 337.2h0.55M107.9 343.5h0.55M105.5 343.1h0.55M102.1 335.3h0.55M104.0 336.4h0.55M104.0 339.1h0.55M106.4 341.3h0.55M108.6 343.6h0.55M99.3 341.6h0.55M104.3 339.7h0.55M104.4 344.4h0.55M111.6 343.9h0.55M104.4 342.5h0.55M107.5 341.1h0.55M109.9 338.9h0.55M105.0 342.0h0.55M105.7 347.3h0.55M106.0 344.2h0.55M106.7 346.1h0.55M104.1 338.1h0.55M106.5 343.4h0.55M104.8 338.8h0.55M104.4 344.3h0.55M109.8 343.8h0.55M102.4 343.8h0.55M108.5 346.6h0.55M105.7 341.5h0.55M106.0 346.4h0.55M104.5 343.1h0.55M106.5 340.7h0.55M107.6 341.8h0.55M103.5 345.1h0.55M107.5 341.0h0.55M100.9 345.0h0.55M104.0 343.5h0.55M102.8 340.8h0.55M105.4 334.8h0.55M107.6 342.7h0.55M104.2 345.6h0.55M106.8 341.1h0.55M105.7 345.2h0.55M109.3 340.0h0.55M101.5 346.4h0.55M101.7 348.0h0.55M105.4 343.7h0.55M101.2 344.4h0.55M106.4 338.7h0.55M106.5 347.5h0.55M103.7 340.7h0.55M104.0 344.9h0.55M106.6 349.4h0.55M107.0 344.2h0.55M105.4 343.9h0.55M107.5 344.5h0.55M104.4 341.1h0.55M106.6 341.1h0.55M108.8 346.7h0.55M108.5 340.7h0.55M103.6 341.9h0.55M104.0 338.7h0.55M104.0 343.6h0.55M106.5 339.8h0.55M107.1 342.4h0.55M103.0 342.1h0.55M103.0 342.8h0.55M106.5 340.8h0.55M100.2 342.0h0.55M108.3 346.5h0.55M105.9 345.9h0.55M103.9 344.8h0.55M108.4 344.6h0.55M105.9 337.9h0.55M104.4 342.3h0.55M111.5 343.9h0.55M106.0 343.8h0.55M106.2 344.7h0.55M106.9 339.0h0.55M105.8 344.3h0.55M107.4 341.3h0.55M104.9 343.9h0.55M108.2 348.2h0.55M106.5 344.7h0.55M106.4 342.8h0.55M108.6 340.3h0.55M103.2 345.9h0.55M106.1 336.9h0.55M107.7 340.5h0.55M108.5 335.4h0.55M105.5 342.4h0.55M104.6 340.4h0.55M108.3 341.2h0.55M101.7 339.7h0.55M108.8 349.0h0.55M101.7 345.4h0.55M103.5 345.2h0.55M108.4 340.8h0.55M106.0 345.3h0.55M103.9 342.8h0.55M109.1 341.8h0.55M106.9 338.1h0.55M104.7 343.2h0.55M107.6 334.9h0.55M107.0 340.5h0.55M105.6 335.8h0.55M108.0 344.0h0.55M107.3 344.6h0.55M102.7 345.5h0.55M106.7 338.6h0.55M106.9 346.1h0.55M107.3 349.0h0.55M103.9 341.2h0.55M108.6 340.0h0.55M102.4 340.9h0.55M104.9 341.0h0.55M105.4 345.5h0.55M106.3 341.0h0.55M105.7 344.1h0.55M106.6 342.7h0.55M107.4 339.9h0.55M111.0 342.9h0.55M105.2 342.9h0.55M107.8 343.3h0.55M105.6 343.7h0.55M106.0 341.8h0.55M104.2 344.1h0.55M105.0 337.4h0.55M109.4 341.2h0.55M106.0 346.8h0.55M106.9 343.8h0.55M103.2 341.9h0.55M107.5 340.4h0.55M107.4 340.9h0.55M107.1 342.3h0.55M108.9 337.1h0.55M106.3 341.6h0.55M104.7 342.1h0.55M107.4 336.1h0.55M107.3 337.3h0.55M110.5 342.4h0.55M105.2 341.7h0.55M106.5 348.4h0.55M109.6 349.0h0.55M106.0 333.5h0.55M111.9 340.6h0.55M111.7 346.4h0.55M106.5 343.8h0.55M108.0 347.2h0.55M108.6 346.6h0.55M104.8 342.4h0.55M104.2 346.3h0.55M109.3 342.6h0.55M108.7 338.9h0.55M105.3 343.2h0.55M104.7 346.8h0.55M103.3 345.4h0.55M102.7 341.6h0.55M108.4 347.3h0.55M107.2 347.0h0.55M105.9 347.1h0.55M102.8 337.0h0.55M104.1 340.3h0.55M106.6 340.9h0.55M103.1 340.7h0.55M106.4 336.3h0.55M104.8 341.1h0.55M100.0 346.4h0.55M107.5 339.7h0.55M104.3 349.6h0.55M100.9 339.7h0.55M105.5 344.0h0.55M102.5 342.2h0.55M108.2 339.1h0.55M105.1 343.6h0.55M105.8 343.3h0.55M108.7 342.6h0.55M101.8 346.5h0.55M106.4 345.3h0.55M108.5 338.0h0.55M107.4 346.9h0.55M103.6 340.1h0.55M107.1 337.0h0.55M110.4 345.4h0.55M103.8 346.4h0.55M104.7 340.1h0.55M107.7 343.0h0.55M106.1 340.7h0.55M105.6 344.8h0.55M110.4 341.3h0.55M104.5 343.6h0.55M108.4 339.0h0.55M103.0 344.6h0.55M99.0 343.0h0.55M106.0 350.8h0.55M108.0 347.0h0.55M105.0 341.1h0.55M110.3 339.0h0.55M106.3 345.1h0.55M107.7 340.2h0.55M106.9 345.2h0.55M103.6 346.1h0.55M109.3 347.5h0.55M109.7 347.6h0.55M109.6 346.6h0.55M109.2 342.8h0.55M109.5 342.8h0.55M108.5 343.5h0.55M109.4 347.9h0.55M107.0 341.7h0.55M104.4 342.9h0.55M107.5 345.5h0.55M108.6 339.1h0.55M104.4 341.7h0.55M106.1 343.0h0.55M109.1 341.6h0.55M105.3 341.2h0.55M112.7 344.1h0.55M107.8 340.0h0.55M109.5 344.6h0.55M108.5 341.9h0.55M109.1 337.9h0.55M106.8 334.2h0.55M104.5 339.6h0.55M103.0 344.2h0.55M102.5 342.2h0.55M104.2 341.0h0.55M101.5 342.6h0.55M105.5 344.0h0.55M103.8 342.0h0.55M104.6 339.7h0.55M104.2 346.9h0.55M108.1 342.6h0.55M104.6 344.2h0.55M104.2 340.9h0.55M110.2 343.3h0.55M105.4 346.0h0.55M109.8 340.0h0.55M105.2 342.2h0.55M105.7 341.7h0.55M106.8 339.3h0.55M102.7 348.1h0.55M110.0 339.1h0.55M110.5 344.3h0.55M105.1 340.6h0.55M109.0 342.3h0.55M106.8 341.3h0.55M105.0 340.7h0.55M110.3 342.5h0.55M103.7 335.6h0.55M106.1 339.9h0.55M108.7 343.3h0.55M105.6 347.7h0.55M107.4 342.7h0.55M103.0 339.9h0.55M105.7 345.4h0.55M106.5 344.0h0.55M103.0 339.1h0.55M104.1 340.4h0.55M104.6 338.9h0.55M105.5 346.0h0.55M106.7 339.1h0.55M105.4 338.9h0.55M102.1 343.1h0.55M106.3 345.5h0.55M109.4 340.7h0.55M106.2 344.8h0.55M105.2 338.4h0.55M106.2 344.8h0.55M107.7 343.0h0.55M102.8 342.6h0.55M110.2 335.8h0.55M105.5 345.5h0.55M111.0 342.6h0.55M104.5 343.1h0.55M103.7 339.2h0.55M106.7 346.8h0.55M108.7 341.2h0.55M107.4 343.7h0.55M106.7 342.0h0.55M107.0 341.6h0.55M106.8 344.6h0.55M109.0 344.1h0.55M106.1 346.5h0.55M107.9 341.0h0.55M104.9 345.0h0.55M105.8 339.6h0.55M104.4 342.9h0.55M105.5 337.4h0.55M105.0 342.6h0.55M102.5 342.1h0.55M108.7 340.5h0.55M107.2 340.5h0.55M107.6 342.0h0.55M112.0 346.1h0.55M101.2 342.3h0.55M107.3 342.8h0.55M106.6 343.9h0.55M109.0 346.9h0.55M104.8 346.1h0.55M105.0 344.3h0.55M103.6 337.5h0.55M108.0 344.7h0.55M110.9 340.8h0.55M104.4 344.2h0.55M106.6 340.4h0.55M106.9 344.5h0.55M104.6 341.5h0.55M101.4 341.4h0.55M108.5 343.5h0.55M102.1 338.4h0.55M108.9 346.3h0.55M103.0 342.7h0.55M108.6 342.4h0.55M109.5 339.9h0.55M105.0 344.9h0.55M103.3 339.5h0.55M105.8 346.1h0.55M106.2 340.2h0.55M103.3 343.0h0.55M105.5 340.5h0.55M108.4 342.9h0.55M107.7 345.2h0.55M109.1 340.9h0.55M102.5 339.2h0.55M104.0 342.0h0.55M105.9 340.3h0.55M105.8 343.4h0.55M108.3 339.0h0.55M103.0 341.1h0.55M110.1 345.0h0.55M108.9 343.2h0.55M108.0 339.6h0.55M105.4 341.8h0.55M102.3 343.3h0.55M102.7 345.0h0.55M108.5 339.8h0.55M105.7 343.2h0.55M110.7 339.9h0.55M106.9 337.9h0.55M102.8 345.9h0.55M109.1 344.6h0.55M105.6 344.8h0.55M106.4 345.5h0.55M107.9 342.0h0.55M102.6 346.8h0.55M103.2 345.4h0.55M109.7 340.6h0.55M102.6 341.5h0.55M103.2 337.8h0.55M102.9 336.6h0.55M103.0 344.8h0.55M105.0 344.5h0.55M104.8 340.2h0.55M103.4 344.7h0.55M104.6 342.7h0.55M106.9 338.3h0.55M100.7 344.6h0.55M105.0 344.3h0.55M105.6 344.5h0.55M101.6 340.5h0.55M109.0 338.4h0.55M106.5 344.0h0.55M105.6 346.3h0.55M107.4 353.2h0.55M106.8 336.5h0.55M105.3 341.5h0.55M105.4 345.8h0.55M103.0 344.6h0.55M107.0 346.1h0.55M106.5 338.9h0.55M103.4 339.0h0.55M107.6 345.0h0.55M109.8 336.5h0.55M102.9 341.2h0.55M110.5 337.9h0.55M109.1 343.2h0.55M108.6 342.0h0.55M105.7 347.5h0.55M110.4 342.0h0.55M105.4 347.0h0.55M107.7 343.8h0.55M104.8 341.8h0.55M102.9 338.3h0.55M107.7 344.6h0.55M109.6 341.0h0.55M102.9 348.4h0.55M106.0 342.6h0.55M104.5 344.5h0.55M103.7 345.0h0.55M105.2 335.1h0.55M108.6 340.9h0.55M109.7 343.4h0.55M107.3 344.4h0.55M106.4 342.7h0.55M107.9 347.5h0.55M103.9 346.0h0.55M106.7 345.8h0.55M104.9 347.0h0.55M106.8 338.6h0.55M101.9 345.9h0.55M107.4 342.4h0.55M105.5 338.6h0.55M106.7 345.3h0.55M106.8 347.4h0.55M109.6 346.1h0.55M105.4 344.9h0.55M102.3 341.8h0.55M108.8 349.1h0.55M108.3 344.9h0.55M104.8 341.9h0.55M108.8 339.7h0.55M108.8 342.9h0.55M103.2 337.8h0.55M103.9 346.0h0.55M103.1 346.2h0.55M110.1 342.1h0.55M101.7 338.3h0.55M103.7 340.9h0.55M107.1 348.4h0.55M109.0 348.0h0.55M109.0 345.1h0.55M107.1 348.0h0.55M107.8 346.1h0.55M108.9 341.6h0.55M107.3 340.9h0.55M105.6 345.2h0.55M106.8 346.7h0.55M107.7 336.4h0.55M107.8 343.1h0.55M109.1 341.7h0.55M103.2 339.0h0.55M111.5 342.0h0.55M116.4 338.3h0.55M118.1 339.8h0.55M117.2 339.7h0.55M120.5 339.9h0.55M113.4 338.0h0.55M108.3 342.3h0.55M130.6 338.1h0.55M131.2 342.0h0.55M107.7 341.3h0.55M109.0 341.1h0.55M107.2 340.3h0.55M116.6 339.9h0.55M115.9 339.5h0.55M110.3 342.8h0.55M117.1 340.0h0.55M117.8 339.5h0.55M119.4 342.0h0.55M115.8 343.8h0.55M112.8 338.8h0.55M116.5 340.5h0.55M102.0 340.5h0.55M114.1 339.1h0.55M103.3 338.9h0.55M117.7 341.4h0.55M119.2 340.5h0.55M115.8 341.7h0.55M114.2 338.5h0.55M129.5 338.8h0.55M126.0 339.4h0.55M124.5 340.4h0.55M116.8 341.0h0.55M122.6 340.0h0.55M115.0 337.6h0.55M122.2 339.4h0.55M103.5 343.0h0.55M120.1 339.5h0.55M104.7 341.1h0.55M116.2 339.9h0.55M117.9 341.1h0.55M126.1 341.8h0.55M115.2 337.9h0.55M111.7 340.2h0.55M120.2 342.7h0.55M121.6 339.4h0.55M118.6 339.5h0.55M113.7 340.8h0.55M120.1 341.4h0.55M108.5 338.4h0.55M116.5 342.1h0.55M111.8 340.6h0.55M121.9 340.8h0.55M110.2 341.1h0.55M125.6 340.4h0.55M127.6 342.2h0.55M116.4 340.5h0.55M107.2 341.3h0.55M119.4 340.6h0.55M113.5 341.1h0.55M116.9 340.9h0.55M119.8 338.9h0.55M119.8 341.9h0.55M118.4 339.0h0.55M104.2 341.6h0.55M116.4 341.2h0.55M110.5 339.2h0.55M118.7 340.8h0.55M97.1 340.2h0.55M109.2 341.0h0.55M111.6 339.4h0.55M104.3 342.3h0.55M117.7 341.0h0.55M120.6 342.3h0.55M121.1 339.9h0.55M114.3 339.7h0.55M111.7 341.3h0.55M124.1 338.7h0.55M111.2 339.8h0.55M127.7 342.9h0.55M121.5 339.9h0.55M113.3 340.9h0.55M125.9 338.7h0.55M124.7 342.2h0.55M102.6 339.0h0.55M116.8 339.0h0.55M114.0 341.1h0.55M114.7 339.2h0.55M128.7 337.8h0.55M125.0 339.1h0.55M131.9 341.1h0.55M123.5 340.0h0.55M116.4 341.4h0.55M111.1 341.8h0.55M120.1 341.5h0.55M121.2 342.8h0.55M115.2 340.9h0.55M113.5 342.6h0.55M122.2 340.3h0.55M117.3 342.7h0.55M130.3 342.1h0.55M112.9 342.3h0.55M121.1 345.3h0.55M118.9 341.3h0.55M133.4 341.7h0.55M115.1 342.2h0.55M112.7 342.2h0.55M118.5 341.8h0.55M114.9 341.9h0.55M126.4 340.8h0.55M123.1 339.9h0.55M119.8 338.8h0.55M116.6 340.9h0.55M100.1 339.8h0.55M108.2 338.6h0.55M113.0 343.1h0.55M109.2 342.4h0.55M121.8 341.1h0.55M128.6 339.0h0.55M112.3 340.7h0.55M109.0 340.9h0.55M117.4 340.1h0.55M128.5 343.0h0.55M115.0 342.3h0.55M110.5 339.1h0.55M119.4 341.4h0.55M107.0 338.3h0.55M108.6 341.5h0.55M118.3 341.8h0.55M108.0 342.9h0.55M115.5 337.1h0.55M114.7 343.1h0.55M108.0 339.4h0.55M120.1 341.9h0.55M130.6 339.4h0.55M120.2 340.9h0.55M111.1 341.6h0.55M113.2 340.5h0.55M120.5 341.6h0.55M114.0 340.1h0.55M112.5 339.8h0.55M111.0 339.6h0.55M116.8 338.6h0.55M117.6 340.8h0.55M114.5 339.9h0.55M120.4 343.1h0.55M121.9 340.1h0.55M126.4 342.6h0.55M118.5 336.8h0.55M119.1 341.5h0.55M119.7 341.3h0.55M113.8 342.5h0.55M122.3 343.5h0.55M103.6 341.5h0.55M120.5 343.3h0.55M112.6 340.3h0.55M117.9 340.0h0.55M125.9 342.4h0.55M124.7 341.3h0.55M129.5 342.5h0.55M96.9 339.5h0.55M122.7 340.4h0.55M114.9 341.2h0.55M125.3 340.8h0.55M111.8 342.2h0.55M120.0 345.2h0.55M111.6 340.6h0.55M113.6 343.0h0.55M106.5 340.5h0.55M117.0 338.6h0.55M112.5 338.6h0.55M112.9 339.4h0.55M128.8 337.7h0.55M110.4 340.5h0.55M124.2 341.8h0.55M114.5 337.4h0.55M114.5 340.2h0.55M117.7 338.9h0.55M113.3 342.7h0.55M134.9 342.7h0.55M110.0 341.3h0.55M114.0 340.9h0.55M117.0 340.2h0.55M124.1 340.6h0.55M121.2 343.2h0.55M120.2 341.8h0.55M114.1 341.2h0.55M117.4 343.6h0.55M125.1 341.1h0.55M126.4 341.3h0.55M110.0 340.1h0.55M100.5 338.4h0.55M123.9 340.9h0.55M117.8 340.2h0.55M119.2 342.1h0.55M109.4 338.7h0.55M119.3 338.8h0.55M120.0 340.8h0.55M126.8 339.6h0.55M133.3 339.9h0.55M118.4 340.8h0.55M118.3 339.2h0.55M117.0 340.5h0.55M118.2 343.5h0.55M100.4 340.9h0.55M113.6 340.2h0.55M113.6 341.0h0.55M128.7 339.6h0.55M122.5 341.4h0.55M111.9 342.1h0.55M112.7 339.9h0.55M111.4 340.0h0.55M107.3 341.5h0.55M120.5 338.2h0.55M122.8 342.7h0.55M113.8 339.6h0.55M102.3 337.9h0.55M116.3 340.8h0.55M122.4 339.1h0.55M114.3 338.6h0.55M107.7 339.2h0.55M114.7 340.7h0.55M132.2 341.4h0.55M118.5 337.9h0.55M120.9 340.6h0.55M111.0 339.2h0.55M117.7 340.3h0.55M109.2 341.6h0.55M119.8 341.1h0.55M104.2 342.4h0.55M104.9 339.2h0.55M130.0 340.8h0.55M113.5 341.3h0.55M122.5 339.8h0.55M112.4 339.4h0.55M122.7 338.4h0.55M108.6 338.5h0.55M108.1 343.5h0.55M124.6 339.7h0.55M120.6 340.8h0.55M100.8 341.0h0.55M110.0 340.1h0.55M116.6 340.9h0.55M127.7 341.4h0.55M117.5 339.6h0.55M116.6 342.5h0.55M107.0 341.0h0.55M125.5 340.1h0.55M122.8 340.3h0.55M102.8 342.5h0.55M118.4 343.1h0.55M115.7 341.4h0.55M109.9 339.9h0.55M117.8 339.2h0.55M105.3 340.7h0.55M119.3 341.4h0.55M107.0 343.7h0.55M113.6 339.4h0.55M109.8 339.1h0.55M108.7 337.6h0.55M124.1 338.7h0.55M116.4 341.6h0.55M125.0 341.5h0.55M115.0 343.4h0.55M118.4 342.1h0.55M125.8 340.5h0.55M114.8 341.7h0.55M112.6 342.9h0.55M109.4 338.3h0.55M112.0 337.8h0.55M122.1 341.2h0.55M118.5 341.5h0.55M115.3 337.9h0.55M118.0 340.1h0.55M121.5 338.9h0.55M121.5 341.2h0.55M109.2 342.8h0.55M109.5 342.1h0.55M128.1 342.6h0.55M115.9 340.1h0.55M120.9 339.7h0.55M112.1 342.3h0.55M107.2 339.8h0.55M110.2 340.9h0.55M123.1 341.7h0.55M112.6 339.1h0.55M123.2 337.5h0.55M119.4 342.6h0.55M107.0 340.6h0.55M109.9 342.0h0.55M117.4 341.5h0.55M126.8 338.3h0.55M121.2 341.2h0.55M100.2 339.9h0.55M119.6 340.4h0.55M114.1 339.9h0.55M117.3 340.7h0.55M122.0 341.2h0.55M108.7 339.6h0.55M123.3 341.8h0.55M114.5 343.7h0.55M108.8 340.5h0.55M119.8 343.0h0.55M109.3 340.6h0.55M109.5 340.2h0.55M110.5 339.4h0.55M119.6 342.7h0.55M123.1 340.6h0.55M112.4 339.6h0.55M129.7 342.4h0.55M114.8 340.3h0.55M119.6 341.2h0.55M118.1 338.1h0.55M115.7 339.5h0.55M107.7 340.2h0.55M116.7 341.7h0.55M111.6 341.6h0.55M110.2 341.1h0.55M108.3 339.9h0.55M117.6 342.8h0.55M112.5 340.4h0.55M116.3 340.4h0.55M111.5 338.6h0.55M106.5 342.0h0.55M108.2 342.2h0.55M124.5 342.6h0.55M119.9 339.7h0.55M117.8 342.8h0.55M101.0 365.9h0.55M106.4 359.8h0.55M104.7 366.7h0.55M107.4 376.7h0.55M103.5 374.7h0.55M112.1 373.2h0.55M104.9 367.2h0.55M104.4 365.0h0.55M103.6 377.7h0.55M102.0 366.9h0.55M103.7 373.1h0.55M107.7 370.6h0.55M102.4 375.8h0.55M104.8 374.0h0.55M105.7 370.6h0.55M104.9 364.2h0.55M110.9 378.5h0.55M109.8 353.9h0.55M107.4 376.0h0.55M103.7 368.1h0.55M106.0 369.2h0.55M100.9 365.0h0.55M101.3 371.9h0.55M103.7 366.3h0.55M105.6 365.7h0.55M106.9 372.1h0.55M104.9 378.5h0.55M102.1 374.2h0.55M105.4 374.7h0.55M105.5 363.8h0.55M107.3 374.4h0.55M108.2 370.6h0.55M107.3 374.1h0.55M109.1 370.9h0.55M107.2 365.2h0.55M106.0 372.9h0.55M108.4 362.3h0.55M106.9 376.5h0.55M101.9 382.7h0.55M107.8 378.1h0.55M107.5 361.3h0.55M103.5 367.0h0.55M108.2 373.3h0.55M102.9 369.4h0.55M111.1 370.9h0.55M100.2 373.9h0.55M106.9 364.6h0.55M104.2 373.9h0.55M105.1 375.3h0.55M107.6 376.5h0.55M107.7 364.6h0.55M108.2 373.7h0.55M109.1 372.4h0.55M103.3 376.7h0.55M105.5 361.2h0.55M105.2 365.4h0.55M106.1 366.1h0.55M100.8 375.6h0.55M108.8 365.5h0.55M107.3 360.3h0.55M108.0 365.7h0.55M107.2 375.5h0.55M103.7 380.2h0.55M104.3 376.0h0.55M101.9 362.8h0.55M103.8 373.4h0.55M105.1 371.9h0.55M106.2 375.8h0.55M104.3 370.9h0.55M110.5 374.4h0.55M104.4 364.9h0.55M106.4 370.4h0.55M106.5 368.1h0.55M102.1 379.9h0.55M106.7 358.3h0.55M101.3 362.1h0.55M104.5 373.3h0.55M104.1 369.0h0.55M107.1 373.9h0.55M109.2 371.7h0.55M106.5 367.2h0.55M107.7 373.5h0.55M104.5 376.2h0.55M103.7 370.1h0.55M106.2 371.7h0.55M103.4 373.2h0.55M106.4 354.5h0.55M108.5 358.0h0.55M109.2 375.8h0.55M109.5 376.0h0.55M103.3 373.5h0.55M107.6 372.6h0.55M106.6 374.9h0.55M105.5 367.5h0.55M103.6 368.2h0.55M106.5 374.9h0.55M109.2 365.0h0.55M106.4 372.1h0.55M105.8 374.7h0.55M109.9 367.0h0.55M105.8 380.4h0.55M106.3 375.3h0.55M110.3 372.6h0.55M111.0 367.6h0.55M106.4 379.1h0.55M105.8 368.2h0.55M105.0 382.1h0.55M105.0 370.7h0.55M108.3 379.1h0.55M104.2 376.5h0.55M105.8 372.7h0.55M107.0 378.6h0.55M106.5 371.8h0.55M104.3 375.6h0.55M103.1 365.7h0.55M101.8 370.0h0.55M106.4 375.1h0.55M106.8 373.5h0.55M106.1 371.9h0.55M107.7 367.4h0.55M105.3 367.7h0.55M105.4 375.1h0.55M100.5 372.3h0.55M110.0 375.8h0.55M103.3 370.7h0.55M108.1 369.8h0.55M109.9 367.6h0.55M106.5 377.8h0.55M107.5 369.9h0.55M106.3 367.4h0.55M107.5 379.3h0.55M105.7 368.3h0.55M102.5 376.7h0.55M105.6 380.0h0.55M101.8 380.8h0.55M107.1 361.4h0.55M106.4 369.1h0.55M108.5 374.2h0.55M104.3 371.7h0.55M102.8 368.7h0.55M106.6 382.3h0.55M105.1 367.3h0.55M105.0 362.3h0.55M103.5 368.7h0.55M104.0 365.5h0.55M107.6 370.3h0.55M105.6 368.2h0.55M106.4 367.6h0.55M110.6 361.5h0.55M106.1 370.3h0.55M108.7 365.1h0.55M104.1 367.8h0.55M103.8 365.5h0.55M106.4 375.9h0.55M106.9 367.6h0.55M106.3 364.5h0.55M110.5 375.1h0.55M102.7 370.9h0.55M107.1 362.3h0.55M107.8 357.2h0.55M104.8 374.6h0.55M103.8 369.1h0.55M105.3 379.0h0.55M105.6 369.6h0.55M102.6 377.5h0.55M107.4 365.5h0.55M103.8 376.2h0.55M102.2 363.3h0.55M106.8 356.8h0.55M105.8 364.9h0.55M102.6 366.1h0.55M104.6 379.9h0.55M104.2 370.2h0.55M103.7 375.3h0.55M102.8 375.4h0.55M105.6 359.0h0.55M107.0 376.7h0.55M104.4 369.1h0.55M107.9 374.8h0.55M106.5 373.9h0.55M109.1 369.1h0.55M106.6 375.5h0.55M104.6 364.8h0.55M106.5 363.0h0.55M106.2 377.8h0.55M102.7 367.6h0.55M103.8 371.2h0.55M107.2 374.5h0.55M104.0 377.9h0.55M107.7 367.2h0.55M102.5 367.5h0.55M106.2 379.0h0.55M104.8 369.2h0.55M103.3 375.0h0.55M104.5 373.7h0.55M104.2 371.0h0.55M110.5 373.6h0.55M107.7 372.3h0.55M105.0 369.6h0.55M106.0 377.9h0.55M105.4 368.5h0.55M108.0 369.2h0.55M106.6 364.4h0.55M105.5 371.6h0.55M104.2 366.5h0.55M105.1 372.2h0.55M104.5 367.2h0.55M103.3 364.3h0.55M104.5 366.8h0.55M104.2 372.6h0.55M103.0 375.0h0.55M103.7 373.5h0.55M107.8 371.3h0.55M108.2 376.0h0.55M106.2 373.9h0.55M104.6 373.7h0.55M106.0 371.8h0.55M108.1 374.9h0.55M104.3 372.1h0.55M103.1 373.5h0.55M103.6 369.8h0.55M105.5 363.6h0.55M106.8 380.0h0.55M109.1 362.3h0.55M101.3 366.2h0.55M104.3 376.5h0.55M106.1 379.7h0.55M102.7 372.4h0.55M104.4 368.6h0.55M101.8 371.1h0.55M104.9 371.9h0.55M107.9 370.0h0.55M109.9 365.8h0.55M104.3 371.2h0.55M105.6 368.0h0.55M108.9 373.0h0.55M107.8 371.4h0.55M107.3 367.7h0.55M107.3 380.5h0.55M105.4 364.9h0.55M103.6 365.6h0.55M105.0 380.5h0.55M107.7 373.5h0.55M105.9 372.7h0.55M107.7 366.8h0.55M107.5 361.3h0.55M106.6 368.1h0.55M107.2 353.8h0.55M102.4 379.8h0.55M104.6 372.7h0.55M107.0 363.0h0.55M104.8 365.8h0.55M103.2 376.9h0.55M105.8 368.8h0.55M103.1 379.7h0.55M108.4 374.2h0.55M107.1 372.4h0.55M105.4 380.7h0.55M107.1 376.6h0.55M104.9 374.3h0.55M109.0 366.7h0.55M109.0 372.3h0.55M106.0 368.5h0.55M106.3 373.0h0.55M104.3 373.4h0.55M105.2 374.8h0.55M107.2 380.3h0.55M105.8 373.8h0.55M105.2 376.7h0.55M110.6 373.8h0.55M103.7 373.6h0.55M104.6 378.6h0.55M103.1 360.1h0.55M101.5 354.2h0.55M106.4 372.2h0.55M106.7 364.0h0.55M103.9 362.2h0.55M103.0 375.7h0.55M107.2 368.6h0.55M104.0 371.1h0.55M110.2 373.1h0.55M109.3 366.6h0.55M107.0 375.5h0.55M105.4 369.7h0.55M107.3 367.7h0.55M102.1 368.7h0.55M107.8 379.4h0.55M109.7 371.1h0.55M102.2 374.8h0.55M105.1 367.8h0.55M107.8 369.3h0.55M106.0 364.9h0.55M105.1 374.2h0.55M109.3 371.8h0.55M106.7 369.6h0.55M108.2 381.3h0.55M104.9 370.0h0.55M106.1 376.0h0.55M103.0 379.7h0.55M102.0 369.0h0.55M103.7 377.8h0.55M106.9 374.4h0.55M108.4 376.2h0.55M108.7 366.8h0.55M104.3 364.5h0.55M102.7 378.8h0.55M106.6 361.9h0.55M106.8 367.1h0.55M104.6 371.6h0.55M106.2 373.9h0.55M107.0 372.1h0.55M107.1 368.2h0.55M105.0 369.7h0.55M104.4 374.2h0.55M113.1 362.3h0.55M107.3 372.8h0.55M103.7 352.7h0.55M106.9 371.3h0.55M107.4 374.3h0.55M107.7 365.1h0.55M102.2 367.7h0.55M105.2 376.3h0.55M107.1 380.4h0.55M108.2 363.9h0.55M109.1 373.4h0.55M106.4 374.4h0.55M103.9 364.3h0.55M111.0 372.5h0.55M103.5 375.9h0.55M106.1 378.4h0.55M108.8 376.7h0.55M105.8 381.9h0.55M107.4 365.5h0.55M107.9 373.4h0.55M109.2 362.1h0.55M106.7 367.9h0.55M102.7 366.3h0.55M108.5 374.6h0.55M106.7 362.8h0.55M106.8 375.1h0.55M104.8 368.8h0.55M104.2 377.5h0.55M107.7 376.2h0.55M104.0 366.2h0.55M108.0 366.6h0.55M105.2 360.5h0.55M104.9 364.8h0.55M103.6 374.8h0.55M104.9 378.2h0.55M106.4 374.5h0.55M106.3 366.7h0.55M106.6 373.7h0.55M107.7 362.3h0.55M105.2 365.1h0.55M106.2 375.8h0.55M104.6 375.1h0.55M108.3 371.5h0.55M108.7 372.2h0.55M107.5 366.8h0.55M110.2 380.8h0.55M104.8 379.0h0.55M104.5 365.8h0.55M106.0 378.4h0.55M111.9 355.6h0.55M107.7 377.0h0.55M107.5 379.8h0.55M106.3 370.8h0.55M108.8 373.8h0.55M107.5 365.1h0.55M109.3 369.1h0.55M108.2 382.5h0.55M110.0 378.7h0.55M102.1 377.2h0.55M105.5 369.4h0.55M106.4 367.4h0.55M102.9 375.3h0.55M104.9 366.0h0.55M108.8 368.4h0.55M107.7 373.1h0.55M104.1 363.9h0.55M109.5 373.9h0.55M105.0 366.8h0.55M108.3 376.7h0.55M105.3 376.9h0.55M108.9 366.3h0.55M105.5 364.5h0.55M105.7 364.5h0.55M107.0 369.0h0.55M110.8 378.9h0.55M104.5 372.7h0.55M108.9 377.8h0.55M107.2 377.7h0.55M107.5 364.0h0.55M108.2 363.7h0.55M108.7 375.7h0.55M106.1 371.0h0.55M105.7 375.4h0.55M104.9 377.5h0.55M108.4 376.9h0.55M109.4 376.5h0.55M109.2 373.8h0.55M107.5 371.8h0.55M105.0 375.3h0.55M107.6 378.5h0.55M105.6 382.4h0.55M104.9 374.9h0.55M104.7 374.7h0.55M103.4 369.4h0.55M107.1 363.4h0.55M106.3 371.2h0.55M109.6 373.3h0.55M105.9 365.3h0.55M112.8 380.2h0.55M107.2 377.1h0.55M105.5 377.3h0.55M108.3 369.9h0.55M105.6 381.3h0.55M104.4 365.0h0.55M112.1 374.8h0.55M107.9 377.0h0.55M107.5 362.9h0.55M105.1 377.2h0.55M104.9 371.6h0.55M105.7 371.1h0.55M107.2 370.2h0.55M107.1 370.5h0.55M102.3 370.3h0.55M109.4 372.3h0.55M107.9 378.4h0.55M109.0 368.9h0.55M105.7 368.0h0.55M105.0 372.3h0.55M106.2 373.8h0.55M101.9 370.3h0.55M108.4 368.9h0.55M105.0 353.9h0.55M99.9 380.4h0.55M107.6 365.4h0.55M104.0 365.5h0.55M108.7 360.6h0.55M101.8 371.5h0.55M105.0 365.6h0.55M102.7 369.9h0.55M107.4 379.3h0.55M103.3 380.2h0.55M103.2 377.6h0.55M104.3 373.2h0.55M104.2 375.4h0.55M108.8 370.9h0.55M105.1 374.1h0.55M105.1 371.2h0.55M106.3 363.8h0.55M106.4 382.2h0.55M106.4 367.5h0.55M105.0 364.9h0.55M105.2 371.1h0.55M105.1 380.8h0.55M106.1 372.6h0.55M105.9 367.1h0.55M109.1 370.1h0.55M103.1 363.6h0.55M106.1 365.3h0.55M106.5 361.2h0.55M108.4 373.6h0.55M107.4 369.3h0.55M107.1 374.2h0.55M110.8 374.9h0.55M108.6 369.7h0.55M104.3 377.0h0.55M107.1 371.7h0.55M104.1 371.3h0.55M106.4 377.3h0.55M104.9 374.2h0.55M104.9 360.6h0.55M104.0 356.0h0.55M106.2 379.4h0.55M107.0 368.2h0.55M107.3 367.7h0.55M106.5 374.7h0.55M105.9 379.4h0.55M106.8 370.0h0.55M108.9 376.9h0.55M104.0 363.8h0.55M102.5 361.7h0.55M105.6 357.8h0.55M105.3 374.7h0.55M108.6 368.6h0.55M108.8 371.4h0.55M109.5 379.1h0.55M102.9 362.1h0.55M109.8 372.2h0.55M107.9 358.7h0.55M109.9 378.9h0.55M106.2 371.2h0.55M109.4 367.5h0.55M107.4 378.9h0.55M102.9 377.6h0.55M108.0 357.9h0.55M103.9 371.1h0.55M105.7 373.2h0.55M101.5 362.4h0.55M104.7 369.9h0.55M107.9 365.7h0.55M105.5 371.2h0.55M101.9 378.0h0.55M103.5 380.9h0.55M109.3 370.8h0.55M105.5 371.5h0.55M107.8 366.6h0.55M110.8 370.0h0.55M107.2 382.0h0.55M107.0 371.4h0.55M110.4 363.5h0.55M101.4 367.9h0.55M107.3 370.6h0.55M107.2 374.8h0.55M108.0 365.5h0.55M107.6 378.1h0.55M105.5 374.7h0.55M104.0 369.2h0.55M109.8 374.2h0.55M108.3 381.3h0.55M102.3 365.7h0.55M104.2 370.4h0.55M108.3 375.4h0.55M107.7 372.5h0.55M105.5 365.2h0.55M105.7 369.3h0.55M105.8 379.5h0.55M107.3 373.0h0.55M105.5 369.0h0.55M105.9 368.6h0.55M103.6 367.3h0.55M109.1 365.8h0.55M104.1 380.5h0.55M105.6 370.2h0.55M106.2 378.2h0.55M105.4 371.0h0.55M103.1 375.3h0.55M104.3 373.3h0.55M105.3 377.3h0.55M100.9 382.4h0.55M106.6 372.8h0.55M112.0 363.4h0.55M104.4 375.7h0.55M106.4 375.9h0.55M104.6 371.2h0.55M103.3 373.1h0.55M105.8 361.2h0.55M104.6 366.8h0.55M104.7 375.4h0.55M107.8 381.2h0.55M107.2 371.0h0.55M109.1 368.6h0.55M107.3 366.4h0.55M108.0 366.2h0.55M106.0 368.1h0.55M108.0 363.9h0.55M109.7 379.3h0.55M104.9 360.3h0.55M106.8 381.0h0.55M103.5 378.2h0.55M105.5 368.5h0.55M105.9 373.7h0.55M107.4 369.7h0.55M105.1 381.1h0.55M109.6 377.3h0.55M109.8 377.1h0.55M108.1 365.9h0.55M111.4 378.0h0.55M104.0 368.5h0.55M101.7 377.2h0.55M105.0 382.1h0.55M104.0 370.3h0.55M103.9 365.9h0.55M104.9 370.6h0.55M107.4 382.6h0.55M109.1 364.8h0.55M105.4 371.9h0.55M108.2 370.7h0.55M106.1 380.6h0.55M106.5 366.5h0.55M109.6 368.8h0.55M106.2 367.5h0.55M107.0 373.1h0.55M106.6 366.0h0.55M104.0 368.0h0.55M108.3 364.1h0.55M111.9 374.4h0.55M106.3 371.4h0.55M108.6 373.7h0.55M109.6 360.9h0.55M106.9 378.0h0.55M106.8 372.4h0.55M105.6 381.5h0.55M103.2 382.3h0.55M105.2 367.9h0.55M107.8 372.5h0.55M108.2 368.4h0.55M104.1 371.9h0.55M110.2 374.6h0.55M102.3 371.1h0.55M103.7 369.9h0.55M106.7 381.6h0.55M103.6 361.8h0.55M105.4 372.0h0.55M107.5 366.7h0.55M103.8 367.6h0.55M103.2 370.1h0.55M107.8 373.2h0.55M109.9 364.6h0.55M106.1 378.6h0.55M109.1 369.7h0.55M102.1 369.8h0.55M104.4 365.1h0.55M108.9 373.0h0.55M107.7 363.3h0.55M106.0 367.9h0.55M103.5 376.6h0.55M102.0 378.0h0.55M108.2 364.2h0.55M108.4 361.4h0.55M107.5 373.5h0.55M106.0 371.4h0.55M105.0 368.0h0.55M104.6 370.2h0.55M104.7 367.9h0.55M104.2 369.1h0.55M109.4 362.3h0.55M107.1 371.8h0.55M106.3 369.9h0.55M109.5 368.0h0.55M107.7 367.1h0.55M106.5 366.4h0.55M106.8 375.5h0.55M107.6 370.0h0.55M104.6 364.9h0.55M106.6 373.3h0.55M103.8 371.6h0.55M104.8 369.7h0.55M105.9 379.1h0.55M104.7 378.4h0.55M107.1 374.8h0.55M107.1 378.6h0.55M106.6 370.2h0.55M107.5 373.1h0.55M104.9 366.1h0.55M106.2 370.8h0.55M106.5 365.5h0.55M108.8 373.4h0.55M106.8 366.2h0.55M105.9 372.4h0.55M104.6 368.3h0.55M106.5 365.3h0.55M108.5 374.3h0.55M103.1 360.2h0.55M109.3 381.2h0.55M106.4 372.8h0.55M103.5 365.4h0.55M105.7 369.2h0.55M108.5 367.9h0.55M108.6 369.8h0.55M104.3 377.9h0.55M105.6 374.0h0.55M109.8 365.8h0.55M108.1 362.9h0.55M110.6 372.1h0.55M108.8 376.4h0.55M105.6 361.6h0.55M106.9 375.1h0.55M104.8 373.2h0.55M107.0 374.1h0.55M107.9 374.1h0.55M105.1 379.9h0.55M103.3 372.5h0.55M106.6 381.2h0.55M100.7 369.2h0.55M106.0 372.1h0.55M109.7 373.2h0.55M106.2 374.7h0.55M101.9 372.1h0.55M105.9 361.8h0.55M104.8 375.4h0.55M108.2 375.0h0.55M102.1 381.8h0.55M106.5 368.6h0.55M104.6 375.8h0.55M108.6 382.0h0.55M107.2 373.7h0.55M104.2 366.0h0.55M108.1 364.5h0.55M105.5 368.1h0.55M108.9 373.9h0.55M107.5 364.7h0.55M108.2 376.1h0.55M105.6 364.8h0.55M105.4 375.0h0.55M105.1 376.8h0.55M106.6 367.2h0.55M101.0 381.1h0.55M110.0 369.6h0.55M106.4 357.2h0.55M106.4 371.5h0.55M102.6 374.5h0.55M103.2 368.9h0.55M103.5 375.8h0.55M107.8 380.8h0.55M104.2 373.9h0.55M104.1 375.1h0.55M107.9 378.5h0.55M104.2 372.3h0.55M101.7 377.1h0.55M99.6 371.0h0.55M105.9 365.2h0.55M110.2 373.8h0.55M107.6 367.9h0.55M107.4 371.2h0.55M103.5 371.7h0.55M110.1 373.6h0.55M104.6 358.8h0.55M109.0 371.7h0.55M112.0 365.3h0.55M107.8 365.8h0.55M102.6 379.1h0.55M106.6 364.7h0.55M104.6 380.1h0.55M106.0 367.4h0.55M108.4 377.6h0.55M110.4 375.8h0.55M108.8 368.8h0.55M105.9 377.9h0.55M107.3 354.2h0.55M104.5 373.2h0.55M107.0 370.9h0.55M105.6 376.4h0.55M108.5 368.8h0.55M108.4 374.1h0.55M107.0 370.3h0.55M106.3 375.9h0.55M105.5 377.0h0.55M109.4 363.7h0.55M108.7 371.6h0.55M107.7 368.5h0.55M106.4 372.3h0.55M108.3 380.9h0.55M112.1 370.1h0.55M108.2 378.4h0.55M107.6 370.5h0.55M101.9 372.8h0.55M105.0 371.4h0.55M102.0 373.4h0.55M108.6 368.0h0.55M110.4 373.8h0.55M105.9 370.1h0.55M101.3 372.4h0.55M109.3 372.1h0.55M108.5 372.8h0.55M105.5 375.4h0.55M108.9 363.1h0.55M105.8 370.9h0.55M106.5 375.1h0.55M101.2 380.2h0.55M104.1 364.0h0.55M103.7 376.3h0.55M105.7 377.6h0.55M106.3 372.7h0.55M107.6 368.4h0.55M104.0 374.0h0.55M106.4 373.9h0.55M106.2 363.2h0.55M104.1 372.8h0.55M106.8 370.2h0.55M105.3 374.7h0.55M103.0 365.0h0.55M110.0 366.5h0.55M108.2 369.1h0.55M105.4 373.9h0.55M107.2 367.6h0.55M102.3 360.2h0.55M105.7 363.7h0.55M106.6 377.6h0.55M107.0 376.2h0.55M103.2 370.6h0.55M105.7 375.5h0.55M106.8 366.7h0.55M103.4 369.2h0.55M110.9 369.8h0.55M104.8 379.2h0.55M101.5 372.4h0.55M105.1 365.6h0.55M109.3 370.5h0.55M102.1 368.2h0.55M110.5 377.9h0.55M108.2 375.4h0.55M106.4 374.5h0.55M106.8 368.1h0.55M109.7 377.3h0.55M103.4 375.6h0.55M105.2 362.1h0.55M104.7 371.2h0.55M107.5 374.0h0.55M104.6 373.0h0.55M104.8 373.2h0.55M105.2 374.1h0.55M106.7 377.5h0.55M108.0 377.3h0.55M104.1 372.8h0.55M105.9 365.9h0.55M106.0 358.2h0.55M107.5 365.4h0.55M109.8 370.0h0.55M104.6 374.3h0.55M105.2 376.5h0.55M106.0 363.9h0.55M108.4 375.4h0.55M105.8 367.8h0.55M108.0 366.1h0.55M106.5 369.4h0.55M110.1 377.5h0.55M106.8 370.5h0.55M110.1 376.2h0.55M108.8 371.3h0.55M102.7 368.8h0.55M106.1 372.2h0.55M104.7 382.7h0.55M104.5 371.7h0.55M106.4 378.8h0.55M103.2 380.5h0.55M107.8 381.1h0.55M110.8 373.5h0.55M110.8 377.7h0.55M106.8 374.3h0.55M107.7 364.1h0.55M104.3 368.4h0.55M107.2 369.4h0.55M105.8 365.5h0.55M106.4 365.9h0.55M107.6 375.6h0.55M105.8 375.5h0.55M109.9 371.9h0.55M105.2 365.0h0.55M108.6 352.7h0.55M107.0 381.6h0.55M105.4 369.4h0.55M109.1 374.2h0.55M106.9 368.2h0.55M104.5 365.5h0.55M108.4 368.5h0.55M104.2 379.7h0.55M106.5 376.6h0.55M107.2 366.7h0.55M99.9 369.4h0.55M103.1 371.7h0.55M105.0 377.8h0.55M107.3 380.2h0.55M103.8 365.9h0.55M108.9 371.6h0.55M105.4 367.1h0.55M105.3 366.4h0.55M101.7 377.0h0.55M108.5 371.7h0.55M104.8 374.7h0.55M105.3 378.9h0.55M107.0 376.7h0.55M106.0 378.6h0.55M108.8 373.0h0.55M106.1 368.9h0.55M105.2 373.3h0.55M107.0 377.2h0.55M111.2 373.7h0.55M107.8 365.8h0.55M104.6 369.9h0.55M108.1 366.4h0.55M105.4 377.9h0.55M107.6 364.7h0.55M107.3 371.1h0.55M102.7 376.6h0.55M108.5 374.4h0.55M102.6 370.5h0.55M107.8 356.2h0.55M104.3 380.4h0.55M105.0 366.6h0.55M106.2 379.0h0.55M105.2 378.2h0.55M107.5 369.5h0.55M107.3 370.7h0.55M110.8 372.9h0.55M104.8 370.3h0.55M105.9 371.4h0.55M107.0 370.5h0.55M104.0 377.8h0.55M105.4 365.0h0.55M106.3 364.9h0.55M111.4 374.5h0.55M101.8 376.6h0.55M105.8 371.0h0.55M102.5 357.9h0.55M111.6 381.6h0.55M105.6 363.5h0.55M108.3 372.3h0.55M101.3 368.3h0.55M107.3 367.8h0.55M107.1 364.8h0.55M107.9 366.1h0.55M109.7 376.9h0.55M110.8 372.7h0.55M106.6 374.2h0.55M103.3 375.7h0.55M107.8 377.2h0.55M107.8 368.9h0.55M104.4 377.6h0.55M106.9 370.7h0.55M106.7 369.4h0.55M104.2 353.3h0.55M103.7 371.6h0.55M110.4 362.6h0.55M107.0 374.5h0.55M107.4 374.0h0.55M109.4 364.3h0.55M103.4 371.9h0.55M105.0 369.8h0.55M107.1 368.9h0.55M109.0 375.4h0.55M107.1 374.2h0.55M106.1 368.4h0.55M106.2 361.4h0.55M106.2 375.9h0.55M107.8 363.6h0.55M101.5 368.1h0.55M110.4 371.6h0.55M103.7 375.9h0.55M106.2 374.5h0.55M107.5 369.4h0.55M103.3 375.0h0.55M103.5 373.2h0.55M105.4 373.1h0.55M106.8 370.6h0.55M105.7 363.5h0.55M107.4 370.5h0.55M107.0 365.2h0.55M104.2 360.3h0.55M105.5 366.6h0.55M106.8 377.7h0.55M103.5 378.0h0.55M102.3 371.4h0.55M105.0 365.4h0.55M104.8 368.5h0.55M102.8 362.4h0.55M103.4 375.1h0.55M110.4 376.1h0.55M107.4 368.6h0.55M106.2 370.0h0.55M109.9 370.5h0.55M110.0 366.6h0.55M105.6 373.9h0.55M100.4 373.1h0.55M104.7 360.2h0.55M118.0 355.5h0.55M104.5 374.1h0.55M113.2 364.2h0.55M117.7 365.5h0.55M115.0 369.8h0.55M117.1 365.3h0.55M111.9 380.5h0.55M117.8 378.9h0.55M109.6 352.9h0.55M100.1 371.4h0.55M108.7 365.5h0.55M107.4 353.3h0.55M97.1 368.3h0.55M113.0 367.3h0.55M116.1 359.1h0.55M98.9 369.5h0.55M101.6 378.9h0.55M106.7 359.4h0.55M105.2 356.1h0.55M119.5 360.3h0.55M105.6 370.0h0.55M112.2 380.3h0.55M100.3 359.9h0.55M106.8 358.2h0.55M113.7 358.6h0.55M103.3 360.5h0.55M112.9 374.1h0.55M113.3 343.9h0.55M115.9 361.0h0.55M118.8 366.4h0.55M102.5 358.5h0.55M101.1 361.8h0.55M113.3 368.6h0.55M108.7 379.8h0.55M106.7 338.8h0.55M123.1 368.3h0.55M108.9 380.3h0.55M109.1 369.2h0.55M105.8 365.2h0.55M113.9 371.1h0.55M105.0 375.4h0.55M116.0 375.4h0.55M122.0 371.1h0.55M105.6 353.9h0.55M119.0 370.2h0.55M109.3 357.8h0.55M109.4 345.9h0.55M109.3 369.4h0.55M116.6 375.9h0.55M129.4 354.4h0.55M122.9 373.7h0.55M116.6 357.4h0.55M109.7 364.1h0.55M104.3 372.9h0.55M110.4 354.9h0.55M106.9 370.6h0.55M103.4 361.0h0.55M112.0 378.9h0.55M120.2 362.1h0.55M100.6 367.3h0.55M120.9 369.1h0.55M113.1 361.0h0.55M129.6 365.1h0.55M105.1 362.9h0.55M118.6 376.5h0.55M100.1 360.4h0.55M103.4 361.9h0.55M110.5 359.9h0.55M111.3 363.0h0.55M115.6 370.9h0.55M100.3 363.9h0.55M107.6 363.0h0.55M107.2 360.6h0.55M109.2 363.7h0.55M116.1 372.7h0.55M122.5 362.6h0.55M97.8 375.2h0.55M108.3 365.1h0.55M111.3 379.7h0.55M115.1 353.1h0.55M114.0 362.9h0.55M117.8 370.5h0.55M111.4 358.4h0.55M103.8 372.7h0.55M110.1 372.8h0.55M112.2 358.8h0.55M122.2 359.7h0.55M110.0 368.2h0.55M103.0 381.0h0.55M117.5 374.4h0.55M117.3 368.6h0.55M119.7 370.8h0.55M110.5 381.1h0.55M98.7 367.1h0.55M117.1 380.4h0.55M113.3 377.9h0.55M106.1 358.0h0.55M117.5 363.6h0.55M110.7 364.6h0.55M113.9 368.5h0.55M105.4 360.0h0.55M104.4 378.9h0.55M122.0 372.2h0.55M105.9 373.8h0.55M108.8 374.1h0.55M102.9 356.2h0.55M105.1 374.0h0.55M110.7 360.3h0.55M111.6 382.6h0.55M119.4 352.9h0.55M118.3 376.9h0.55M102.0 358.3h0.55M108.0 366.5h0.55M109.4 373.1h0.55M107.3 356.3h0.55M106.7 361.9h0.55M119.3 371.9h0.55M112.8 353.8h0.55M114.8 347.7h0.55M113.4 369.3h0.55M107.4 374.3h0.55M99.1 379.7h0.55M106.5 370.3h0.55M108.2 369.0h0.55M113.6 376.0h0.55M104.5 367.0h0.55M106.6 371.6h0.55M105.7 342.3h0.55M104.4 366.3h0.55M121.1 358.4h0.55M119.3 357.2h0.55M121.4 366.8h0.55M120.8 364.1h0.55M100.8 381.5h0.55M121.0 381.1h0.55M107.4 374.1h0.55M106.3 367.1h0.55M107.5 349.7h0.55M97.8 355.0h0.55M105.5 367.1h0.55M107.6 366.7h0.55M111.6 365.3h0.55M109.5 348.5h0.55M114.9 369.9h0.55M113.1 370.0h0.55M109.8 372.0h0.55M106.4 363.0h0.55M108.0 361.9h0.55M121.8 371.2h0.55M104.6 347.9h0.55M106.5 363.3h0.55M114.8 363.0h0.55M108.8 378.3h0.55M111.8 379.0h0.55M117.5 380.7h0.55M107.8 365.2h0.55M99.2 361.0h0.55M115.5 368.0h0.55M116.8 364.0h0.55M106.2 341.2h0.55M105.2 369.3h0.55M109.4 362.6h0.55M99.5 351.0h0.55M97.2 358.5h0.55M107.0 361.3h0.55M104.0 363.7h0.55M113.8 356.7h0.55M105.0 371.2h0.55M117.2 362.4h0.55M112.1 352.6h0.55M112.3 356.5h0.55M115.3 358.0h0.55M106.1 373.3h0.55M114.3 367.2h0.55M113.3 362.3h0.55M107.8 366.2h0.55M123.5 361.6h0.55M121.1 362.6h0.55M116.5 371.0h0.55M110.3 367.7h0.55M108.1 365.7h0.55M112.5 365.1h0.55M111.4 362.5h0.55M119.4 371.9h0.55M112.7 364.6h0.55M111.2 370.7h0.55M111.0 350.5h0.55M109.7 377.6h0.55M121.3 362.2h0.55M110.5 356.2h0.55M109.3 372.9h0.55M120.2 377.6h0.55M105.7 376.0h0.55M99.1 372.0h0.55M117.5 365.7h0.55M118.7 365.3h0.55M117.2 379.0h0.55M104.8 363.1h0.55M109.4 371.9h0.55M97.6 375.6h0.55M109.5 374.0h0.55M111.9 348.4h0.55M106.6 366.3h0.55M115.5 345.7h0.55M115.3 374.3h0.55M109.7 372.3h0.55M118.5 362.4h0.55M109.4 354.3h0.55M112.6 360.2h0.55M121.3 356.8h0.55M125.4 369.7h0.55M98.2 365.5h0.55M107.4 381.2h0.55M100.8 358.2h0.55M110.9 353.2h0.55M112.0 359.0h0.55M98.9 352.5h0.55M111.9 371.2h0.55M103.2 379.7h0.55M100.9 366.6h0.55M109.3 370.1h0.55M107.6 372.7h0.55M114.2 359.9h0.55M104.3 366.7h0.55M118.5 373.7h0.55M105.2 362.3h0.55M100.0 353.7h0.55M108.0 357.1h0.55M124.6 362.0h0.55M110.2 359.4h0.55M101.7 362.7h0.55M100.5 371.8h0.55M109.0 382.3h0.55M99.1 352.2h0.55M131.2 359.0h0.55M108.2 353.3h0.55M103.7 366.6h0.55M113.4 360.3h0.55M101.6 358.6h0.55M103.6 361.8h0.55M104.8 368.9h0.55M104.9 358.5h0.55M110.2 365.9h0.55M108.3 354.4h0.55M106.6 380.7h0.55M119.6 365.5h0.55M100.9 367.4h0.55M119.0 352.6h0.55M111.7 369.9h0.55M97.4 356.6h0.55M100.2 372.8h0.55M107.5 359.3h0.55M98.6 371.1h0.55M104.1 369.4h0.55M121.8 352.9h0.55M105.5 379.4h0.55M107.3 357.4h0.55M110.3 365.6h0.55M110.8 357.5h0.55M118.3 366.6h0.55M123.0 366.6h0.55M116.4 369.8h0.55M103.6 371.8h0.55M121.3 357.8h0.55M114.5 348.1h0.55M113.6 365.0h0.55M116.7 365.0h0.55M105.0 372.6h0.55M102.8 379.8h0.55M104.0 368.9h0.55M110.3 362.2h0.55M113.0 366.9h0.55M118.5 362.3h0.55M114.6 367.4h0.55M107.9 360.5h0.55M117.0 370.1h0.55M104.1 359.1h0.55M113.3 354.8h0.55M108.9 367.8h0.55M109.9 369.9h0.55M106.5 370.2h0.55M111.9 355.4h0.55M101.5 350.8h0.55M106.3 353.0h0.55M112.2 377.4h0.55M116.1 373.7h0.55M102.3 370.8h0.55M118.5 378.3h0.55M117.7 375.5h0.55M115.7 377.6h0.55M115.9 366.4h0.55M117.9 382.7h0.55M108.7 379.7h0.55M97.3 358.0h0.55M102.7 373.6h0.55M117.9 380.4h0.55M121.3 362.4h0.55M117.7 369.9h0.55M106.9 369.9h0.55M120.4 358.5h0.55M117.8 367.7h0.55M114.4 354.1h0.55M108.6 368.9h0.55M104.5 361.3h0.55M103.4 358.6h0.55M102.9 358.9h0.55M111.7 373.5h0.55M108.2 375.2h0.55M103.5 363.1h0.55M104.5 364.1h0.55M116.1 346.4h0.55M110.4 365.8h0.55M106.2 380.9h0.55M119.7 370.6h0.55M114.3 376.0h0.55M105.8 367.3h0.55M116.9 360.0h0.55M105.2 365.9h0.55M109.4 377.2h0.55M116.1 373.5h0.55M116.0 358.3h0.55M105.7 359.1h0.55M121.7 372.4h0.55M116.1 369.6h0.55M115.8 380.9h0.55M111.8 358.3h0.55M108.0 349.1h0.55M108.6 366.5h0.55M123.1 353.0h0.55M114.1 362.1h0.55M106.3 363.0h0.55M109.2 366.8h0.55M107.1 373.0h0.55M103.4 377.5h0.55M127.1 365.5h0.55M109.2 355.3h0.55M113.8 370.0h0.55M106.2 357.5h0.55M126.1 371.6h0.55M115.5 382.4h0.55M106.0 357.0h0.55M106.9 369.2h0.55M110.2 363.0h0.55M102.1 363.4h0.55M108.2 376.2h0.55M113.8 347.2h0.55M98.1 359.7h0.55M119.9 378.5h0.55M119.9 360.9h0.55M111.3 355.9h0.55M115.5 362.7h0.55M112.2 368.0h0.55M105.9 369.9h0.55M117.0 374.1h0.55M112.3 379.2h0.55M107.6 373.3h0.55M99.6 371.2h0.55M106.1 371.7h0.55M118.8 357.1h0.55M115.6 372.2h0.55M106.8 378.9h0.55M120.9 362.2h0.55M108.3 371.9h0.55M109.8 374.8h0.55M109.3 367.5h0.55M98.8 368.2h0.55M113.1 357.5h0.55M117.4 361.0h0.55M108.8 371.2h0.55M129.5 381.9h0.55M100.1 357.6h0.55M112.0 379.1h0.55M108.0 364.8h0.55M114.9 358.7h0.55M111.3 346.8h0.55M114.0 363.7h0.55M104.2 370.5h0.55M113.4 354.7h0.55M116.0 365.5h0.55M109.0 366.9h0.55M96.7 371.2h0.55M96.9 369.4h0.55M101.5 367.0h0.55M109.9 374.0h0.55M98.5 370.7h0.55M108.9 364.5h0.55M110.0 363.3h0.55M101.0 364.6h0.55M115.2 346.3h0.55M100.8 366.9h0.55M112.1 358.8h0.55M124.4 373.6h0.55M98.0 367.3h0.55M108.7 369.7h0.55M119.9 359.7h0.55M109.9 370.0h0.55M102.7 366.0h0.55M108.4 351.0h0.55M97.9 350.2h0.55M106.8 351.0h0.55M110.6 368.6h0.55M104.8 369.5h0.55M107.9 366.4h0.55M119.7 373.1h0.55M105.4 353.9h0.55M110.6 358.6h0.55M108.2 363.8h0.55M108.3 371.0h0.55M112.4 371.7h0.55M113.3 359.5h0.55M107.4 379.1h0.55M103.0 370.3h0.55M119.2 368.6h0.55M96.7 366.2h0.55M115.7 369.5h0.55M100.8 349.4h0.55M106.3 359.0h0.55M113.5 359.7h0.55M110.4 371.6h0.55M107.2 371.2h0.55M114.7 363.1h0.55M105.2 341.7h0.55M106.6 359.1h0.55M109.7 373.2h0.55M126.1 351.2h0.55M113.0 373.5h0.55M114.6 370.2h0.55M106.8 377.5h0.55M96.7 377.3h0.55M106.4 366.2h0.55M112.2 360.5h0.55M103.0 362.4h0.55M100.6 363.3h0.55M109.5 355.1h0.55M114.9 366.7h0.55M103.6 364.8h0.55M124.0 359.8h0.55M105.4 342.4h0.55M108.3 370.3h0.55M100.1 357.8h0.55M116.6 358.9h0.55M108.2 357.8h0.55M111.7 374.9h0.55M114.5 364.5h0.55M114.4 348.8h0.55M101.4 363.7h0.55M114.2 359.9h0.55M106.8 367.0h0.55M126.0 368.7h0.55M112.9 372.2h0.55M114.9 367.1h0.55M117.8 376.3h0.55M109.2 356.7h0.55M104.9 365.4h0.55M113.8 368.8h0.55M117.7 368.8h0.55M120.3 381.2h0.55M100.2 363.3h0.55M117.8 372.6h0.55M96.8 364.9h0.55M114.5 366.4h0.55M105.2 354.5h0.55M115.6 366.1h0.55M116.7 360.6h0.55M117.2 360.6h0.55M116.3 371.8h0.55M111.5 379.6h0.55M121.4 373.8h0.55M109.8 359.0h0.55M105.4 361.0h0.55M112.0 379.1h0.55M104.3 355.0h0.55M110.2 366.5h0.55M110.2 377.0h0.55M123.9 350.8h0.55M125.2 358.6h0.55M99.4 357.2h0.55M103.3 360.8h0.55M116.9 371.2h0.55M112.9 356.7h0.55M124.8 359.9h0.55M118.1 375.7h0.55M109.3 374.8h0.55M132.2 362.3h0.55M98.6 357.1h0.55M114.5 354.4h0.55M120.4 368.6h0.55M112.0 338.9h0.55M117.9 350.2h0.55M113.8 349.9h0.55M114.8 348.6h0.55M98.2 353.5h0.55M117.8 354.2h0.55M125.4 347.9h0.55M99.1 356.5h0.55M108.4 346.8h0.55M101.7 346.1h0.55M123.2 353.7h0.55M110.7 348.4h0.55M117.8 357.7h0.55M117.1 357.4h0.55M102.3 354.0h0.55M104.5 350.2h0.55M100.9 349.8h0.55M104.2 347.3h0.55M117.9 360.0h0.55M115.7 350.6h0.55M117.4 351.5h0.55M103.7 350.5h0.55M102.7 349.3h0.55M121.6 342.8h0.55M114.6 351.5h0.55M113.6 354.2h0.55M110.4 343.7h0.55M116.6 339.2h0.55M122.1 346.6h0.55M108.8 348.4h0.55M106.7 351.9h0.55M98.7 345.6h0.55M109.0 351.1h0.55M102.1 344.7h0.55M97.4 339.5h0.55M113.5 354.6h0.55M113.6 349.0h0.55M112.2 346.4h0.55M97.4 345.3h0.55M103.8 352.1h0.55M107.1 342.3h0.55M129.4 350.0h0.55M116.1 355.0h0.55M120.2 346.9h0.55M111.2 352.8h0.55M102.0 356.4h0.55M129.6 360.6h0.55M114.3 354.2h0.55M114.7 344.4h0.55M119.5 342.2h0.55M110.2 348.1h0.55M114.6 358.8h0.55M100.1 348.2h0.55M113.5 353.8h0.55M100.1 351.9h0.55M98.0 359.9h0.55M115.2 349.2h0.55M102.3 348.4h0.55M106.9 346.0h0.55M111.1 350.8h0.55M110.2 351.5h0.55M123.4 350.1h0.55M110.7 352.7h0.55M116.8 350.7h0.55M118.6 347.1h0.55M97.2 349.1h0.55M98.2 347.8h0.55M114.8 350.9h0.55M106.6 349.8h0.55M101.6 358.5h0.55M118.6 350.5h0.55M115.0 344.8h0.55M107.7 348.1h0.55M116.9 341.2h0.55M110.8 351.2h0.55M120.2 346.9h0.55M117.5 355.8h0.55M111.8 350.0h0.55M122.3 345.7h0.55M117.0 353.4h0.55M108.4 352.7h0.55M113.4 348.6h0.55M118.1 351.3h0.55M116.0 344.9h0.55M106.7 354.8h0.55M130.2 347.7h0.55M108.5 343.3h0.55M102.2 340.5h0.55M113.8 350.3h0.55M115.5 342.7h0.55M109.9 350.8h0.55M123.7 340.7h0.55M103.9 346.4h0.55M112.1 349.3h0.55M124.6 347.3h0.55M118.2 352.1h0.55M107.4 342.3h0.55M109.9 340.9h0.55M112.7 356.0h0.55M115.7 357.3h0.55M115.7 351.9h0.55M105.1 353.3h0.55M105.4 348.3h0.55M112.8 344.5h0.55M122.2 348.7h0.55M105.6 349.2h0.55M108.3 346.3h0.55M107.0 343.3h0.55M111.2 351.9h0.55M116.7 345.7h0.55M102.3 352.8h0.55M109.2 356.4h0.55M124.1 353.6h0.55M103.6 337.8h0.55M117.9 351.0h0.55M112.8 349.6h0.55M101.7 361.2h0.55M113.7 348.0h0.55M105.2 347.7h0.55M107.5 347.6h0.55M108.6 348.4h0.55M101.1 345.8h0.55M109.9 357.9h0.55M125.1 351.0h0.55M114.9 351.8h0.55M123.8 355.5h0.55M102.2 342.5h0.55M135.2 357.0h0.55M116.7 347.6h0.55M114.4 351.0h0.55M106.0 346.4h0.55M102.6 345.9h0.55M112.1 346.8h0.55M124.2 351.3h0.55M114.2 351.5h0.55M133.6 350.2h0.55M108.5 354.7h0.55M98.2 347.2h0.55M107.3 342.4h0.55M123.5 344.4h0.55M122.5 347.3h0.55M101.5 354.4h0.55M104.3 353.0h0.55M122.3 353.4h0.55M117.1 345.6h0.55M103.0 346.6h0.55M108.5 339.1h0.55M106.9 349.7h0.55M118.8 345.4h0.55M123.5 350.2h0.55M106.5 350.5h0.55M122.1 345.9h0.55M116.7 359.1h0.55M102.8 347.5h0.55M104.6 344.4h0.55M114.4 355.3h0.55M108.4 345.6h0.55M107.8 358.0h0.55M119.6 353.1h0.55M114.9 342.6h0.55M100.2 348.0h0.55M122.1 354.2h0.55M117.7 352.1h0.55M115.9 353.6h0.55M117.0 352.5h0.55M98.9 351.8h0.55M112.7 347.4h0.55M104.2 347.7h0.55M108.0 350.8h0.55M127.0 352.8h0.55M107.3 352.8h0.55M125.2 345.3h0.55M109.3 346.7h0.55M111.3 360.7h0.55M119.2 352.5h0.55M116.6 347.7h0.55M97.6 343.1h0.55M115.5 349.8h0.55M105.3 351.3h0.55M108.8 347.6h0.55M114.4 343.6h0.55M106.6 356.2h0.55M111.2 350.9h0.55M110.0 351.0h0.55M105.7 346.7h0.55M101.3 352.8h0.55M110.3 345.8h0.55M111.8 345.8h0.55M108.2 358.2h0.55M120.7 349.8h0.55M110.0 350.8h0.55M112.6 345.2h0.55M98.7 352.8h0.55M109.0 351.3h0.55M132.0 349.5h0.55M119.1 351.2h0.55M113.6 343.4h0.55M110.5 348.7h0.55M110.5 346.1h0.55M112.5 344.1h0.55M97.8 351.9h0.55M125.4 338.1h0.55M115.0 350.9h0.55M123.5 347.8h0.55M116.1 355.8h0.55M118.0 353.2h0.55M118.3 352.7h0.55M113.9 351.4h0.55M126.1 340.3h0.55M114.8 346.6h0.55M114.4 343.8h0.55M105.9 349.5h0.55M109.8 350.5h0.55M122.7 347.1h0.55M107.4 345.7h0.55M119.2 349.5h0.55M112.1 347.2h0.55M98.4 346.6h0.55M118.6 360.1h0.55M111.9 346.8h0.55M111.1 345.7h0.55M121.4 349.0h0.55M114.8 348.9h0.55M102.4 353.3h0.55M114.4 358.6h0.55M105.9 343.1h0.55M104.2 357.9h0.55M126.5 351.0h0.55M107.7 344.9h0.55M107.1 356.0h0.55M119.0 341.9h0.55M122.3 345.3h0.55M105.2 355.7h0.55M128.6 345.3h0.55M104.4 355.3h0.55M109.5 349.7h0.55M108.8 347.2h0.55M108.6 352.6h0.55M113.2 339.7h0.55M103.2 343.3h0.55M116.8 351.8h0.55M118.9 346.1h0.55M105.2 339.3h0.55M104.3 360.3h0.55M121.8 348.5h0.55M124.6 352.6h0.55M117.4 351.3h0.55M119.4 349.1h0.55M104.3 382.0h0.55M98.7 382.1h0.55M98.1 382.0h0.55M132.8 381.6h0.55M114.3 381.8h0.55M99.0 382.5h0.55M114.2 382.2h0.55M111.2 381.4h0.55M112.4 382.4h0.55M131.3 381.5h0.55M119.2 382.1h0.55M98.2 382.4h0.55M130.4 381.6h0.55M124.1 381.6h0.55M99.5 381.6h0.55M112.8 382.1h0.55M111.1 382.4h0.55M104.1 382.1h0.55M117.8 381.5h0.55M105.9 381.7h0.55M128.0 381.6h0.55M103.9 382.2h0.55M100.0 382.2h0.55M110.8 382.2h0.55M125.2 382.3h0.55M103.0 381.5h0.55M115.5 382.1h0.55M100.6 382.5h0.55M121.5 381.4h0.55M122.4 381.6h0.55M130.6 382.5h0.55M132.5 382.2h0.55M135.0 381.8h0.55M121.5 381.6h0.55M128.3 381.5h0.55M128.7 382.4h0.55M101.5 382.4h0.55M110.1 381.9h0.55M120.9 382.0h0.55M111.0 382.2h0.55M122.5 382.4h0.55M121.0 382.4h0.55M132.6 381.6h0.55M115.4 381.6h0.55M123.7 382.4h0.55M127.7 382.0h0.55M118.4 382.2h0.55M127.6 381.7h0.55M123.6 381.6h0.55M113.9 381.5h0.55M136.0 381.4h0.55M128.7 381.8h0.55M98.8 382.2h0.55M133.3 381.7h0.55M122.8 381.6h0.55M106.1 381.9h0.55M99.1 381.9h0.55M98.1 381.7h0.55M132.8 381.7h0.55M133.5 382.3h0.55M131.5 381.5h0.55M97.4 382.1h0.55M130.4 381.8h0.55M111.8 381.6h0.55M112.7 382.1h0.55M100.3 381.6h0.55M127.2 382.1h0.55M109.1 381.9h0.55M106.0 381.6h0.55M111.6 381.7h0.55M114.5 381.8h0.55M101.3 382.4h0.55M102.1 381.8h0.55M115.6 382.3h0.55M136.0 381.7h0.55M99.5 381.7h0.55M113.4 381.9h0.55M119.2 382.1h0.55M109.5 382.3h0.55M135.2 382.0h0.55M101.1 382.3h0.55M109.6 381.8h0.55M110.9 382.3h0.55M99.5 382.4h0.55M111.1 382.6h0.55M108.5 382.4h0.55M104.3 381.4h0.55M110.5 382.2h0.55M103.3 382.1h0.55M122.4 381.5h0.55M110.5 381.8h0.55M122.4 382.5h0.55M114.5 382.2h0.55M126.0 382.3h0.55M117.1 381.6h0.55M123.0 382.4h0.55M99.4 382.2h0.55M98.5 382.5h0.55M134.0 382.6h0.55M119.4 382.6h0.55M116.2 382.0h0.55M115.8 382.2h0.55M107.5 381.7h0.55M111.7 382.2h0.55M119.0 382.3h0.55M117.1 382.0h0.55M115.6 382.4h0.55M114.0 382.2h0.55M99.8 382.4h0.55M119.8 382.6h0.55M110.5 381.5h0.55M132.0 381.7h0.55M125.1 382.3h0.55M120.1 381.4h0.55M133.7 381.6h0.55M119.4 382.1h0.55M102.8 382.2h0.55M112.0 382.0h0.55M135.6 381.5h0.55M105.0 381.9h0.55M116.0 382.1h0.55M135.0 382.3h0.55M101.8 381.5h0.55M107.4 381.5h0.55M135.6 382.0h0.55M134.7 381.4h0.55M98.2 381.5h0.55M125.5 381.9h0.55M123.3 382.3h0.55M101.8 382.5h0.55M100.4 381.7h0.55M98.5 381.5h0.55M105.1 382.1h0.55M115.8 382.1h0.55M129.7 381.8h0.55M113.7 382.0h0.55M113.3 381.6h0.55M131.5 382.0h0.55M97.4 382.1h0.55M133.9 381.4h0.55M101.6 381.7h0.55M127.3 381.9h0.55M99.6 382.0h0.55M132.5 382.3h0.55M118.2 381.9h0.55M122.3 382.1h0.55M130.4 382.0h0.55M112.2 382.3h0.55M104.1 381.9h0.55M103.6 382.5h0.55M111.7 382.6h0.55M108.5 382.4h0.55M101.3 382.5h0.55M99.9 381.6h0.55M106.1 382.5h0.55M105.3 382.6h0.55M117.0 381.4h0.55M101.0 381.9h0.55M124.2 381.8h0.55M112.5 382.0h0.55M104.7 381.8h0.55M112.5 382.0h0.55M97.2 381.7h0.55M127.3 381.9h0.55M103.4 382.2h0.55M133.0 382.0h0.55M115.5 382.3h0.55M134.4 382.4h0.55M97.8 381.7h0.55M115.6 382.5h0.55M111.9 382.3h0.55M125.7 381.7h0.55M117.2 381.6h0.55M131.7 382.1h0.55M118.3 382.2h0.55M132.9 382.1h0.55M115.0 382.5h0.55M123.0 381.9h0.55M105.9 382.5h0.55M131.9 381.9h0.55M101.0 381.7h0.55M118.5 381.7h0.55M103.9 382.2h0.55M110.5 382.2h0.55M123.7 382.4h0.55M102.6 382.2h0.55M126.6 382.2h0.55M131.6 382.4h0.55M100.2 382.0h0.55M115.7 382.0h0.55M101.5 381.7h0.55M120.5 381.5h0.55M122.4 382.6h0.55M109.2 382.1h0.55M132.6 382.1h0.55M134.0 381.5h0.55M113.9 381.7h0.55M135.5 381.6h0.55M115.8 382.1h0.55M125.3 382.3h0.55M111.5 382.5h0.55M124.5 382.0h0.55M110.9 382.3h0.55M109.9 382.2h0.55M125.9 381.7h0.55M128.3 382.2h0.55M102.8 381.6h0.55M133.0 382.1h0.55M105.6 382.0h0.55M115.6 382.3h0.55M99.3 382.1h0.55M127.3 381.4h0.55M126.7 382.1h0.55M105.1 381.5h0.55M109.6 381.9h0.55M97.2 382.3h0.55M104.4 381.8h0.55M99.8 382.5h0.55M102.3 382.3h0.55M122.3 382.2h0.55M130.7 381.4h0.55M97.5 382.1h0.55M121.4 382.0h0.55M116.7 381.8h0.55M105.0 381.8h0.55M114.8 381.7h0.55M130.4 382.3h0.55M98.0 382.1h0.55M99.6 382.4h0.55M129.8 381.7h0.55M134.6 381.4h0.55M113.0 381.7h0.55M117.8 382.1h0.55M127.2 381.6h0.55M114.1 381.6h0.55M102.9 382.2h0.55M98.0 382.3h0.55M98.7 382.3h0.55M110.4 381.5h0.55M127.7 381.7h0.55M109.4 382.3h0.55M122.9 382.3h0.55M101.0 382.4h0.55M128.3 382.1h0.55M135.2 382.4h0.55M105.7 382.4h0.55M119.1 382.5h0.55M101.6 382.6h0.55M111.3 382.4h0.55M131.3 381.6h0.55M97.3 382.2h0.55M106.6 382.0h0.55M128.6 381.9h0.55M104.0 382.4h0.55M124.7 381.8h0.55M123.9 381.8h0.55M100.1 381.5h0.55M108.2 381.6h0.55M125.0 381.5h0.55M125.7 382.0h0.55M116.9 382.3h0.55M124.3 382.5h0.55M111.9 382.4h0.55M134.5 381.5h0.55M118.5 381.7h0.55M116.1 381.7h0.55M135.4 381.6h0.55M107.0 382.0h0.55M104.1 382.2h0.55M129.5 381.7h0.55M132.4 382.1h0.55M127.5 381.4h0.55M108.0 381.9h0.55M112.2 382.2h0.55M107.2 381.5h0.55M104.8 382.4h0.55M130.8 382.2h0.55M128.0 382.0h0.55M114.9 382.1h0.55M113.6 382.2h0.55M128.3 381.9h0.55M99.2 381.7h0.55M123.1 381.6h0.55M112.1 382.1h0.55M104.0 382.2h0.55M128.5 381.8h0.55M130.3 381.9h0.55M134.7 381.8h0.55M106.9 381.4h0.55M100.4 381.5h0.55M120.7 382.1h0.55M110.0 382.0h0.55M121.2 381.5h0.55M133.2 381.6h0.55M97.5 381.5h0.55M118.1 381.9h0.55M126.5 381.8h0.55M133.6 381.6h0.55M105.8 381.9h0.55M113.1 382.4h0.55M104.9 381.6h0.55M123.2 382.3h0.55M97.9 382.1h0.55M115.2 382.1h0.55M129.1 382.4h0.55M104.0 381.5h0.55M102.0 381.6h0.55M113.8 381.5h0.55M127.8 381.5h0.55M100.1 382.2h0.55M130.3 382.2h0.55M133.0 381.7h0.55M126.6 381.6h0.55M121.4 381.4h0.55M133.0 382.3h0.55M125.7 381.9h0.55M132.9 381.7h0.55M97.6 382.2h0.55M126.4 381.7h0.55M115.1 381.8h0.55M102.6 381.6h0.55M123.8 381.5h0.55M121.5 382.2h0.55M119.3 382.1h0.55M102.5 381.5h0.55M121.2 382.3h0.55M113.0 382.0h0.55M110.4 382.4h0.55M126.1 382.5h0.55M99.5 381.4h0.55" stroke="#000" stroke-width="0.55" fill="none" opacity="1"/>
<rect x="228.6" y="249.7" width="89.20000000000002" height="142.3" fill="none" stroke="#1a1a1a" stroke-width="1"/>
<rect x="324.8" y="249.7" width="90.5" height="142.3" fill="none" stroke="#1a1a1a" stroke-width="1"/>
<rect x="421.5" y="249.7" width="90.70000000000005" height="142.3" fill="none" stroke="#1a1a1a" stroke-width="1"/>
<text x="236.8" y="409.5" font-size="10.8" text-anchor="start" font-weight="normal" textLength="69.7" lengthAdjust="spacingAndGlyphs">Healthy control</text>
<text x="332.7" y="409.8" font-size="10.9" text-anchor="start" font-weight="normal" textLength="78" lengthAdjust="spacingAndGlyphs">Before treatment</text>
<text x="427.7" y="407" font-size="10.9" text-anchor="start" font-weight="normal" textLength="69.3" lengthAdjust="spacingAndGlyphs">After treatment</text>
<text x="434.8" y="419.6" font-size="10.9" text-anchor="start" font-weight="normal" textLength="55.2" lengthAdjust="spacingAndGlyphs">(12 months)</text>
<path d="M233.14 268.40v-1.21M234.74 268.40v-3.55M236.35 268.40v-5.95M237.95 268.40v-13.32M239.55 268.40v-13.32M241.15 268.40v-5.34M242.75 268.40v-2.98M244.36 268.40v-1.06" fill="none" stroke="#3a3a3a" stroke-width="0.7"/>
<path d="M234.74 268.40v-1.16M236.35 268.40v-1.83M237.95 268.40v-4.19M239.55 268.40v-2.70M241.15 268.40v-1.63M242.75 268.40v-0.76" stroke="#111" stroke-width="0.7" opacity="0.85"/>
<path d="M230.20 268.30H231.94M245.56 268.30H248.20" stroke="#000" stroke-width="1.0" stroke-dasharray="2.4 0.6 1.2 0.5"/>
<path d="M230.20 268.40H248.20" stroke="#333" stroke-width="0.7"/>
<path d="M256.39 268.40v-1.89M258.00 268.40v-3.91M259.60 268.40v-7.14M261.20 268.40v-13.32M262.80 268.40v-13.32M264.40 268.40v-8.71M266.00 268.40v-2.92M267.61 268.40v-1.87" fill="none" stroke="#3a3a3a" stroke-width="0.7"/>
<path d="M258.00 268.40v-1.22M259.60 268.40v-2.25M261.20 268.40v-3.46M262.80 268.40v-4.27M264.40 268.40v-3.06M266.00 268.40v-0.88" stroke="#111" stroke-width="0.7" opacity="0.85"/>
<path d="M253.00 268.30H255.19M268.81 268.30H271.00" stroke="#000" stroke-width="1.0" stroke-dasharray="2.4 0.6 1.2 0.5"/>
<path d="M253.00 268.40H271.00" stroke="#333" stroke-width="0.7"/>
<path d="M275.54 268.40v-0.95M277.14 268.40v-1.59M278.75 268.40v-5.09M280.35 268.40v-9.53M281.95 268.40v-15.00M283.55 268.40v-6.78M285.15 268.40v-5.31M286.76 268.40v-1.54M288.36 268.40v-1.43" fill="none" stroke="#3a3a3a" stroke-width="0.7"/>
<path d="M278.75 268.40v-1.42M280.35 268.40v-2.35M281.95 268.40v-3.98M283.55 268.40v-2.44M285.15 268.40v-1.32" stroke="#111" stroke-width="0.7" opacity="0.85"/>
<path d="M275.20 268.30H274.34M289.56 268.30H293.20" stroke="#000" stroke-width="1.0" stroke-dasharray="2.4 0.6 1.2 0.5"/>
<path d="M275.20 268.40H293.20" stroke="#333" stroke-width="0.7"/>
<path d="M300.69 268.40v-1.51M302.30 268.40v-1.64M303.90 268.40v-4.81M305.50 268.40v-7.68M307.10 268.40v-13.00M308.70 268.40v-8.71M310.31 268.40v-5.54M311.91 268.40v-1.48" fill="none" stroke="#3a3a3a" stroke-width="0.7"/>
<path d="M303.90 268.40v-1.80M305.50 268.40v-1.94M307.10 268.40v-4.12M308.70 268.40v-1.99M310.31 268.40v-1.95" stroke="#111" stroke-width="0.7" opacity="0.85"/>
<path d="M297.30 268.30H299.49M313.11 268.30H315.30" stroke="#000" stroke-width="1.0" stroke-dasharray="2.4 0.6 1.2 0.5"/>
<path d="M297.30 268.40H315.30" stroke="#333" stroke-width="0.7"/>
<path d="M233.14 292.50v-1.30M234.74 292.50v-4.00M236.35 292.50v-6.20M237.95 292.50v-13.00M239.55 292.50v-8.41M241.15 292.50v-5.52M242.75 292.50v-1.79M244.36 292.50v-1.26" fill="none" stroke="#3a3a3a" stroke-width="0.7"/>
<path d="M234.74 292.50v-1.06M236.35 292.50v-1.74M237.95 292.50v-3.37M239.55 292.50v-2.27M241.15 292.50v-1.83" stroke="#111" stroke-width="0.7" opacity="0.85"/>
<path d="M230.20 292.40H231.94M245.56 292.40H248.20" stroke="#000" stroke-width="1.0" stroke-dasharray="2.4 0.6 1.2 0.5"/>
<path d="M230.20 292.50H248.20" stroke="#333" stroke-width="0.7"/>
<path d="M256.39 292.50v-1.38M258.00 292.50v-4.44M259.60 292.50v-9.57M261.20 292.50v-14.00M262.80 292.50v-8.76M264.40 292.50v-6.04M266.00 292.50v-2.06M267.61 292.50v-1.03" fill="none" stroke="#3a3a3a" stroke-width="0.7"/>
<path d="M258.00 292.50v-1.39M259.60 292.50v-2.62M261.20 292.50v-4.02M262.80 292.50v-3.15M264.40 292.50v-1.62" stroke="#111" stroke-width="0.7" opacity="0.85"/>
<path d="M253.00 292.40H255.19M268.81 292.40H271.00" stroke="#000" stroke-width="1.0" stroke-dasharray="2.4 0.6 1.2 0.5"/>
<path d="M253.00 292.50H271.00" stroke="#333" stroke-width="0.7"/>
<path d="M278.14 292.50v-1.64M279.75 292.50v-4.62M281.35 292.50v-6.74M282.95 292.50v-14.00M284.55 292.50v-7.69M286.15 292.50v-5.21M287.75 292.50v-1.60M289.36 292.50v-1.30" fill="none" stroke="#3a3a3a" stroke-width="0.7"/>
<path d="M279.75 292.50v-1.64M281.35 292.50v-1.79M282.95 292.50v-2.80M284.55 292.50v-2.14M286.15 292.50v-1.24" stroke="#111" stroke-width="0.7" opacity="0.85"/>
<path d="M275.20 292.40H276.94M290.56 292.40H293.20" stroke="#000" stroke-width="1.0" stroke-dasharray="2.4 0.6 1.2 0.5"/>
<path d="M275.20 292.50H293.20" stroke="#333" stroke-width="0.7"/>
<path d="M302.04 292.50v-1.77M303.65 292.50v-2.09M305.25 292.50v-4.93M306.85 292.50v-8.66M308.45 292.50v-14.00M310.05 292.50v-10.62M311.66 292.50v-5.56M313.26 292.50v-1.91" fill="none" stroke="#3a3a3a" stroke-width="0.7"/>
<path d="M305.25 292.50v-1.85M306.85 292.50v-2.41M308.45 292.50v-4.11M310.05 292.50v-3.72M311.66 292.50v-1.96" stroke="#111" stroke-width="0.7" opacity="0.85"/>
<path d="M297.30 292.40H300.84M314.46 292.40H315.30" stroke="#000" stroke-width="1.0" stroke-dasharray="2.4 0.6 1.2 0.5"/>
<path d="M297.30 292.50H315.30" stroke="#333" stroke-width="0.7"/>
<path d="M232.69 316.40v-1.72M234.29 316.40v-3.50M235.90 316.40v-7.51M237.50 316.40v-13.32M239.10 316.40v-13.32M240.70 316.40v-6.72M242.30 316.40v-3.05M243.91 316.40v-1.71" fill="none" stroke="#3a3a3a" stroke-width="0.7"/>
<path d="M234.29 316.40v-1.11M235.90 316.40v-2.00M237.50 316.40v-2.73M239.10 316.40v-3.33M240.70 316.40v-1.87M242.30 316.40v-1.04" stroke="#111" stroke-width="0.7" opacity="0.85"/>
<path d="M230.20 316.30H231.49M245.11 316.30H248.20" stroke="#000" stroke-width="1.0" stroke-dasharray="2.4 0.6 1.2 0.5"/>
<path d="M230.20 316.40H248.20" stroke="#333" stroke-width="0.7"/>
<path d="M257.29 316.40v-1.20M258.89 316.40v-1.47M260.50 316.40v-5.53M262.10 316.40v-9.39M263.70 316.40v-15.00M265.30 316.40v-8.31M266.90 316.40v-5.51M268.51 316.40v-1.44" fill="none" stroke="#3a3a3a" stroke-width="0.7"/>
<path d="M260.50 316.40v-1.54M262.10 316.40v-3.55M263.70 316.40v-3.43M265.30 316.40v-2.70M266.90 316.40v-2.07" stroke="#111" stroke-width="0.7" opacity="0.85"/>
<path d="M253.00 316.30H256.09M269.71 316.30H271.00" stroke="#000" stroke-width="1.0" stroke-dasharray="2.4 0.6 1.2 0.5"/>
<path d="M253.00 316.40H271.00" stroke="#333" stroke-width="0.7"/>
<path d="M279.04 316.40v-1.23M280.64 316.40v-1.01M282.25 316.40v-2.42M283.85 316.40v-4.84M285.45 316.40v-9.00M287.05 316.40v-4.25M288.65 316.40v-2.44M290.26 316.40v-1.32" fill="none" stroke="#3a3a3a" stroke-width="0.7"/>
<path d="M282.25 316.40v-0.79M283.85 316.40v-1.79M285.45 316.40v-2.16M287.05 316.40v-1.09M288.65 316.40v-0.74" stroke="#111" stroke-width="0.7" opacity="0.85"/>
<path d="M275.20 316.30H277.84M291.46 316.30H293.20" stroke="#000" stroke-width="1.0" stroke-dasharray="2.4 0.6 1.2 0.5"/>
<path d="M275.20 316.40H293.20" stroke="#333" stroke-width="0.7"/>
<path d="M300.69 316.40v-1.81M302.30 316.40v-3.59M303.90 316.40v-7.07M305.50 316.40v-14.00M307.10 316.40v-10.91M308.70 316.40v-4.67M310.31 316.40v-1.37M311.91 316.40v-1.37" fill="none" stroke="#3a3a3a" stroke-width="0.7"/>
<path d="M302.30 316.40v-1.16M303.90 316.40v-2.05M305.50 316.40v-3.09M307.10 316.40v-3.50M308.70 316.40v-1.59" stroke="#111" stroke-width="0.7" opacity="0.85"/>
<path d="M297.30 316.30H299.49M313.11 316.30H315.30" stroke="#000" stroke-width="1.0" stroke-dasharray="2.4 0.6 1.2 0.5"/>
<path d="M297.30 316.40H315.30" stroke="#333" stroke-width="0.7"/>
<path d="M233.14 340.30v-2.06M234.74 340.30v-4.50M236.35 340.30v-11.18M237.95 340.30v-14.00M239.55 340.30v-10.86M241.15 340.30v-6.13M242.75 340.30v-1.91M244.36 340.30v-1.83" fill="none" stroke="#3a3a3a" stroke-width="0.7"/>
<path d="M234.74 340.30v-1.21M236.35 340.30v-3.48M237.95 340.30v-3.61M239.55 340.30v-2.90M241.15 340.30v-1.54" stroke="#111" stroke-width="0.7" opacity="0.85"/>
<path d="M230.20 340.20H231.94M245.56 340.20H248.20" stroke="#000" stroke-width="1.0" stroke-dasharray="2.4 0.6 1.2 0.5"/>
<path d="M230.20 340.30H248.20" stroke="#333" stroke-width="0.7"/>
<path d="M257.19 340.30v-1.59M258.80 340.30v-4.79M260.40 340.30v-8.12M262.00 340.30v-15.00M263.60 340.30v-10.30M265.20 340.30v-3.60M266.81 340.30v-1.22" fill="none" stroke="#3a3a3a" stroke-width="0.7"/>
<path d="M258.80 340.30v-1.29M260.40 340.30v-2.26M262.00 340.30v-2.74M263.60 340.30v-3.87M265.20 340.30v-1.11" stroke="#111" stroke-width="0.7" opacity="0.85"/>
<path d="M253.00 340.20H255.99M268.01 340.20H271.00" stroke="#000" stroke-width="1.0" stroke-dasharray="2.4 0.6 1.2 0.5"/>
<path d="M253.00 340.30H271.00" stroke="#333" stroke-width="0.7"/>
<path d="M279.04 340.30v-0.99M280.64 340.30v-2.45M282.25 340.30v-4.91M283.85 340.30v-8.57M285.45 340.30v-8.57M287.05 340.30v-4.44M288.65 340.30v-1.51M290.26 340.30v-1.23" fill="none" stroke="#3a3a3a" stroke-width="0.7"/>
<path d="M280.64 340.30v-0.92M282.25 340.30v-1.51M283.85 340.30v-2.28M285.45 340.30v-3.04M287.05 340.30v-1.25" stroke="#111" stroke-width="0.7" opacity="0.85"/>
<path d="M275.20 340.20H277.84M291.46 340.20H293.20" stroke="#000" stroke-width="1.0" stroke-dasharray="2.4 0.6 1.2 0.5"/>
<path d="M275.20 340.30H293.20" stroke="#333" stroke-width="0.7"/>
<path d="M301.59 340.30v-1.13M303.19 340.30v-2.34M304.80 340.30v-4.10M306.40 340.30v-11.13M308.00 340.30v-15.00M309.60 340.30v-7.33M311.20 340.30v-4.23M312.81 340.30v-2.15" fill="none" stroke="#3a3a3a" stroke-width="0.7"/>
<path d="M303.19 340.30v-0.86M304.80 340.30v-0.97M306.40 340.30v-3.98M308.00 340.30v-2.83M309.60 340.30v-1.75M311.20 340.30v-1.32M312.81 340.30v-0.79" stroke="#111" stroke-width="0.7" opacity="0.85"/>
<path d="M297.30 340.20H300.39M314.01 340.20H315.30" stroke="#000" stroke-width="1.0" stroke-dasharray="2.4 0.6 1.2 0.5"/>
<path d="M297.30 340.30H315.30" stroke="#333" stroke-width="0.7"/>
<path d="M230.44 365.00v-1.27M232.04 365.00v-1.18M233.65 365.00v-4.52M235.25 365.00v-7.50M236.85 365.00v-14.00M238.45 365.00v-6.10M240.05 365.00v-3.78M241.66 365.00v-1.53" fill="none" stroke="#3a3a3a" stroke-width="0.7"/>
<path d="M233.65 365.00v-1.59M235.25 365.00v-2.85M236.85 365.00v-3.58M238.45 365.00v-2.13M240.05 365.00v-1.34" stroke="#111" stroke-width="0.7" opacity="0.85"/>
<path d="M230.20 364.90H229.24M242.86 364.90H248.20" stroke="#000" stroke-width="1.0" stroke-dasharray="2.4 0.6 1.2 0.5"/>
<path d="M230.20 365.00H248.20" stroke="#333" stroke-width="0.7"/>
<path d="M256.84 365.00v-0.94M258.44 365.00v-2.63M260.05 365.00v-9.02M261.65 365.00v-14.28M263.25 365.00v-14.28M264.85 365.00v-8.90M266.45 365.00v-3.57M268.06 365.00v-1.88" fill="none" stroke="#3a3a3a" stroke-width="0.7"/>
<path d="M258.44 365.00v-0.60M260.05 365.00v-3.32M261.65 365.00v-3.86M263.25 365.00v-3.07M264.85 365.00v-2.17M266.45 365.00v-0.86" stroke="#111" stroke-width="0.7" opacity="0.85"/>
<path d="M253.00 364.90H255.64M269.26 364.90H271.00" stroke="#000" stroke-width="1.0" stroke-dasharray="2.4 0.6 1.2 0.5"/>
<path d="M253.00 365.00H271.00" stroke="#333" stroke-width="0.7"/>
<path d="M275.09 365.00v-1.21M276.69 365.00v-1.49M278.30 365.00v-6.67M279.90 365.00v-11.81M281.50 365.00v-15.00M283.10 365.00v-11.58M284.70 365.00v-6.04M286.31 365.00v-1.77M287.91 365.00v-1.46" fill="none" stroke="#3a3a3a" stroke-width="0.7"/>
<path d="M278.30 365.00v-1.72M279.90 365.00v-4.12M281.50 365.00v-4.35M283.10 365.00v-3.20M284.70 365.00v-2.12" stroke="#111" stroke-width="0.7" opacity="0.85"/>
<path d="M275.20 364.90H273.89M289.11 364.90H293.20" stroke="#000" stroke-width="1.0" stroke-dasharray="2.4 0.6 1.2 0.5"/>
<path d="M275.20 365.00H293.20" stroke="#333" stroke-width="0.7"/>
<path d="M300.69 365.00v-1.64M302.30 365.00v-5.07M303.90 365.00v-10.93M305.50 365.00v-15.00M307.10 365.00v-9.41M308.70 365.00v-6.30M310.31 365.00v-2.40M311.91 365.00v-1.39" fill="none" stroke="#3a3a3a" stroke-width="0.7"/>
<path d="M302.30 365.00v-1.71M303.90 365.00v-4.10M305.50 365.00v-3.22M307.10 365.00v-3.20M308.70 365.00v-1.52M310.31 365.00v-0.63" stroke="#111" stroke-width="0.7" opacity="0.85"/>
<path d="M297.30 364.90H299.49M313.11 364.90H315.30" stroke="#000" stroke-width="1.0" stroke-dasharray="2.4 0.6 1.2 0.5"/>
<path d="M297.30 365.00H315.30" stroke="#333" stroke-width="0.7"/>
<path d="M232.79 389.00v-1.60M234.39 389.00v-1.90M236.00 389.00v-3.94M237.60 389.00v-5.91M239.20 389.00v-7.00M240.80 389.00v-4.69M242.40 389.00v-3.54M244.01 389.00v-1.46M245.61 389.00v-1.44" fill="none" stroke="#3a3a3a" stroke-width="0.7"/>
<path d="M236.00 389.00v-1.32M237.60 389.00v-1.42M239.20 389.00v-1.72M240.80 389.00v-1.56M242.40 389.00v-1.04" stroke="#111" stroke-width="0.7" opacity="0.85"/>
<path d="M230.20 388.90H231.59M246.81 388.90H248.20" stroke="#000" stroke-width="1.0" stroke-dasharray="2.4 0.6 1.2 0.5"/>
<path d="M230.20 389.00H248.20" stroke="#333" stroke-width="0.7"/>
<path d="M254.69 389.00v-1.71M256.29 389.00v-3.09M257.90 389.00v-5.83M259.50 389.00v-10.04M261.10 389.00v-14.00M262.70 389.00v-8.22M264.30 389.00v-5.00M265.91 389.00v-3.08M267.51 389.00v-1.15" fill="none" stroke="#3a3a3a" stroke-width="0.7"/>
<path d="M256.29 389.00v-1.17M257.90 389.00v-1.39M259.50 389.00v-3.53M261.10 389.00v-3.90M262.70 389.00v-2.70M264.30 389.00v-1.52M265.91 389.00v-1.08" stroke="#111" stroke-width="0.7" opacity="0.85"/>
<path d="M253.00 388.90H253.49M268.71 388.90H271.00" stroke="#000" stroke-width="1.0" stroke-dasharray="2.4 0.6 1.2 0.5"/>
<path d="M253.00 389.00H271.00" stroke="#333" stroke-width="0.7"/>
<path d="M277.79 389.00v-1.18M279.39 389.00v-1.63M281.00 389.00v-5.97M282.60 389.00v-9.35M284.20 389.00v-14.00M285.80 389.00v-7.33M287.40 389.00v-5.47M289.01 389.00v-1.63M290.61 389.00v-1.67" fill="none" stroke="#3a3a3a" stroke-width="0.7"/>
<path d="M281.00 389.00v-1.93M282.60 389.00v-2.49M284.20 389.00v-3.91M285.80 389.00v-2.36M287.40 389.00v-1.34" stroke="#111" stroke-width="0.7" opacity="0.85"/>
<path d="M275.20 388.90H276.59M291.81 388.90H293.20" stroke="#000" stroke-width="1.0" stroke-dasharray="2.4 0.6 1.2 0.5"/>
<path d="M275.20 389.00H293.20" stroke="#333" stroke-width="0.7"/>
<path d="M330.00 268.40v-3.50M335.40 268.40v-14.00M337.65 268.40v-3.00M341.70 268.40v-3.00" fill="none" stroke="#333" stroke-width="0.65"/>
<path d="M330.00 268.40v-1.25M335.40 268.40v-3.00M337.65 268.40v-1.00M341.70 268.40v-1.05" stroke="#111" stroke-width="0.7" opacity="0.85"/>
<path d="M327.30 268.30H328.80M342.90 268.30H345.30" stroke="#000" stroke-width="1.0" stroke-dasharray="2.4 0.6 1.2 0.5"/>
<path d="M327.30 268.40H345.30" stroke="#333" stroke-width="0.7"/>
<path d="M352.90 268.40v-2.00M355.15 268.40v-2.00M358.30 268.40v-15.00M360.10 268.40v-4.00M362.35 268.40v-2.00" fill="none" stroke="#333" stroke-width="0.65"/>
<path d="M358.30 268.40v-4.24M360.10 268.40v-1.12" stroke="#111" stroke-width="0.7" opacity="0.85"/>
<path d="M349.30 268.30H351.70M363.55 268.30H367.30" stroke="#000" stroke-width="1.0" stroke-dasharray="2.4 0.6 1.2 0.5"/>
<path d="M349.30 268.40H367.30" stroke="#333" stroke-width="0.7"/>
<path d="M377.90 268.40v-5.00M379.70 268.40v-7.00M381.50 268.40v-15.00M383.12 268.40v-13.00M385.10 268.40v-7.00M386.90 268.40v-5.00" fill="none" stroke="#333" stroke-width="0.65"/>
<path d="M377.90 268.40v-1.40M379.70 268.40v-2.32M381.50 268.40v-2.76M383.12 268.40v-4.09M385.10 268.40v-2.26M386.90 268.40v-1.89" stroke="#111" stroke-width="0.7" opacity="0.85"/>
<path d="M373.40 268.30H376.70M388.10 268.30H391.40" stroke="#000" stroke-width="1.0" stroke-dasharray="2.4 0.6 1.2 0.5"/>
<path d="M373.40 268.40H391.40" stroke="#333" stroke-width="0.7"/>
<path d="M402.40 268.40v-4.00M404.20 268.40v-6.00M406.00 268.40v-10.00M407.80 268.40v-14.00M409.15 268.40v-15.00M410.50 268.40v-3.00" fill="none" stroke="#333" stroke-width="0.65"/>
<path d="M402.40 268.40v-1.29M404.20 268.40v-1.64M406.00 268.40v-2.45M407.80 268.40v-4.31M409.15 268.40v-4.38M410.50 268.40v-1.06" stroke="#111" stroke-width="0.7" opacity="0.85"/>
<path d="M397.00 268.30H401.20M411.70 268.30H415.00" stroke="#000" stroke-width="1.0" stroke-dasharray="2.4 0.6 1.2 0.5"/>
<path d="M397.00 268.40H415.00" stroke="#333" stroke-width="0.7"/>
<path d="M327.30 292.50H345.30" stroke="#888" stroke-width="0.6"/>
<path d="M349.30 292.50H367.30" stroke="#888" stroke-width="0.6"/>
<path d="M378.80 292.50v-3.00M380.60 292.50v-6.00M382.40 292.50v-14.00M383.75 292.50v-10.00M385.10 292.50v-6.00M386.90 292.50v-3.00" fill="none" stroke="#333" stroke-width="0.65"/>
<path d="M378.80 292.50v-1.02M380.60 292.50v-1.37M382.40 292.50v-3.14M383.75 292.50v-3.73M385.10 292.50v-2.07M386.90 292.50v-0.69" stroke="#111" stroke-width="0.7" opacity="0.85"/>
<path d="M373.40 292.40H377.60M388.10 292.40H391.40" stroke="#000" stroke-width="1.0" stroke-dasharray="2.4 0.6 1.2 0.5"/>
<path d="M373.40 292.50H391.40" stroke="#333" stroke-width="0.7"/>
<path d="M403.30 292.50v-2.00M405.10 292.50v-4.00M407.35 292.50v-15.00M409.15 292.50v-4.00" fill="none" stroke="#333" stroke-width="0.65"/>
<path d="M405.10 292.50v-1.36M407.35 292.50v-4.49M409.15 292.50v-1.27" stroke="#111" stroke-width="0.7" opacity="0.85"/>
<path d="M397.00 292.40H402.10M410.35 292.40H415.00" stroke="#000" stroke-width="1.0" stroke-dasharray="2.4 0.6 1.2 0.5"/>
<path d="M397.00 292.50H415.00" stroke="#333" stroke-width="0.7"/>
<path d="M334.50 316.40v-4.00M336.30 316.40v-8.00M337.65 316.40v-14.00M339.90 316.40v-2.00" fill="none" stroke="#333" stroke-width="0.65"/>
<path d="M334.50 316.40v-1.13M336.30 316.40v-2.43M337.65 316.40v-3.80" stroke="#111" stroke-width="0.7" opacity="0.85"/>
<path d="M327.30 316.30H333.30M341.10 316.30H345.30" stroke="#000" stroke-width="1.0" stroke-dasharray="2.4 0.6 1.2 0.5"/>
<path d="M327.30 316.40H345.30" stroke="#333" stroke-width="0.7"/>
<path d="M353.80 316.40v-4.00M355.60 316.40v-14.00M357.40 316.40v-10.00M359.20 316.40v-6.00M361.00 316.40v-11.00M362.80 316.40v-3.00" fill="none" stroke="#333" stroke-width="0.65"/>
<path d="M353.80 316.40v-0.91M355.60 316.40v-3.05M357.40 316.40v-3.07M359.20 316.40v-2.18M361.00 316.40v-2.51M362.80 316.40v-0.89" stroke="#111" stroke-width="0.7" opacity="0.85"/>
<path d="M349.30 316.30H352.60M364.00 316.30H367.30" stroke="#000" stroke-width="1.0" stroke-dasharray="2.4 0.6 1.2 0.5"/>
<path d="M349.30 316.40H367.30" stroke="#333" stroke-width="0.7"/>
<path d="M373.40 316.40H391.40" stroke="#888" stroke-width="0.6"/>
<path d="M402.40 316.40v-2.00M405.10 316.40v-6.00M406.45 316.40v-14.00M407.80 316.40v-8.00M409.60 316.40v-4.00M411.40 316.40v-3.00" fill="none" stroke="#333" stroke-width="0.65"/>
<path d="M405.10 316.40v-1.67M406.45 316.40v-3.40M407.80 316.40v-2.57M409.60 316.40v-1.51M411.40 316.40v-0.95" stroke="#111" stroke-width="0.7" opacity="0.85"/>
<path d="M397.00 316.30H401.20M412.60 316.30H415.00" stroke="#000" stroke-width="1.0" stroke-dasharray="2.4 0.6 1.2 0.5"/>
<path d="M397.00 316.40H415.00" stroke="#333" stroke-width="0.7"/>
<path d="M336.30 340.30v-14.00" fill="none" stroke="#666" stroke-width="0.65"/>
<path d="M336.30 340.30v-3.37" stroke="#111" stroke-width="0.7" opacity="0.85"/>
<path d="M327.30 340.30H345.30" stroke="#888" stroke-width="0.7"/>
<path d="M327.30 340.05H335.40" stroke="#000" stroke-width="1.1"/>
<path d="M361.00 340.30v-15.00" fill="none" stroke="#666" stroke-width="0.65"/>
<path d="M361.00 340.30v-4.05" stroke="#111" stroke-width="0.7" opacity="0.85"/>
<path d="M349.30 340.30H367.30" stroke="#888" stroke-width="0.7"/>
<path d="M349.30 339.65H365.95" stroke="#000" stroke-width="1.9"/>
<path d="M384.65 340.30v-15.00" fill="none" stroke="#666" stroke-width="0.65"/>
<path d="M384.65 340.30v-4.23" stroke="#111" stroke-width="0.7" opacity="0.85"/>
<path d="M373.40 340.30H391.40" stroke="#888" stroke-width="0.7"/>
<path d="M402.85 340.30v-15.00M404.20 340.30v-15.00M405.55 340.30v-13.00M407.08 340.30v-6.00M410.50 340.30v-8.00M412.30 340.30v-5.00" fill="none" stroke="#333" stroke-width="0.65"/>
<path d="M402.85 340.30v-2.91M404.20 340.30v-2.93M405.55 340.30v-3.59M407.08 340.30v-2.03M410.50 340.30v-2.03M412.30 340.30v-1.43" stroke="#111" stroke-width="0.7" opacity="0.85"/>
<path d="M397.00 340.20H401.65M413.50 340.20H415.00" stroke="#000" stroke-width="1.0" stroke-dasharray="2.4 0.6 1.2 0.5"/>
<path d="M397.00 340.30H415.00" stroke="#333" stroke-width="0.7"/>
<path d="M334.05 365.00v-14.00M335.40 365.00v-6.00M337.20 365.00v-8.00M339.00 365.00v-5.00" fill="none" stroke="#333" stroke-width="0.65"/>
<path d="M334.05 365.00v-3.72M335.40 365.00v-1.78M337.20 365.00v-2.26M339.00 365.00v-1.16" stroke="#111" stroke-width="0.7" opacity="0.85"/>
<path d="M327.30 364.90H332.85M340.20 364.90H345.30" stroke="#000" stroke-width="1.0" stroke-dasharray="2.4 0.6 1.2 0.5"/>
<path d="M327.30 365.00H345.30" stroke="#333" stroke-width="0.7"/>
<path d="M355.60 365.00v-3.00M357.40 365.00v-5.00M358.75 365.00v-8.00M360.10 365.00v-15.00M361.45 365.00v-6.00" fill="none" stroke="#333" stroke-width="0.65"/>
<path d="M355.60 365.00v-1.07M357.40 365.00v-1.36M358.75 365.00v-2.72M360.10 365.00v-3.44M361.45 365.00v-2.16" stroke="#111" stroke-width="0.7" opacity="0.85"/>
<path d="M349.30 364.90H354.40M362.65 364.90H367.30" stroke="#000" stroke-width="1.0" stroke-dasharray="2.4 0.6 1.2 0.5"/>
<path d="M349.30 365.00H367.30" stroke="#333" stroke-width="0.7"/>
<path d="M377.90 365.00v-2.00M379.70 365.00v-4.00M381.50 365.00v-14.00M382.85 365.00v-8.00M384.65 365.00v-5.00M386.90 365.00v-3.00M388.70 365.00v-2.00" fill="none" stroke="#333" stroke-width="0.65"/>
<path d="M379.70 365.00v-1.39M381.50 365.00v-3.07M382.85 365.00v-3.02M384.65 365.00v-1.56M386.90 365.00v-0.92" stroke="#111" stroke-width="0.7" opacity="0.85"/>
<path d="M373.40 364.90H376.70M389.90 364.90H391.40" stroke="#000" stroke-width="1.0" stroke-dasharray="2.4 0.6 1.2 0.5"/>
<path d="M373.40 365.00H391.40" stroke="#333" stroke-width="0.7"/>
<path d="M404.20 365.00v-2.00M406.45 365.00v-15.00M408.70 365.00v-3.00" fill="none" stroke="#333" stroke-width="0.65"/>
<path d="M406.45 365.00v-3.32M408.70 365.00v-0.93" stroke="#111" stroke-width="0.7" opacity="0.85"/>
<path d="M397.00 364.90H403.00M409.90 364.90H415.00" stroke="#000" stroke-width="1.0" stroke-dasharray="2.4 0.6 1.2 0.5"/>
<path d="M397.00 365.00H415.00" stroke="#333" stroke-width="0.7"/>
<path d="M336.75 389.00v-15.00" fill="none" stroke="#666" stroke-width="0.65"/>
<path d="M336.75 389.00v-3.60" stroke="#111" stroke-width="0.7" opacity="0.85"/>
<path d="M327.30 389.00H345.30" stroke="#888" stroke-width="0.7"/>
<path d="M327.30 388.75H345.30" stroke="#000" stroke-width="1.1"/>
<path d="M359.20 389.00v-14.00M361.45 389.00v-2.00" fill="none" stroke="#333" stroke-width="0.65"/>
<path d="M359.20 389.00v-4.13" stroke="#111" stroke-width="0.7" opacity="0.85"/>
<path d="M349.30 389.00H367.30" stroke="#888" stroke-width="0.7"/>
<path d="M382.40 389.00v-15.00M385.10 389.00v-2.00" fill="none" stroke="#333" stroke-width="0.65"/>
<path d="M382.40 389.00v-2.89" stroke="#111" stroke-width="0.7" opacity="0.85"/>
<path d="M373.40 389.00H391.40" stroke="#888" stroke-width="0.7"/>
<path d="M426.95 268.40v-7.00M430.10 268.40v-13.00M431.45 268.40v-15.00M432.80 268.40v-14.00M439.55 268.40v-11.00" fill="none" stroke="#333" stroke-width="0.65"/>
<path d="M426.95 268.40v-2.53M430.10 268.40v-2.72M431.45 268.40v-4.25M432.80 268.40v-4.32M439.55 268.40v-3.66" stroke="#111" stroke-width="0.7" opacity="0.85"/>
<path d="M424.70 268.30H425.75M440.75 268.30H442.70" stroke="#000" stroke-width="1.0" stroke-dasharray="2.4 0.6 1.2 0.5"/>
<path d="M424.70 268.40H442.70" stroke="#333" stroke-width="0.7"/>
<path d="M453.70 268.40v-5.00M455.05 268.40v-15.00M456.40 268.40v-13.00M457.75 268.40v-14.00M459.10 268.40v-7.00M460.90 268.40v-3.00" fill="none" stroke="#333" stroke-width="0.65"/>
<path d="M453.70 268.40v-1.67M455.05 268.40v-4.13M456.40 268.40v-3.86M457.75 268.40v-3.56M459.10 268.40v-1.94M460.90 268.40v-0.93" stroke="#111" stroke-width="0.7" opacity="0.85"/>
<path d="M448.30 268.30H452.50M462.10 268.30H466.30" stroke="#000" stroke-width="1.0" stroke-dasharray="2.4 0.6 1.2 0.5"/>
<path d="M448.30 268.40H466.30" stroke="#333" stroke-width="0.7"/>
<path d="M474.10 268.40v-3.00M475.90 268.40v-5.00M477.70 268.40v-8.00M479.50 268.40v-15.00M481.30 268.40v-5.00" fill="none" stroke="#333" stroke-width="0.65"/>
<path d="M474.10 268.40v-0.71M475.90 268.40v-1.82M477.70 268.40v-2.05M479.50 268.40v-3.74M481.30 268.40v-1.37" stroke="#111" stroke-width="0.7" opacity="0.85"/>
<path d="M469.60 268.30H472.90M482.50 268.30H487.60" stroke="#000" stroke-width="1.0" stroke-dasharray="2.4 0.6 1.2 0.5"/>
<path d="M469.60 268.40H487.60" stroke="#333" stroke-width="0.7"/>
<path d="M498.30 268.40v-2.00M500.10 268.40v-4.00M501.90 268.40v-7.00M503.25 268.40v-9.00M504.60 268.40v-15.00M505.95 268.40v-3.00" fill="none" stroke="#333" stroke-width="0.65"/>
<path d="M500.10 268.40v-0.99M501.90 268.40v-2.55M503.25 268.40v-3.23M504.60 268.40v-3.14M505.95 268.40v-1.13" stroke="#111" stroke-width="0.7" opacity="0.85"/>
<path d="M492.00 268.30H497.10M507.15 268.30H510.00" stroke="#000" stroke-width="1.0" stroke-dasharray="2.4 0.6 1.2 0.5"/>
<path d="M492.00 268.40H510.00" stroke="#333" stroke-width="0.7"/>
<path d="M438.65 292.50v-12.00" fill="none" stroke="#666" stroke-width="0.65"/>
<path d="M438.65 292.50v-3.61" stroke="#111" stroke-width="0.7" opacity="0.85"/>
<path d="M424.70 292.50H442.70" stroke="#888" stroke-width="0.7"/>
<path d="M424.70 291.85H442.70" stroke="#000" stroke-width="1.9"/>
<path d="M452.35 292.50v-15.00M454.15 292.50v-7.00M455.50 292.50v-5.00M457.30 292.50v-4.00M459.10 292.50v-2.00" fill="none" stroke="#333" stroke-width="0.65"/>
<path d="M452.35 292.50v-3.28M454.15 292.50v-2.40M455.50 292.50v-1.84M457.30 292.50v-0.95" stroke="#111" stroke-width="0.7" opacity="0.85"/>
<path d="M448.30 292.40H451.15M460.30 292.40H466.30" stroke="#000" stroke-width="1.0" stroke-dasharray="2.4 0.6 1.2 0.5"/>
<path d="M448.30 292.50H466.30" stroke="#333" stroke-width="0.7"/>
<path d="M475.90 292.50v-3.00M477.70 292.50v-8.00M479.05 292.50v-15.00M480.40 292.50v-10.00M481.75 292.50v-5.00" fill="none" stroke="#333" stroke-width="0.65"/>
<path d="M475.90 292.50v-0.91M477.70 292.50v-2.10M479.05 292.50v-3.45M480.40 292.50v-2.40M481.75 292.50v-1.43" stroke="#111" stroke-width="0.7" opacity="0.85"/>
<path d="M469.60 292.40H474.70M482.95 292.40H487.60" stroke="#000" stroke-width="1.0" stroke-dasharray="2.4 0.6 1.2 0.5"/>
<path d="M469.60 292.50H487.60" stroke="#333" stroke-width="0.7"/>
<path d="M501.45 292.50v-14.00M502.80 292.50v-13.00M503.97 292.50v-8.00" fill="none" stroke="#333" stroke-width="0.65"/>
<path d="M501.45 292.50v-3.54M502.80 292.50v-3.24M503.97 292.50v-2.13" stroke="#111" stroke-width="0.7" opacity="0.85"/>
<path d="M492.00 292.40H500.25M505.17 292.40H510.00" stroke="#000" stroke-width="1.0" stroke-dasharray="2.4 0.6 1.2 0.5"/>
<path d="M492.00 292.50H510.00" stroke="#333" stroke-width="0.7"/>
<path d="M492.00 292.25H501.00" stroke="#000" stroke-width="1.1"/>
<path d="M429.20 316.40v-4.00M431.00 316.40v-10.00M432.35 316.40v-14.00M433.70 316.40v-7.00M435.50 316.40v-4.00M437.30 316.40v-2.00" fill="none" stroke="#333" stroke-width="0.65"/>
<path d="M429.20 316.40v-1.42M431.00 316.40v-3.71M432.35 316.40v-4.34M433.70 316.40v-2.29M435.50 316.40v-1.25" stroke="#111" stroke-width="0.7" opacity="0.85"/>
<path d="M424.70 316.30H428.00M438.50 316.30H442.70" stroke="#000" stroke-width="1.0" stroke-dasharray="2.4 0.6 1.2 0.5"/>
<path d="M424.70 316.40H442.70" stroke="#333" stroke-width="0.7"/>
<path d="M452.80 316.40v-2.00M455.50 316.40v-2.00M459.55 316.40v-5.00M462.25 316.40v-15.00" fill="none" stroke="#333" stroke-width="0.65"/>
<path d="M459.55 316.40v-1.76M462.25 316.40v-3.33" stroke="#111" stroke-width="0.7" opacity="0.85"/>
<path d="M448.30 316.30H451.60M463.45 316.30H466.30" stroke="#000" stroke-width="1.0" stroke-dasharray="2.4 0.6 1.2 0.5"/>
<path d="M448.30 316.40H466.30" stroke="#333" stroke-width="0.7"/>
<path d="M475.00 316.40v-3.00M477.70 316.40v-15.00M479.50 316.40v-6.00M481.30 316.40v-5.00M483.10 316.40v-3.00" fill="none" stroke="#333" stroke-width="0.65"/>
<path d="M475.00 316.40v-0.69M477.70 316.40v-3.72M479.50 316.40v-1.90M481.30 316.40v-1.27M483.10 316.40v-0.76" stroke="#111" stroke-width="0.7" opacity="0.85"/>
<path d="M469.60 316.30H473.80M484.30 316.30H487.60" stroke="#000" stroke-width="1.0" stroke-dasharray="2.4 0.6 1.2 0.5"/>
<path d="M469.60 316.40H487.60" stroke="#333" stroke-width="0.7"/>
<path d="M496.50 316.40v-3.00M498.30 316.40v-7.00M500.10 316.40v-11.00M501.90 316.40v-14.00M503.70 316.40v-13.00M505.50 316.40v-9.00" fill="none" stroke="#333" stroke-width="0.65"/>
<path d="M496.50 316.40v-0.91M498.30 316.40v-1.74M500.10 316.40v-3.98M501.90 316.40v-3.14M503.70 316.40v-3.68M505.50 316.40v-2.79" stroke="#111" stroke-width="0.7" opacity="0.85"/>
<path d="M492.00 316.30H495.30M506.70 316.30H510.00" stroke="#000" stroke-width="1.0" stroke-dasharray="2.4 0.6 1.2 0.5"/>
<path d="M492.00 316.40H510.00" stroke="#333" stroke-width="0.7"/>
<path d="M429.20 340.30v-2.00M431.90 340.30v-3.00M433.70 340.30v-15.00M435.50 340.30v-4.00M438.20 340.30v-10.00" fill="none" stroke="#333" stroke-width="0.65"/>
<path d="M431.90 340.30v-0.78M433.70 340.30v-4.01M435.50 340.30v-1.44M438.20 340.30v-3.44" stroke="#111" stroke-width="0.7" opacity="0.85"/>
<path d="M424.70 340.20H428.00M439.40 340.20H442.70" stroke="#000" stroke-width="1.0" stroke-dasharray="2.4 0.6 1.2 0.5"/>
<path d="M424.70 340.30H442.70" stroke="#333" stroke-width="0.7"/>
<path d="M424.70 339.95H440.00" stroke="#000" stroke-width="1.3"/>
<path d="M458.65 340.30v-15.00M460.00 340.30v-4.00" fill="none" stroke="#666" stroke-width="0.65"/>
<path d="M458.65 340.30v-3.44M460.00 340.30v-0.96" stroke="#111" stroke-width="0.7" opacity="0.85"/>
<path d="M448.30 340.30H466.30" stroke="#888" stroke-width="0.7"/>
<path d="M478.60 340.30v-15.00" fill="none" stroke="#666" stroke-width="0.65"/>
<path d="M478.60 340.30v-3.23" stroke="#111" stroke-width="0.7" opacity="0.85"/>
<path d="M469.60 340.30H487.60" stroke="#888" stroke-width="0.7"/>
<path d="M499.20 340.30v-3.00M501.00 340.30v-6.00M502.80 340.30v-15.00M504.15 340.30v-8.00M505.50 340.30v-3.00" fill="none" stroke="#333" stroke-width="0.65"/>
<path d="M499.20 340.30v-1.06M501.00 340.30v-1.75M502.80 340.30v-2.94M504.15 340.30v-2.82M505.50 340.30v-0.94" stroke="#111" stroke-width="0.7" opacity="0.85"/>
<path d="M492.00 340.20H498.00M506.70 340.20H510.00" stroke="#000" stroke-width="1.0" stroke-dasharray="2.4 0.6 1.2 0.5"/>
<path d="M492.00 340.30H510.00" stroke="#333" stroke-width="0.7"/>
<path d="M430.10 365.00v-3.00M431.90 365.00v-15.00M433.70 365.00v-7.00M435.50 365.00v-4.00M437.30 365.00v-3.00" fill="none" stroke="#333" stroke-width="0.65"/>
<path d="M430.10 365.00v-1.03M431.90 365.00v-3.13M433.70 365.00v-1.64M435.50 365.00v-0.95M437.30 365.00v-1.12" stroke="#111" stroke-width="0.7" opacity="0.85"/>
<path d="M424.70 364.90H428.90M438.50 364.90H442.70" stroke="#000" stroke-width="1.0" stroke-dasharray="2.4 0.6 1.2 0.5"/>
<path d="M424.70 365.00H442.70" stroke="#333" stroke-width="0.7"/>
<path d="M452.80 365.00v-3.00M454.60 365.00v-6.00M456.40 365.00v-9.00M457.75 365.00v-15.00M459.10 365.00v-10.00M460.90 365.00v-6.00" fill="none" stroke="#333" stroke-width="0.65"/>
<path d="M452.80 365.00v-0.96M454.60 365.00v-1.47M456.40 365.00v-2.94M457.75 365.00v-3.55M459.10 365.00v-2.93M460.90 365.00v-1.44" stroke="#111" stroke-width="0.7" opacity="0.85"/>
<path d="M448.30 364.90H451.60M462.10 364.90H466.30" stroke="#000" stroke-width="1.0" stroke-dasharray="2.4 0.6 1.2 0.5"/>
<path d="M448.30 365.00H466.30" stroke="#333" stroke-width="0.7"/>
<path d="M474.10 365.00v-3.00M475.90 365.00v-5.00M477.70 365.00v-10.00M479.50 365.00v-15.00M481.30 365.00v-7.00M483.10 365.00v-3.00" fill="none" stroke="#333" stroke-width="0.65"/>
<path d="M474.10 365.00v-0.74M475.90 365.00v-1.63M477.70 365.00v-3.74M479.50 365.00v-3.14M481.30 365.00v-2.57M483.10 365.00v-0.70" stroke="#111" stroke-width="0.7" opacity="0.85"/>
<path d="M469.60 364.90H472.90M484.30 364.90H487.60" stroke="#000" stroke-width="1.0" stroke-dasharray="2.4 0.6 1.2 0.5"/>
<path d="M469.60 365.00H487.60" stroke="#333" stroke-width="0.7"/>
<path d="M498.30 365.00v-2.00M500.10 365.00v-3.00M501.45 365.00v-15.00M503.25 365.00v-4.00M505.50 365.00v-2.00" fill="none" stroke="#333" stroke-width="0.65"/>
<path d="M500.10 365.00v-0.95M501.45 365.00v-3.34M503.25 365.00v-1.29" stroke="#111" stroke-width="0.7" opacity="0.85"/>
<path d="M492.00 364.90H497.10M506.70 364.90H510.00" stroke="#000" stroke-width="1.0" stroke-dasharray="2.4 0.6 1.2 0.5"/>
<path d="M492.00 365.00H510.00" stroke="#333" stroke-width="0.7"/>
<path d="M429.20 389.00v-3.00M431.00 389.00v-6.00M432.35 389.00v-9.00M433.70 389.00v-14.00M435.05 389.00v-6.00M436.85 389.00v-3.00" fill="none" stroke="#333" stroke-width="0.65"/>
<path d="M429.20 389.00v-0.79M431.00 389.00v-1.63M432.35 389.00v-3.32M433.70 389.00v-3.40M435.05 389.00v-1.90M436.85 389.00v-0.98" stroke="#111" stroke-width="0.7" opacity="0.85"/>
<path d="M424.70 388.90H428.00M438.05 388.90H442.70" stroke="#000" stroke-width="1.0" stroke-dasharray="2.4 0.6 1.2 0.5"/>
<path d="M424.70 389.00H442.70" stroke="#333" stroke-width="0.7"/>
<path d="M454.60 389.00v-1.50M457.30 389.00v-15.00M460.00 389.00v-2.00" fill="none" stroke="#333" stroke-width="0.65"/>
<path d="M457.30 389.00v-4.05" stroke="#111" stroke-width="0.7" opacity="0.85"/>
<path d="M448.30 388.90H453.40M461.20 388.90H466.30" stroke="#000" stroke-width="1.0" stroke-dasharray="2.4 0.6 1.2 0.5"/>
<path d="M448.30 389.00H466.30" stroke="#333" stroke-width="0.7"/>
<path d="M475.45 389.00v-3.00M477.25 389.00v-14.00M478.60 389.00v-8.00M479.95 389.00v-5.00M481.75 389.00v-4.00M483.10 389.00v-2.00" fill="none" stroke="#333" stroke-width="0.65"/>
<path d="M475.45 389.00v-1.11M477.25 389.00v-3.95M478.60 389.00v-2.59M479.95 389.00v-1.68M481.75 389.00v-1.34" stroke="#111" stroke-width="0.7" opacity="0.85"/>
<path d="M469.60 388.90H474.25M484.30 388.90H487.60" stroke="#000" stroke-width="1.0" stroke-dasharray="2.4 0.6 1.2 0.5"/>
<path d="M469.60 389.00H487.60" stroke="#333" stroke-width="0.7"/>
</svg>
</body></html>
